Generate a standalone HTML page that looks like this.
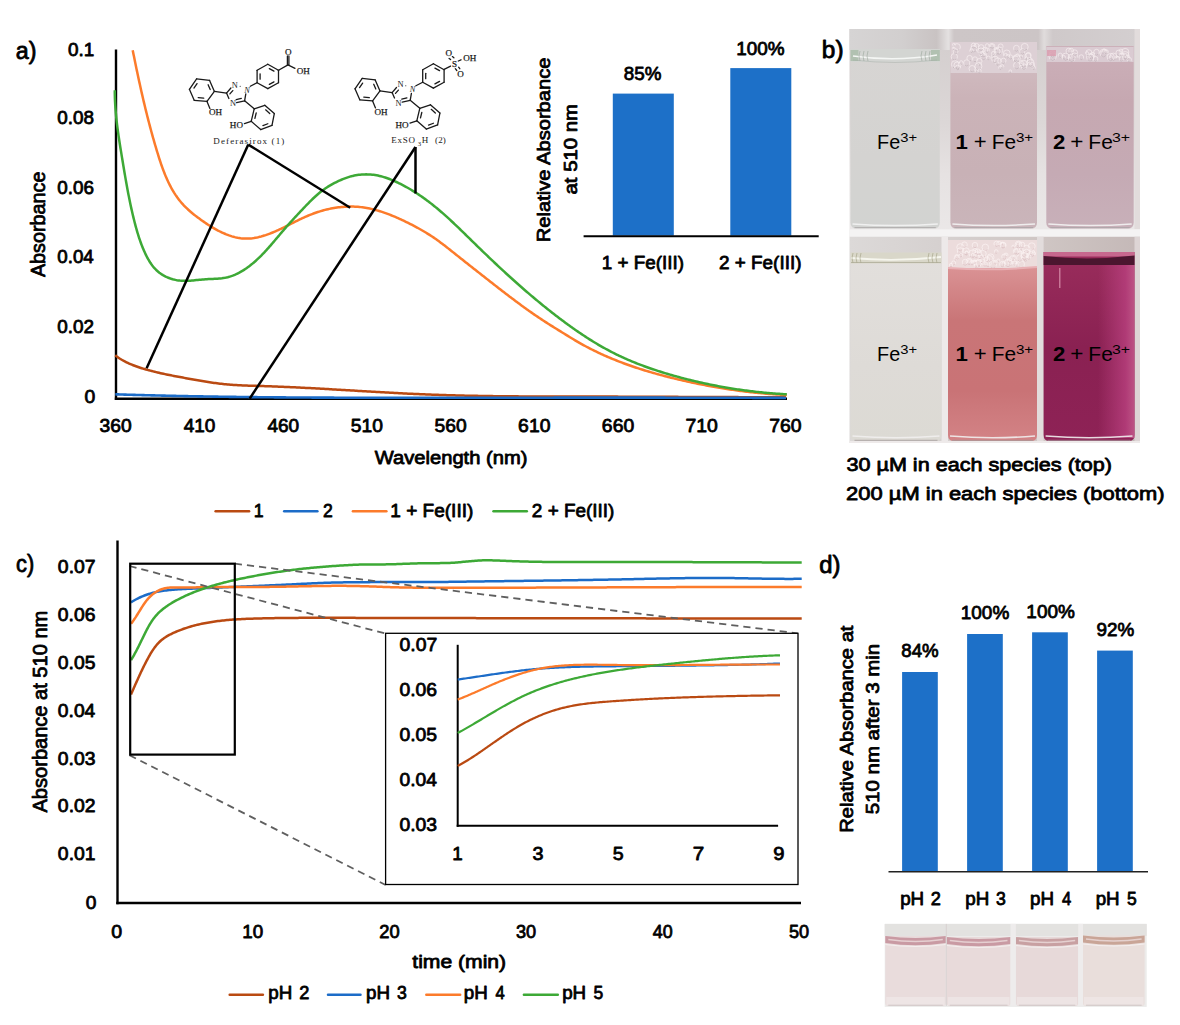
<!DOCTYPE html>
<html><head><meta charset="utf-8"><title>figure</title>
<style>html,body{margin:0;padding:0;background:#fff;}svg{display:block;}</style>
</head><body>
<svg width="1180" height="1025" viewBox="0 0 1180 1025">
<defs>
<linearGradient id="v1t" x1="0" y1="0" x2="0" y2="1"><stop offset="0" stop-color="#d7d5d3"/><stop offset="0.6" stop-color="#d4d3d1"/><stop offset="1" stop-color="#d2d3d1"/></linearGradient>
<linearGradient id="gapt" x1="0" y1="0" x2="0" y2="1"><stop offset="0" stop-color="#d3cdcd"/><stop offset="0.45" stop-color="#dcd7d7"/><stop offset="0.7" stop-color="#e6e2e2"/><stop offset="1" stop-color="#ebe8e8"/></linearGradient>
<linearGradient id="topband" x1="0" y1="0" x2="1" y2="0"><stop offset="0" stop-color="#d6d4d4"/><stop offset="0.18" stop-color="#d2cfcf"/><stop offset="0.3" stop-color="#c9c3c3"/><stop offset="0.34" stop-color="#e4e1e1"/><stop offset="0.36" stop-color="#cdc6c7"/><stop offset="0.65" stop-color="#ccc5c6"/><stop offset="0.67" stop-color="#e0dcdc"/><stop offset="0.7" stop-color="#cfc9ca"/><stop offset="1" stop-color="#d4cfd0"/></linearGradient>
<linearGradient id="botband" x1="0" y1="0" x2="1" y2="0"><stop offset="0" stop-color="#dcd9d8"/><stop offset="0.3" stop-color="#d6d1d0"/><stop offset="0.66" stop-color="#cfc6c4"/><stop offset="1" stop-color="#c4b8b7"/></linearGradient>
<linearGradient id="v2t" x1="0" y1="0" x2="0" y2="1"><stop offset="0" stop-color="#d4c0c5"/><stop offset="0.3" stop-color="#cbb3b8"/><stop offset="0.7" stop-color="#c8b1b6"/><stop offset="1" stop-color="#cab5ba"/></linearGradient>
<linearGradient id="v3t" x1="0" y1="0" x2="0" y2="1"><stop offset="0" stop-color="#ccb0b9"/><stop offset="0.3" stop-color="#c6a8b1"/><stop offset="0.7" stop-color="#c5aab4"/><stop offset="1" stop-color="#c8b0b9"/></linearGradient>
<linearGradient id="v1b" x1="0" y1="0" x2="0" y2="1"><stop offset="0" stop-color="#e2dfdc"/><stop offset="0.6" stop-color="#dedbd7"/><stop offset="1" stop-color="#dcdad4"/></linearGradient>
<linearGradient id="v2b" x1="0" y1="0" x2="0" y2="1"><stop offset="0" stop-color="#e6cfd0"/><stop offset="0.14" stop-color="#da9294"/><stop offset="0.4" stop-color="#c97577"/><stop offset="0.75" stop-color="#c97376"/><stop offset="1" stop-color="#d38386"/></linearGradient>
<linearGradient id="v3b" x1="0" y1="0" x2="0" y2="1"><stop offset="0" stop-color="#9a2d5c"/><stop offset="0.5" stop-color="#8a2152"/><stop offset="1" stop-color="#8e2256"/></linearGradient>
<linearGradient id="v3bh" x1="0" y1="0" x2="1" y2="0"><stop offset="0" stop-color="#b8407e" stop-opacity="0"/><stop offset="0.6" stop-color="#b8407e" stop-opacity="0"/><stop offset="0.9" stop-color="#b8407e" stop-opacity="0.8"/><stop offset="1" stop-color="#c25a8a" stop-opacity="0.9"/></linearGradient>
<linearGradient id="dph" x1="0" y1="0" x2="0" y2="1"><stop offset="0" stop-color="#ecdcdc"/><stop offset="1" stop-color="#e9dcdb"/></linearGradient>
</defs>
<rect width="1180" height="1025" fill="#fff"/>
<text x="15.89" y="59.00" font-family='"Liberation Sans", sans-serif' font-size="23" font-weight="normal" stroke="#000" stroke-width="0.8" stroke-linejoin="round" font-style="normal" fill="#000" textLength="20.67" lengthAdjust="spacingAndGlyphs" >a)</text>
<text x="821.83" y="57.60" font-family='"Liberation Sans", sans-serif' font-size="23" font-weight="normal" stroke="#000" stroke-width="0.8" stroke-linejoin="round" font-style="normal" fill="#000" textLength="21.68" lengthAdjust="spacingAndGlyphs" >b)</text>
<text x="16.03" y="572.30" font-family='"Liberation Sans", sans-serif' font-size="23" font-weight="normal" stroke="#000" stroke-width="0.8" stroke-linejoin="round" font-style="normal" fill="#000" textLength="18.17" lengthAdjust="spacingAndGlyphs" >c)</text>
<text x="819.18" y="573.00" font-family='"Liberation Sans", sans-serif' font-size="23" font-weight="normal" stroke="#000" stroke-width="0.8" stroke-linejoin="round" font-style="normal" fill="#000" textLength="21.21" lengthAdjust="spacingAndGlyphs" >d)</text>
<line x1="116" y1="49.5" x2="116" y2="400" stroke="#000" stroke-width="2.4" />
<line x1="114.8" y1="398.8" x2="787" y2="398.8" stroke="#000" stroke-width="2.4" />
<text x="67.90" y="55.50" font-family='"Liberation Sans", sans-serif' font-size="18.6" font-weight="normal" stroke="#000" stroke-width="0.8" stroke-linejoin="round" font-style="normal" fill="#000" textLength="26.27" lengthAdjust="spacingAndGlyphs" >0.1</text>
<text x="57.30" y="123.80" font-family='"Liberation Sans", sans-serif' font-size="18.6" font-weight="normal" stroke="#000" stroke-width="0.8" stroke-linejoin="round" font-style="normal" fill="#000" textLength="36.71" lengthAdjust="spacingAndGlyphs" >0.08</text>
<text x="57.30" y="193.50" font-family='"Liberation Sans", sans-serif' font-size="18.6" font-weight="normal" stroke="#000" stroke-width="0.8" stroke-linejoin="round" font-style="normal" fill="#000" textLength="36.71" lengthAdjust="spacingAndGlyphs" >0.06</text>
<text x="57.30" y="263.20" font-family='"Liberation Sans", sans-serif' font-size="18.6" font-weight="normal" stroke="#000" stroke-width="0.8" stroke-linejoin="round" font-style="normal" fill="#000" textLength="36.51" lengthAdjust="spacingAndGlyphs" >0.04</text>
<text x="57.29" y="332.90" font-family='"Liberation Sans", sans-serif' font-size="18.6" font-weight="normal" stroke="#000" stroke-width="0.8" stroke-linejoin="round" font-style="normal" fill="#000" textLength="36.82" lengthAdjust="spacingAndGlyphs" >0.02</text>
<text x="84.59" y="402.60" font-family='"Liberation Sans", sans-serif' font-size="18.6" font-weight="normal" stroke="#000" stroke-width="0.8" stroke-linejoin="round" font-style="normal" fill="#000" textLength="10.77" lengthAdjust="spacingAndGlyphs" >0</text>
<text x="99.59" y="431.50" font-family='"Liberation Sans", sans-serif' font-size="18.6" font-weight="normal" stroke="#000" stroke-width="0.8" stroke-linejoin="round" font-style="normal" fill="#000" textLength="32.06" lengthAdjust="spacingAndGlyphs" >360</text>
<text x="183.65" y="431.50" font-family='"Liberation Sans", sans-serif' font-size="18.6" font-weight="normal" stroke="#000" stroke-width="0.8" stroke-linejoin="round" font-style="normal" fill="#000" textLength="31.74" lengthAdjust="spacingAndGlyphs" >410</text>
<text x="267.40" y="431.50" font-family='"Liberation Sans", sans-serif' font-size="18.6" font-weight="normal" stroke="#000" stroke-width="0.8" stroke-linejoin="round" font-style="normal" fill="#000" textLength="31.74" lengthAdjust="spacingAndGlyphs" >460</text>
<text x="350.84" y="431.50" font-family='"Liberation Sans", sans-serif' font-size="18.6" font-weight="normal" stroke="#000" stroke-width="0.8" stroke-linejoin="round" font-style="normal" fill="#000" textLength="32.06" lengthAdjust="spacingAndGlyphs" >510</text>
<text x="434.59" y="431.50" font-family='"Liberation Sans", sans-serif' font-size="18.6" font-weight="normal" stroke="#000" stroke-width="0.8" stroke-linejoin="round" font-style="normal" fill="#000" textLength="32.06" lengthAdjust="spacingAndGlyphs" >560</text>
<text x="518.13" y="431.50" font-family='"Liberation Sans", sans-serif' font-size="18.6" font-weight="normal" stroke="#000" stroke-width="0.8" stroke-linejoin="round" font-style="normal" fill="#000" textLength="32.27" lengthAdjust="spacingAndGlyphs" >610</text>
<text x="601.88" y="431.50" font-family='"Liberation Sans", sans-serif' font-size="18.6" font-weight="normal" stroke="#000" stroke-width="0.8" stroke-linejoin="round" font-style="normal" fill="#000" textLength="32.27" lengthAdjust="spacingAndGlyphs" >660</text>
<text x="685.52" y="431.50" font-family='"Liberation Sans", sans-serif' font-size="18.6" font-weight="normal" stroke="#000" stroke-width="0.8" stroke-linejoin="round" font-style="normal" fill="#000" textLength="32.37" lengthAdjust="spacingAndGlyphs" >710</text>
<text x="769.27" y="431.50" font-family='"Liberation Sans", sans-serif' font-size="18.6" font-weight="normal" stroke="#000" stroke-width="0.8" stroke-linejoin="round" font-style="normal" fill="#000" textLength="32.37" lengthAdjust="spacingAndGlyphs" >760</text>
<text x="374.82" y="463.70" font-family='"Liberation Sans", sans-serif' font-size="18.6" font-weight="normal" stroke="#000" stroke-width="0.8" stroke-linejoin="round" font-style="normal" fill="#000" textLength="152.56" lengthAdjust="spacingAndGlyphs" >Wavelength (nm)</text>
<text transform="translate(45.40,277.11) rotate(-90)" x="0" y="0" font-family='"Liberation Sans", sans-serif' font-size="20.5" font-weight="normal" stroke="#000" stroke-width="0.8" stroke-linejoin="round" font-style="normal" fill="#000" textLength="105.50" lengthAdjust="spacingAndGlyphs">Absorbance</text>
<path d="M115.26,355.34 L116.44,356.24 L117.63,357.10 L118.85,357.92 L120.08,358.72 L121.33,359.49 L122.60,360.23 L123.88,360.94 L125.18,361.62 L126.49,362.28 L127.82,362.92 L129.15,363.53 L130.50,364.12 L131.86,364.69 L133.23,365.24 L134.61,365.77 L136.00,366.29 L137.40,366.78 L138.81,367.27 L140.22,367.73 L141.65,368.19 L143.07,368.63 L144.51,369.05 L145.95,369.47 L147.39,369.88 L148.84,370.27 L150.29,370.66 L151.74,371.04 L153.20,371.41 L154.67,371.78 L156.13,372.13 L157.60,372.48 L159.07,372.82 L160.55,373.16 L162.02,373.48 L163.50,373.81 L164.98,374.12 L166.47,374.43 L167.95,374.74 L169.44,375.04 L170.93,375.34 L172.42,375.63 L173.90,375.92 L175.40,376.21 L176.89,376.49 L178.38,376.77 L179.87,377.05 L181.36,377.33 L182.85,377.60 L184.34,377.88 L185.83,378.15 L187.32,378.43 L188.81,378.70 L190.30,378.97 L191.78,379.24 L193.27,379.51 L194.76,379.77 L196.24,380.04 L197.73,380.30 L199.21,380.56 L200.70,380.81 L202.18,381.07 L203.67,381.31 L205.15,381.56 L206.63,381.79 L208.12,382.03 L209.60,382.25 L211.09,382.48 L212.58,382.69 L214.06,382.90 L215.55,383.10 L217.04,383.30 L218.53,383.48 L220.01,383.66 L221.50,383.83 L223.00,384.00 L224.49,384.15 L225.98,384.29 L227.48,384.43 L228.97,384.56 L230.47,384.68 L231.96,384.79 L233.46,384.89 L234.96,384.99 L236.46,385.08 L237.96,385.16 L239.46,385.24 L240.97,385.32 L242.47,385.39 L243.97,385.45 L245.48,385.51 L246.98,385.57 L248.49,385.63 L249.99,385.68 L251.50,385.73 L253.00,385.78 L254.51,385.82 L256.01,385.87 L257.52,385.91 L259.03,385.96 L260.53,386.00 L262.04,386.05 L263.55,386.09 L265.05,386.14 L266.56,386.19 L268.07,386.24 L269.57,386.29 L271.08,386.34 L272.58,386.40 L274.09,386.45 L275.60,386.51 L277.10,386.57 L278.61,386.63 L280.11,386.69 L281.62,386.75 L283.12,386.81 L284.63,386.88 L286.14,386.94 L287.64,387.01 L289.15,387.08 L290.65,387.14 L292.16,387.21 L293.66,387.28 L295.17,387.36 L296.67,387.43 L298.18,387.50 L299.68,387.58 L301.19,387.65 L302.69,387.73 L304.20,387.80 L305.70,387.88 L307.21,387.96 L308.71,388.04 L310.21,388.12 L311.72,388.20 L313.22,388.28 L314.73,388.36 L316.23,388.44 L317.74,388.52 L319.24,388.61 L320.75,388.69 L322.25,388.77 L323.75,388.86 L325.26,388.94 L326.76,389.03 L328.27,389.12 L329.77,389.20 L331.27,389.29 L332.78,389.38 L334.28,389.46 L335.79,389.55 L337.29,389.64 L338.79,389.73 L340.30,389.82 L341.80,389.90 L343.31,389.99 L344.81,390.08 L346.31,390.17 L347.82,390.26 L349.32,390.35 L350.82,390.44 L352.33,390.53 L353.83,390.62 L355.34,390.71 L356.84,390.80 L358.34,390.89 L359.85,390.98 L361.35,391.06 L362.85,391.15 L364.36,391.24 L365.86,391.33 L367.37,391.42 L368.87,391.51 L370.37,391.59 L371.88,391.68 L373.38,391.77 L374.88,391.86 L376.39,391.94 L377.89,392.03 L379.39,392.11 L380.90,392.20 L382.40,392.28 L383.91,392.37 L385.41,392.45 L386.91,392.53 L388.42,392.62 L389.92,392.70 L391.42,392.78 L392.93,392.86 L394.43,392.94 L395.94,393.02 L397.44,393.10 L398.94,393.18 L400.45,393.25 L401.95,393.33 L403.46,393.41 L404.96,393.48 L406.46,393.56 L407.97,393.63 L409.47,393.70 L410.98,393.77 L412.48,393.84 L413.99,393.91 L415.49,393.98 L416.99,394.05 L418.50,394.11 L420.00,394.18 L421.51,394.24 L423.01,394.30 L424.52,394.37 L426.02,394.43 L427.53,394.49 L429.03,394.54 L430.54,394.60 L432.04,394.66 L433.55,394.71 L435.05,394.77 L436.55,394.82 L438.06,394.87 L439.56,394.92 L441.07,394.97 L442.58,395.02 L444.08,395.07 L445.59,395.11 L447.09,395.16 L448.60,395.20 L450.10,395.25 L451.61,395.29 L453.11,395.33 L454.62,395.37 L456.12,395.41 L457.63,395.45 L459.13,395.49 L460.64,395.52 L462.14,395.56 L463.65,395.59 L465.16,395.63 L466.66,395.66 L468.17,395.69 L469.67,395.73 L471.18,395.76 L472.68,395.79 L474.19,395.82 L475.70,395.84 L477.20,395.87 L478.71,395.90 L480.21,395.92 L481.72,395.95 L483.23,395.97 L484.73,396.00 L486.24,396.02 L487.74,396.04 L489.25,396.07 L490.76,396.09 L492.26,396.11 L493.77,396.13 L495.27,396.15 L496.78,396.17 L498.29,396.18 L499.79,396.20 L501.30,396.22 L502.81,396.23 L504.31,396.25 L505.82,396.26 L507.33,396.28 L508.83,396.29 L510.34,396.31 L511.84,396.32 L513.35,396.33 L514.86,396.34 L516.36,396.35 L517.87,396.37 L519.38,396.38 L520.88,396.39 L522.39,396.40 L523.90,396.41 L525.40,396.41 L526.91,396.42 L528.42,396.43 L529.92,396.44 L531.43,396.45 L532.94,396.45 L534.44,396.46 L535.95,396.46 L537.45,396.47 L538.96,396.48 L540.47,396.48 L541.97,396.49 L543.48,396.49 L544.99,396.50 L546.49,396.50 L548.00,396.50 L549.51,396.51 L551.01,396.51 L552.52,396.51 L554.03,396.52 L555.53,396.52 L557.04,396.52 L558.55,396.53 L560.05,396.53 L561.56,396.53 L563.07,396.53 L564.57,396.54 L566.08,396.54 L567.59,396.54 L569.09,396.54 L570.60,396.54 L572.11,396.54 L573.61,396.55 L575.12,396.55 L576.63,396.55 L578.13,396.55 L579.64,396.55 L581.15,396.55 L582.65,396.56 L584.16,396.56 L585.67,396.56 L587.17,396.56 L588.68,396.56 L590.19,396.56 L591.69,396.57 L593.20,396.57 L594.71,396.57 L596.21,396.57 L597.72,396.58 L599.23,396.58 L600.73,396.58 L602.24,396.58 L603.74,396.59 L605.25,396.59 L606.76,396.59 L608.26,396.60 L609.77,396.60 L611.28,396.61 L612.78,396.61 L614.29,396.61 L615.80,396.62 L617.30,396.62 L618.81,396.63 L620.31,396.63 L621.82,396.64 L623.33,396.64 L624.83,396.65 L626.34,396.65 L627.85,396.66 L629.35,396.66 L630.86,396.67 L632.36,396.67 L633.87,396.68 L635.38,396.68 L636.88,396.69 L638.39,396.70 L639.90,396.70 L641.40,396.71 L642.91,396.71 L644.41,396.72 L645.92,396.73 L647.43,396.73 L648.93,396.74 L650.44,396.75 L651.94,396.75 L653.45,396.76 L654.96,396.76 L656.46,396.77 L657.97,396.78 L659.47,396.79 L660.98,396.79 L662.49,396.80 L663.99,396.81 L665.50,396.81 L667.00,396.82 L668.51,396.83 L670.02,396.83 L671.52,396.84 L673.03,396.85 L674.54,396.85 L676.04,396.86 L677.55,396.87 L679.05,396.88 L680.56,396.88 L682.07,396.89 L683.57,396.90 L685.08,396.90 L686.58,396.91 L688.09,396.92 L689.60,396.92 L691.10,396.93 L692.61,396.94 L694.11,396.95 L695.62,396.95 L697.13,396.96 L698.63,396.97 L700.14,396.97 L701.64,396.98 L703.15,396.99 L704.66,396.99 L706.16,397.00 L707.67,397.01 L709.18,397.01 L710.68,397.02 L712.19,397.03 L713.69,397.03 L715.20,397.04 L716.71,397.04 L718.21,397.05 L719.72,397.06 L721.22,397.06 L722.73,397.07 L724.24,397.07 L725.74,397.08 L727.25,397.08 L728.76,397.09 L730.26,397.10 L731.77,397.10 L733.27,397.11 L734.78,397.11 L736.29,397.12 L737.79,397.12 L739.30,397.13 L740.81,397.13 L742.31,397.13 L743.82,397.14 L745.32,397.14 L746.83,397.15 L748.34,397.15 L749.84,397.15 L751.35,397.16 L752.86,397.16 L754.36,397.16 L755.87,397.17 L757.38,397.17 L758.88,397.17 L760.39,397.18 L761.89,397.18 L763.40,397.18 L764.91,397.18 L766.41,397.19 L767.92,397.19 L769.43,397.19 L770.93,397.19 L772.44,397.19 L773.95,397.19 L775.45,397.19 L776.96,397.19 L778.47,397.19 L779.97,397.19 L781.48,397.19 L782.99,397.19 L784.49,397.19 L786.00,397.19" fill="none" stroke="#BA4A12" stroke-width="2.5" stroke-linejoin="round" stroke-linecap="butt" />
<path d="M115.30,394.32 L116.80,394.37 L118.30,394.42 L119.80,394.46 L121.31,394.51 L122.81,394.55 L124.31,394.60 L125.82,394.64 L127.32,394.69 L128.82,394.73 L130.33,394.78 L131.83,394.82 L133.33,394.86 L134.84,394.91 L136.34,394.95 L137.84,394.99 L139.34,395.03 L140.85,395.07 L142.35,395.11 L143.85,395.15 L145.36,395.19 L146.86,395.23 L148.36,395.27 L149.87,395.31 L151.37,395.35 L152.87,395.38 L154.38,395.42 L155.88,395.46 L157.38,395.49 L158.89,395.53 L160.39,395.57 L161.89,395.60 L163.40,395.64 L164.90,395.67 L166.40,395.71 L167.91,395.74 L169.41,395.77 L170.91,395.81 L172.42,395.84 L173.92,395.87 L175.42,395.90 L176.93,395.94 L178.43,395.97 L179.93,396.00 L181.44,396.03 L182.94,396.06 L184.44,396.09 L185.95,396.12 L187.45,396.15 L188.95,396.18 L190.46,396.21 L191.96,396.24 L193.46,396.26 L194.97,396.29 L196.47,396.32 L197.97,396.35 L199.48,396.37 L200.98,396.40 L202.48,396.42 L203.99,396.45 L205.49,396.48 L207.00,396.50 L208.50,396.53 L210.00,396.55 L211.51,396.57 L213.01,396.60 L214.51,396.62 L216.02,396.64 L217.52,396.67 L219.02,396.69 L220.53,396.71 L222.03,396.73 L223.53,396.76 L225.04,396.78 L226.54,396.80 L228.04,396.82 L229.55,396.84 L231.05,396.86 L232.56,396.88 L234.06,396.90 L235.56,396.92 L237.07,396.94 L238.57,396.96 L240.07,396.98 L241.58,396.99 L243.08,397.01 L244.58,397.03 L246.09,397.05 L247.59,397.07 L249.10,397.08 L250.60,397.10 L252.10,397.12 L253.61,397.13 L255.11,397.15 L256.61,397.16 L258.12,397.18 L259.62,397.19 L261.13,397.21 L262.63,397.22 L264.13,397.24 L265.64,397.25 L267.14,397.27 L268.64,397.28 L270.15,397.29 L271.65,397.31 L273.16,397.32 L274.66,397.33 L276.16,397.34 L277.67,397.36 L279.17,397.37 L280.67,397.38 L282.18,397.39 L283.68,397.40 L285.19,397.42 L286.69,397.43 L288.19,397.44 L289.70,397.45 L291.20,397.46 L292.70,397.47 L294.21,397.48 L295.71,397.49 L297.22,397.50 L298.72,397.51 L300.22,397.52 L301.73,397.53 L303.23,397.53 L304.74,397.54 L306.24,397.55 L307.74,397.56 L309.25,397.57 L310.75,397.57 L312.25,397.58 L313.76,397.59 L315.26,397.60 L316.77,397.60 L318.27,397.61 L319.77,397.62 L321.28,397.62 L322.78,397.63 L324.29,397.64 L325.79,397.64 L327.29,397.65 L328.80,397.65 L330.30,397.66 L331.81,397.67 L333.31,397.67 L334.81,397.68 L336.32,397.68 L337.82,397.69 L339.32,397.69 L340.83,397.69 L342.33,397.70 L343.84,397.70 L345.34,397.71 L346.84,397.71 L348.35,397.71 L349.85,397.72 L351.36,397.72 L352.86,397.73 L354.36,397.73 L355.87,397.73 L357.37,397.73 L358.88,397.74 L360.38,397.74 L361.88,397.74 L363.39,397.75 L364.89,397.75 L366.40,397.75 L367.90,397.75 L369.40,397.75 L370.91,397.76 L372.41,397.76 L373.92,397.76 L375.42,397.76 L376.92,397.76 L378.43,397.76 L379.93,397.77 L381.44,397.77 L382.94,397.77 L384.44,397.77 L385.95,397.77 L387.45,397.77 L388.96,397.77 L390.46,397.77 L391.96,397.77 L393.47,397.77 L394.97,397.77 L396.48,397.77 L397.98,397.77 L399.48,397.77 L400.99,397.77 L402.49,397.77 L404.00,397.77 L405.50,397.77 L407.00,397.77 L408.51,397.77 L410.01,397.77 L411.52,397.77 L413.02,397.77 L414.52,397.77 L416.03,397.77 L417.53,397.77 L419.04,397.77 L420.54,397.77 L422.04,397.77 L423.55,397.77 L425.05,397.77 L426.56,397.77 L428.06,397.77 L429.56,397.77 L431.07,397.77 L432.57,397.76 L434.08,397.76 L435.58,397.76 L437.08,397.76 L438.59,397.76 L440.09,397.76 L441.60,397.76 L443.10,397.76 L444.60,397.76 L446.11,397.76 L447.61,397.75 L449.12,397.75 L450.62,397.75 L452.12,397.75 L453.63,397.75 L455.13,397.75 L456.64,397.75 L458.14,397.75 L459.64,397.75 L461.15,397.74 L462.65,397.74 L464.16,397.74 L465.66,397.74 L467.16,397.74 L468.67,397.74 L470.17,397.74 L471.68,397.74 L473.18,397.73 L474.68,397.73 L476.19,397.73 L477.69,397.73 L479.20,397.73 L480.70,397.73 L482.20,397.73 L483.71,397.73 L485.21,397.73 L486.72,397.72 L488.22,397.72 L489.72,397.72 L491.23,397.72 L492.73,397.72 L494.24,397.72 L495.74,397.72 L497.24,397.72 L498.75,397.71 L500.25,397.71 L501.76,397.71 L503.26,397.71 L504.76,397.71 L506.27,397.71 L507.77,397.71 L509.28,397.71 L510.78,397.70 L512.28,397.70 L513.79,397.70 L515.29,397.70 L516.80,397.70 L518.30,397.70 L519.80,397.70 L521.31,397.70 L522.81,397.70 L524.32,397.69 L525.82,397.69 L527.32,397.69 L528.83,397.69 L530.33,397.69 L531.84,397.69 L533.34,397.69 L534.84,397.69 L536.35,397.69 L537.85,397.68 L539.36,397.68 L540.86,397.68 L542.36,397.68 L543.87,397.68 L545.37,397.68 L546.88,397.68 L548.38,397.68 L549.88,397.68 L551.39,397.68 L552.89,397.68 L554.40,397.67 L555.90,397.67 L557.40,397.67 L558.91,397.67 L560.41,397.67 L561.92,397.67 L563.42,397.67 L564.92,397.67 L566.43,397.67 L567.93,397.67 L569.44,397.67 L570.94,397.67 L572.44,397.67 L573.95,397.66 L575.45,397.66 L576.95,397.66 L578.46,397.66 L579.96,397.66 L581.47,397.66 L582.97,397.66 L584.47,397.66 L585.98,397.66 L587.48,397.66 L588.99,397.66 L590.49,397.66 L591.99,397.66 L593.50,397.66 L595.00,397.66 L596.51,397.66 L598.01,397.66 L599.51,397.66 L601.02,397.66 L602.52,397.66 L604.03,397.66 L605.53,397.66 L607.03,397.66 L608.54,397.66 L610.04,397.66 L611.55,397.66 L613.05,397.66 L614.55,397.66 L616.06,397.66 L617.56,397.66 L619.07,397.66 L620.57,397.66 L622.07,397.66 L623.58,397.66 L625.08,397.66 L626.59,397.66 L628.09,397.66 L629.59,397.66 L631.10,397.66 L632.60,397.66 L634.11,397.66 L635.61,397.66 L637.11,397.66 L638.62,397.66 L640.12,397.66 L641.62,397.66 L643.13,397.66 L644.63,397.66 L646.14,397.66 L647.64,397.66 L649.14,397.67 L650.65,397.67 L652.15,397.67 L653.66,397.67 L655.16,397.67 L656.66,397.67 L658.17,397.67 L659.67,397.67 L661.18,397.67 L662.68,397.67 L664.18,397.67 L665.69,397.68 L667.19,397.68 L668.70,397.68 L670.20,397.68 L671.70,397.68 L673.21,397.68 L674.71,397.68 L676.22,397.69 L677.72,397.69 L679.22,397.69 L680.73,397.69 L682.23,397.69 L683.73,397.69 L685.24,397.70 L686.74,397.70 L688.25,397.70 L689.75,397.70 L691.25,397.70 L692.76,397.71 L694.26,397.71 L695.77,397.71 L697.27,397.71 L698.77,397.71 L700.28,397.72 L701.78,397.72 L703.29,397.72 L704.79,397.72 L706.29,397.73 L707.80,397.73 L709.30,397.73 L710.81,397.73 L712.31,397.74 L713.81,397.74 L715.32,397.74 L716.82,397.74 L718.32,397.75 L719.83,397.75 L721.33,397.75 L722.84,397.76 L724.34,397.76 L725.84,397.76 L727.35,397.77 L728.85,397.77 L730.36,397.77 L731.86,397.78 L733.36,397.78 L734.87,397.78 L736.37,397.79 L737.88,397.79 L739.38,397.79 L740.88,397.80 L742.39,397.80 L743.89,397.80 L745.39,397.81 L746.90,397.81 L748.40,397.82 L749.91,397.82 L751.41,397.82 L752.91,397.83 L754.42,397.83 L755.92,397.84 L757.43,397.84 L758.93,397.85 L760.43,397.85 L761.94,397.85 L763.44,397.86 L764.95,397.86 L766.45,397.87 L767.95,397.87 L769.46,397.88 L770.96,397.88 L772.46,397.89 L773.97,397.89 L775.47,397.90 L776.98,397.90 L778.48,397.91 L779.98,397.91 L781.49,397.92 L782.99,397.92 L784.50,397.93 L786.00,397.94" fill="none" stroke="#1C6CC8" stroke-width="2.6" stroke-linejoin="round" stroke-linecap="butt" />
<path d="M132.69,50.20 L132.99,51.68 L133.29,53.16 L133.59,54.64 L133.89,56.12 L134.19,57.60 L134.49,59.08 L134.79,60.56 L135.09,62.04 L135.40,63.51 L135.70,64.99 L136.01,66.46 L136.31,67.94 L136.62,69.41 L136.93,70.88 L137.24,72.35 L137.55,73.82 L137.86,75.29 L138.18,76.76 L138.49,78.23 L138.81,79.70 L139.13,81.17 L139.45,82.63 L139.77,84.10 L140.09,85.57 L140.42,87.03 L140.74,88.50 L141.07,89.96 L141.40,91.42 L141.73,92.88 L142.07,94.35 L142.40,95.81 L142.74,97.27 L143.08,98.73 L143.42,100.19 L143.76,101.65 L144.11,103.11 L144.46,104.56 L144.81,106.02 L145.16,107.48 L145.51,108.94 L145.87,110.39 L146.23,111.85 L146.59,113.31 L146.95,114.76 L147.32,116.22 L147.69,117.67 L148.06,119.12 L148.43,120.58 L148.81,122.03 L149.19,123.49 L149.57,124.94 L149.95,126.39 L150.34,127.84 L150.73,129.30 L151.13,130.75 L151.52,132.20 L151.92,133.65 L152.32,135.10 L152.73,136.55 L153.13,138.00 L153.55,139.45 L153.96,140.90 L154.38,142.35 L154.80,143.81 L155.22,145.26 L155.65,146.70 L156.08,148.15 L156.51,149.60 L156.95,151.05 L157.39,152.50 L157.84,153.95 L158.29,155.40 L158.74,156.85 L159.20,158.29 L159.67,159.74 L160.14,161.18 L160.62,162.62 L161.10,164.05 L161.60,165.48 L162.10,166.91 L162.62,168.33 L163.14,169.75 L163.67,171.16 L164.22,172.56 L164.77,173.96 L165.34,175.35 L165.92,176.74 L166.51,178.11 L167.12,179.48 L167.74,180.84 L168.38,182.19 L169.03,183.53 L169.70,184.86 L170.38,186.18 L171.08,187.49 L171.80,188.79 L172.54,190.08 L173.29,191.35 L174.06,192.62 L174.86,193.86 L175.67,195.10 L176.51,196.32 L177.36,197.53 L178.24,198.72 L179.14,199.90 L180.06,201.06 L181.01,202.20 L181.98,203.33 L182.97,204.44 L183.99,205.54 L185.04,206.61 L186.10,207.67 L187.19,208.72 L188.30,209.75 L189.43,210.76 L190.57,211.76 L191.73,212.74 L192.91,213.71 L194.10,214.67 L195.30,215.61 L196.51,216.54 L197.73,217.46 L198.96,218.37 L200.19,219.27 L201.43,220.16 L202.68,221.03 L203.93,221.90 L205.18,222.76 L206.43,223.60 L207.69,224.44 L208.96,225.25 L210.23,226.06 L211.51,226.85 L212.80,227.63 L214.10,228.39 L215.40,229.13 L216.72,229.85 L218.04,230.56 L219.38,231.24 L220.73,231.91 L222.09,232.55 L223.46,233.17 L224.85,233.77 L226.24,234.34 L227.65,234.88 L229.06,235.40 L230.49,235.88 L231.92,236.33 L233.36,236.74 L234.81,237.12 L236.26,237.46 L237.72,237.76 L239.19,238.01 L240.66,238.23 L242.14,238.40 L243.61,238.52 L245.09,238.59 L246.58,238.62 L248.06,238.59 L249.54,238.51 L251.03,238.39 L252.51,238.22 L253.99,238.01 L255.47,237.76 L256.94,237.48 L258.41,237.16 L259.88,236.80 L261.34,236.42 L262.79,236.00 L264.23,235.56 L265.67,235.10 L267.09,234.61 L268.51,234.10 L269.92,233.58 L271.32,233.03 L272.71,232.47 L274.09,231.89 L275.47,231.30 L276.84,230.70 L278.20,230.08 L279.56,229.45 L280.92,228.82 L282.27,228.17 L283.61,227.51 L284.96,226.85 L286.30,226.19 L287.64,225.52 L288.98,224.84 L290.32,224.17 L291.66,223.49 L292.99,222.82 L294.33,222.14 L295.68,221.47 L297.02,220.80 L298.37,220.14 L299.71,219.48 L301.07,218.84 L302.43,218.19 L303.79,217.56 L305.16,216.94 L306.53,216.34 L307.91,215.74 L309.30,215.16 L310.70,214.59 L312.10,214.05 L313.51,213.51 L314.93,213.00 L316.36,212.50 L317.80,212.03 L319.24,211.57 L320.69,211.12 L322.14,210.70 L323.60,210.30 L325.07,209.91 L326.54,209.55 L328.02,209.20 L329.50,208.88 L330.98,208.57 L332.47,208.29 L333.96,208.02 L335.45,207.78 L336.95,207.56 L338.45,207.36 L339.95,207.18 L341.45,207.03 L342.95,206.89 L344.45,206.78 L345.95,206.69 L347.46,206.63 L348.96,206.59 L350.46,206.57 L351.96,206.58 L353.45,206.61 L354.95,206.66 L356.44,206.74 L357.93,206.84 L359.41,206.97 L360.90,207.12 L362.37,207.30 L363.85,207.51 L365.32,207.73 L366.79,207.98 L368.25,208.26 L369.71,208.55 L371.16,208.87 L372.62,209.21 L374.06,209.56 L375.51,209.94 L376.95,210.34 L378.39,210.75 L379.82,211.19 L381.25,211.64 L382.67,212.10 L384.09,212.59 L385.51,213.08 L386.93,213.60 L388.34,214.12 L389.74,214.67 L391.14,215.22 L392.54,215.79 L393.94,216.37 L395.33,216.96 L396.72,217.56 L398.10,218.17 L399.48,218.79 L400.85,219.42 L402.23,220.06 L403.60,220.71 L404.96,221.36 L406.32,222.02 L407.68,222.69 L409.03,223.36 L410.38,224.04 L411.72,224.72 L413.06,225.42 L414.40,226.11 L415.73,226.82 L417.05,227.54 L418.37,228.26 L419.69,228.99 L421.00,229.73 L422.30,230.48 L423.60,231.23 L424.89,232.00 L426.17,232.78 L427.45,233.56 L428.72,234.36 L429.99,235.16 L431.25,235.98 L432.50,236.80 L433.74,237.64 L434.98,238.49 L436.20,239.35 L437.43,240.22 L438.64,241.10 L439.85,241.98 L441.05,242.88 L442.25,243.78 L443.45,244.69 L444.64,245.60 L445.83,246.52 L447.01,247.45 L448.19,248.37 L449.37,249.30 L450.55,250.24 L451.72,251.17 L452.90,252.11 L454.07,253.05 L455.25,253.98 L456.43,254.92 L457.60,255.86 L458.78,256.79 L459.95,257.73 L461.13,258.66 L462.31,259.60 L463.49,260.53 L464.66,261.46 L465.84,262.40 L467.02,263.33 L468.20,264.26 L469.38,265.19 L470.56,266.13 L471.74,267.06 L472.92,267.99 L474.10,268.92 L475.28,269.85 L476.46,270.78 L477.64,271.71 L478.83,272.64 L480.01,273.57 L481.19,274.50 L482.37,275.43 L483.56,276.35 L484.74,277.28 L485.92,278.21 L487.11,279.14 L488.29,280.06 L489.48,280.99 L490.66,281.92 L491.85,282.84 L493.04,283.77 L494.22,284.70 L495.41,285.62 L496.60,286.55 L497.79,287.47 L498.97,288.39 L500.16,289.32 L501.36,290.24 L502.55,291.16 L503.74,292.08 L504.93,292.99 L506.13,293.91 L507.32,294.83 L508.52,295.74 L509.72,296.65 L510.91,297.56 L512.11,298.47 L513.32,299.37 L514.52,300.28 L515.72,301.18 L516.93,302.08 L518.14,302.97 L519.35,303.87 L520.56,304.76 L521.77,305.65 L522.99,306.53 L524.21,307.42 L525.43,308.30 L526.65,309.17 L527.87,310.04 L529.10,310.91 L530.32,311.78 L531.55,312.64 L532.79,313.50 L534.02,314.36 L535.26,315.21 L536.50,316.05 L537.74,316.89 L538.99,317.73 L540.24,318.57 L541.49,319.40 L542.75,320.22 L544.00,321.04 L545.26,321.85 L546.53,322.67 L547.79,323.47 L549.06,324.28 L550.33,325.08 L551.60,325.88 L552.87,326.68 L554.15,327.47 L555.43,328.26 L556.70,329.06 L557.98,329.85 L559.26,330.64 L560.54,331.43 L561.82,332.22 L563.11,333.01 L564.39,333.81 L565.67,334.60 L566.96,335.39 L568.24,336.18 L569.53,336.96 L570.82,337.75 L572.11,338.53 L573.40,339.30 L574.70,340.07 L576.00,340.84 L577.30,341.60 L578.60,342.36 L579.91,343.10 L581.22,343.84 L582.54,344.58 L583.86,345.30 L585.18,346.02 L586.51,346.73 L587.84,347.43 L589.17,348.12 L590.51,348.81 L591.85,349.49 L593.19,350.16 L594.54,350.82 L595.89,351.48 L597.24,352.13 L598.60,352.77 L599.96,353.41 L601.32,354.04 L602.68,354.66 L604.05,355.28 L605.42,355.88 L606.80,356.49 L608.18,357.08 L609.56,357.67 L610.94,358.25 L612.33,358.83 L613.72,359.40 L615.11,359.96 L616.50,360.52 L617.90,361.07 L619.30,361.61 L620.70,362.15 L622.10,362.68 L623.51,363.21 L624.92,363.73 L626.33,364.24 L627.74,364.75 L629.16,365.26 L630.58,365.75 L632.00,366.25 L633.42,366.73 L634.84,367.21 L636.27,367.69 L637.70,368.16 L639.13,368.63 L640.56,369.09 L641.99,369.54 L643.43,369.99 L644.86,370.44 L646.30,370.88 L647.74,371.31 L649.18,371.74 L650.63,372.17 L652.07,372.59 L653.52,373.01 L654.97,373.42 L656.42,373.83 L657.87,374.23 L659.32,374.63 L660.77,375.02 L662.23,375.41 L663.68,375.80 L665.14,376.18 L666.60,376.56 L668.06,376.93 L669.52,377.30 L670.98,377.67 L672.44,378.03 L673.90,378.39 L675.37,378.75 L676.83,379.10 L678.30,379.45 L679.76,379.79 L681.23,380.14 L682.70,380.47 L684.16,380.81 L685.63,381.14 L687.10,381.47 L688.57,381.79 L690.04,382.11 L691.51,382.43 L692.98,382.74 L694.45,383.06 L695.93,383.36 L697.40,383.67 L698.87,383.97 L700.35,384.26 L701.82,384.56 L703.30,384.85 L704.77,385.13 L706.25,385.41 L707.73,385.69 L709.21,385.97 L710.68,386.24 L712.16,386.51 L713.64,386.77 L715.12,387.03 L716.60,387.29 L718.08,387.54 L719.57,387.79 L721.05,388.04 L722.53,388.28 L724.02,388.52 L725.50,388.75 L726.98,388.99 L728.47,389.21 L729.95,389.44 L731.44,389.66 L732.93,389.87 L734.42,390.08 L735.90,390.29 L737.39,390.50 L738.88,390.70 L740.37,390.89 L741.86,391.09 L743.35,391.27 L744.84,391.46 L746.33,391.64 L747.83,391.82 L749.32,391.99 L750.81,392.16 L752.31,392.32 L753.80,392.49 L755.30,392.64 L756.79,392.80 L758.29,392.95 L759.78,393.09 L761.28,393.23 L762.78,393.37 L764.27,393.50 L765.77,393.63 L767.27,393.75 L768.77,393.88 L770.27,393.99 L771.77,394.10 L773.27,394.21 L774.77,394.32 L776.28,394.42 L777.78,394.51 L779.28,394.60 L780.78,394.69 L782.29,394.77 L783.79,394.85 L785.30,394.93 L786.80,395.00" fill="none" stroke="#FC7B2B" stroke-width="2.5" stroke-linejoin="round" stroke-linecap="butt" />
<path d="M114.81,90.20 L114.80,91.71 L114.81,93.22 L114.83,94.73 L114.86,96.24 L114.90,97.74 L114.95,99.25 L115.01,100.75 L115.08,102.25 L115.16,103.75 L115.24,105.25 L115.34,106.75 L115.44,108.25 L115.55,109.75 L115.67,111.24 L115.80,112.74 L115.93,114.23 L116.08,115.72 L116.22,117.22 L116.38,118.71 L116.54,120.20 L116.71,121.69 L116.88,123.18 L117.06,124.67 L117.25,126.16 L117.44,127.64 L117.64,129.13 L117.84,130.62 L118.04,132.10 L118.25,133.59 L118.46,135.08 L118.68,136.56 L118.90,138.05 L119.12,139.53 L119.35,141.01 L119.58,142.50 L119.81,143.98 L120.05,145.47 L120.28,146.95 L120.52,148.43 L120.76,149.92 L121.00,151.40 L121.25,152.89 L121.49,154.37 L121.73,155.85 L121.98,157.34 L122.22,158.82 L122.47,160.31 L122.71,161.79 L122.96,163.28 L123.20,164.76 L123.45,166.25 L123.70,167.73 L123.95,169.22 L124.20,170.70 L124.45,172.19 L124.70,173.67 L124.95,175.16 L125.21,176.64 L125.46,178.12 L125.72,179.61 L125.98,181.09 L126.24,182.57 L126.51,184.05 L126.78,185.53 L127.05,187.01 L127.32,188.49 L127.59,189.97 L127.87,191.45 L128.15,192.93 L128.44,194.40 L128.73,195.88 L129.02,197.35 L129.31,198.83 L129.61,200.30 L129.91,201.77 L130.22,203.24 L130.53,204.71 L130.84,206.17 L131.16,207.64 L131.48,209.11 L131.81,210.57 L132.15,212.03 L132.48,213.49 L132.82,214.95 L133.17,216.41 L133.52,217.86 L133.88,219.32 L134.25,220.77 L134.62,222.22 L134.99,223.67 L135.37,225.12 L135.76,226.56 L136.15,228.01 L136.56,229.45 L136.97,230.89 L137.39,232.32 L137.82,233.75 L138.26,235.19 L138.71,236.61 L139.18,238.04 L139.66,239.46 L140.15,240.88 L140.65,242.29 L141.17,243.71 L141.70,245.11 L142.25,246.52 L142.82,247.92 L143.40,249.32 L144.00,250.71 L144.62,252.10 L145.25,253.48 L145.91,254.86 L146.59,256.23 L147.29,257.58 L148.02,258.92 L148.78,260.24 L149.56,261.53 L150.38,262.81 L151.23,264.05 L152.11,265.26 L153.02,266.44 L153.98,267.58 L154.97,268.69 L156.00,269.75 L157.08,270.76 L158.19,271.73 L159.35,272.65 L160.54,273.52 L161.77,274.34 L163.03,275.12 L164.32,275.84 L165.64,276.52 L166.98,277.15 L168.35,277.73 L169.74,278.26 L171.15,278.75 L172.58,279.18 L174.02,279.56 L175.48,279.89 L176.94,280.18 L178.42,280.41 L179.90,280.59 L181.38,280.73 L182.87,280.81 L184.36,280.85 L185.85,280.84 L187.35,280.81 L188.84,280.74 L190.34,280.65 L191.84,280.53 L193.34,280.40 L194.85,280.25 L196.35,280.10 L197.86,279.95 L199.37,279.79 L200.88,279.65 L202.39,279.51 L203.90,279.39 L205.42,279.29 L206.93,279.20 L208.45,279.12 L209.96,279.05 L211.47,278.99 L212.98,278.92 L214.48,278.84 L215.98,278.76 L217.48,278.66 L218.97,278.54 L220.45,278.40 L221.93,278.23 L223.40,278.02 L224.86,277.79 L226.31,277.51 L227.75,277.19 L229.18,276.82 L230.60,276.40 L232.00,275.92 L233.40,275.40 L234.78,274.84 L236.15,274.23 L237.50,273.58 L238.84,272.90 L240.16,272.18 L241.47,271.43 L242.76,270.66 L244.03,269.85 L245.28,269.03 L246.52,268.18 L247.74,267.31 L248.95,266.42 L250.14,265.51 L251.31,264.59 L252.47,263.64 L253.61,262.68 L254.75,261.70 L255.86,260.71 L256.97,259.70 L258.06,258.68 L259.15,257.64 L260.22,256.59 L261.28,255.53 L262.33,254.46 L263.37,253.38 L264.41,252.28 L265.43,251.18 L266.45,250.07 L267.47,248.95 L268.47,247.83 L269.47,246.70 L270.47,245.56 L271.46,244.42 L272.44,243.27 L273.42,242.12 L274.40,240.97 L275.38,239.81 L276.36,238.66 L277.33,237.50 L278.30,236.34 L279.28,235.19 L280.25,234.03 L281.23,232.88 L282.20,231.73 L283.18,230.59 L284.16,229.44 L285.15,228.31 L286.14,227.18 L287.13,226.05 L288.12,224.93 L289.12,223.81 L290.12,222.69 L291.12,221.58 L292.12,220.47 L293.13,219.37 L294.14,218.27 L295.16,217.17 L296.17,216.07 L297.19,214.98 L298.21,213.88 L299.24,212.79 L300.26,211.70 L301.29,210.61 L302.32,209.52 L303.35,208.43 L304.39,207.34 L305.42,206.25 L306.46,205.17 L307.51,204.08 L308.56,203.01 L309.62,201.94 L310.68,200.87 L311.75,199.82 L312.83,198.77 L313.92,197.74 L315.02,196.72 L316.13,195.71 L317.26,194.72 L318.39,193.74 L319.55,192.78 L320.71,191.85 L321.89,190.93 L323.09,190.03 L324.31,189.16 L325.54,188.30 L326.79,187.47 L328.05,186.67 L329.33,185.88 L330.63,185.12 L331.94,184.37 L333.26,183.65 L334.59,182.95 L335.93,182.27 L337.29,181.60 L338.65,180.96 L340.03,180.33 L341.41,179.73 L342.81,179.15 L344.21,178.60 L345.62,178.07 L347.04,177.57 L348.47,177.11 L349.91,176.67 L351.36,176.27 L352.82,175.91 L354.28,175.59 L355.75,175.30 L357.23,175.05 L358.71,174.84 L360.20,174.67 L361.69,174.54 L363.18,174.44 L364.68,174.38 L366.17,174.36 L367.67,174.38 L369.16,174.44 L370.65,174.54 L372.13,174.67 L373.61,174.85 L375.09,175.06 L376.56,175.31 L378.02,175.60 L379.48,175.92 L380.93,176.28 L382.37,176.66 L383.81,177.08 L385.24,177.53 L386.66,178.01 L388.08,178.51 L389.49,179.04 L390.89,179.59 L392.29,180.16 L393.68,180.75 L395.06,181.37 L396.43,181.99 L397.80,182.64 L399.16,183.30 L400.52,183.97 L401.86,184.66 L403.20,185.36 L404.53,186.07 L405.86,186.79 L407.17,187.52 L408.48,188.27 L409.79,189.02 L411.08,189.79 L412.37,190.56 L413.65,191.35 L414.93,192.15 L416.19,192.96 L417.46,193.77 L418.71,194.60 L419.96,195.44 L421.20,196.29 L422.43,197.14 L423.65,198.01 L424.87,198.88 L426.09,199.76 L427.29,200.65 L428.49,201.55 L429.68,202.46 L430.87,203.38 L432.05,204.30 L433.22,205.23 L434.39,206.17 L435.55,207.11 L436.71,208.07 L437.86,209.02 L439.01,209.99 L440.15,210.96 L441.28,211.94 L442.41,212.92 L443.54,213.91 L444.66,214.90 L445.78,215.90 L446.90,216.90 L448.01,217.91 L449.12,218.92 L450.22,219.94 L451.32,220.96 L452.42,221.98 L453.51,223.01 L454.60,224.04 L455.69,225.08 L456.78,226.11 L457.87,227.15 L458.95,228.19 L460.03,229.24 L461.11,230.28 L462.19,231.33 L463.27,232.38 L464.34,233.43 L465.42,234.48 L466.49,235.54 L467.57,236.59 L468.64,237.64 L469.72,238.70 L470.79,239.75 L471.86,240.81 L472.94,241.86 L474.01,242.91 L475.09,243.96 L476.17,245.01 L477.24,246.06 L478.32,247.11 L479.40,248.16 L480.48,249.21 L481.56,250.26 L482.64,251.30 L483.73,252.34 L484.81,253.39 L485.89,254.43 L486.98,255.47 L488.07,256.51 L489.15,257.55 L490.24,258.59 L491.33,259.62 L492.42,260.66 L493.52,261.69 L494.61,262.72 L495.70,263.75 L496.80,264.78 L497.89,265.81 L498.99,266.84 L500.09,267.86 L501.19,268.88 L502.29,269.91 L503.40,270.93 L504.50,271.95 L505.61,272.96 L506.72,273.98 L507.82,274.99 L508.93,276.00 L510.05,277.01 L511.16,278.02 L512.27,279.03 L513.39,280.03 L514.51,281.04 L515.63,282.04 L516.75,283.04 L517.87,284.04 L519.00,285.03 L520.12,286.02 L521.25,287.02 L522.38,288.00 L523.51,288.99 L524.64,289.98 L525.78,290.96 L526.92,291.94 L528.05,292.92 L529.20,293.90 L530.34,294.87 L531.48,295.84 L532.63,296.81 L533.78,297.78 L534.93,298.74 L536.08,299.70 L537.23,300.66 L538.39,301.62 L539.55,302.58 L540.71,303.53 L541.87,304.48 L543.04,305.43 L544.20,306.37 L545.37,307.31 L546.55,308.25 L547.72,309.19 L548.90,310.12 L550.07,311.06 L551.26,311.98 L552.44,312.91 L553.62,313.83 L554.81,314.75 L556.00,315.67 L557.20,316.58 L558.39,317.50 L559.59,318.40 L560.79,319.31 L561.99,320.21 L563.20,321.11 L564.41,322.01 L565.62,322.90 L566.83,323.79 L568.05,324.68 L569.26,325.56 L570.49,326.44 L571.71,327.31 L572.94,328.18 L574.17,329.05 L575.40,329.91 L576.64,330.77 L577.88,331.62 L579.12,332.47 L580.36,333.31 L581.61,334.15 L582.86,334.98 L584.12,335.81 L585.38,336.64 L586.64,337.45 L587.90,338.27 L589.17,339.07 L590.44,339.88 L591.71,340.67 L592.99,341.46 L594.27,342.24 L595.56,343.02 L596.85,343.79 L598.14,344.56 L599.43,345.31 L600.73,346.07 L602.04,346.81 L603.34,347.55 L604.65,348.28 L605.97,349.00 L607.29,349.72 L608.61,350.43 L609.93,351.13 L611.26,351.82 L612.60,352.51 L613.93,353.18 L615.28,353.85 L616.62,354.52 L617.97,355.17 L619.32,355.82 L620.68,356.45 L622.04,357.09 L623.41,357.71 L624.78,358.32 L626.15,358.93 L627.52,359.53 L628.90,360.13 L630.28,360.71 L631.67,361.29 L633.06,361.87 L634.45,362.43 L635.84,362.99 L637.24,363.54 L638.64,364.09 L640.04,364.63 L641.45,365.16 L642.86,365.69 L644.27,366.21 L645.68,366.72 L647.10,367.23 L648.51,367.73 L649.93,368.23 L651.36,368.72 L652.78,369.21 L654.21,369.68 L655.64,370.16 L657.07,370.63 L658.50,371.09 L659.93,371.55 L661.37,372.00 L662.81,372.45 L664.24,372.89 L665.68,373.33 L667.13,373.76 L668.57,374.19 L670.01,374.61 L671.46,375.03 L672.90,375.45 L674.35,375.86 L675.80,376.26 L677.25,376.66 L678.70,377.06 L680.15,377.45 L681.60,377.84 L683.06,378.23 L684.51,378.61 L685.97,378.98 L687.43,379.35 L688.88,379.72 L690.34,380.08 L691.80,380.44 L693.26,380.79 L694.72,381.14 L696.18,381.48 L697.65,381.82 L699.11,382.16 L700.58,382.49 L702.04,382.82 L703.51,383.14 L704.98,383.46 L706.44,383.77 L707.91,384.08 L709.38,384.39 L710.85,384.69 L712.33,384.99 L713.80,385.28 L715.27,385.57 L716.75,385.85 L718.22,386.13 L719.70,386.41 L721.17,386.68 L722.65,386.94 L724.13,387.20 L725.61,387.46 L727.09,387.71 L728.57,387.96 L730.05,388.21 L731.53,388.45 L733.01,388.68 L734.50,388.92 L735.98,389.14 L737.46,389.37 L738.95,389.58 L740.44,389.80 L741.92,390.01 L743.41,390.21 L744.90,390.41 L746.39,390.61 L747.88,390.80 L749.37,390.99 L750.86,391.18 L752.35,391.36 L753.84,391.53 L755.33,391.70 L756.83,391.87 L758.32,392.03 L759.81,392.19 L761.31,392.34 L762.80,392.49 L764.30,392.64 L765.80,392.78 L767.29,392.91 L768.79,393.04 L770.29,393.17 L771.79,393.30 L773.29,393.41 L774.79,393.53 L776.29,393.64 L777.79,393.75 L779.29,393.85 L780.79,393.94 L782.29,394.04 L783.80,394.13 L785.30,394.21 L786.80,394.29" fill="none" stroke="#3DA936" stroke-width="2.5" stroke-linejoin="round" stroke-linecap="butt" />
<line x1="248.3" y1="144.6" x2="146.6" y2="368.2" stroke="#000" stroke-width="2.5" />
<line x1="248.3" y1="144.6" x2="350.2" y2="207.8" stroke="#000" stroke-width="2.5" />
<line x1="415.5" y1="147" x2="249.6" y2="398.7" stroke="#000" stroke-width="2.5" />
<line x1="415.5" y1="147" x2="415.5" y2="193.5" stroke="#000" stroke-width="2.5" />
<line x1="215.6" y1="511.2" x2="249.10000000000002" y2="511.2" stroke="#BA4A12" stroke-width="2.5" stroke-linecap="round"/>
<text x="253.65" y="516.60" font-family='"Liberation Sans", sans-serif' font-size="18.6" font-weight="normal" stroke="#000" stroke-width="0.8" stroke-linejoin="round" font-style="normal" fill="#000" textLength="9.88" lengthAdjust="spacingAndGlyphs" >1</text>
<line x1="284.2" y1="511.2" x2="317.40000000000003" y2="511.2" stroke="#1C6CC8" stroke-width="2.5" stroke-linecap="round"/>
<text x="322.93" y="516.60" font-family='"Liberation Sans", sans-serif' font-size="18.6" font-weight="normal" stroke="#000" stroke-width="0.8" stroke-linejoin="round" font-style="normal" fill="#000" textLength="9.79" lengthAdjust="spacingAndGlyphs" >2</text>
<line x1="352.9" y1="511.2" x2="386.40000000000003" y2="511.2" stroke="#FC7B2B" stroke-width="2.5" stroke-linecap="round"/>
<text x="390.28" y="516.60" font-family='"Liberation Sans", sans-serif' font-size="18.6" font-weight="normal" stroke="#000" stroke-width="0.8" stroke-linejoin="round" font-style="normal" fill="#000" textLength="83.08" lengthAdjust="spacingAndGlyphs" >1 + Fe(III)</text>
<line x1="493.5" y1="511.2" x2="526.8" y2="511.2" stroke="#3DA936" stroke-width="2.5" stroke-linecap="round"/>
<text x="531.89" y="516.60" font-family='"Liberation Sans", sans-serif' font-size="18.6" font-weight="normal" stroke="#000" stroke-width="0.8" stroke-linejoin="round" font-style="normal" fill="#000" textLength="82.46" lengthAdjust="spacingAndGlyphs" >2 + Fe(III)</text>
<rect x="612.8" y="93.6" width="61" height="142" fill="#1D70C8"/>
<rect x="730.3" y="68.1" width="61" height="167.5" fill="#1D70C8"/>
<line x1="583.6" y1="236.2" x2="818.7" y2="236.2" stroke="#000" stroke-width="2" />
<text x="623.80" y="79.60" font-family='"Liberation Sans", sans-serif' font-size="18.6" font-weight="normal" stroke="#000" stroke-width="0.8" stroke-linejoin="round" font-style="normal" fill="#000" textLength="37.53" lengthAdjust="spacingAndGlyphs" >85%</text>
<text x="736.38" y="54.70" font-family='"Liberation Sans", sans-serif' font-size="18.6" font-weight="normal" stroke="#000" stroke-width="0.8" stroke-linejoin="round" font-style="normal" fill="#000" textLength="48.29" lengthAdjust="spacingAndGlyphs" >100%</text>
<text x="601.69" y="268.90" font-family='"Liberation Sans", sans-serif' font-size="18.6" font-weight="normal" stroke="#000" stroke-width="0.8" stroke-linejoin="round" font-style="normal" fill="#000" textLength="82.26" lengthAdjust="spacingAndGlyphs" >1 + Fe(III)</text>
<text x="719.09" y="268.90" font-family='"Liberation Sans", sans-serif' font-size="18.6" font-weight="normal" stroke="#000" stroke-width="0.8" stroke-linejoin="round" font-style="normal" fill="#000" textLength="82.36" lengthAdjust="spacingAndGlyphs" >2 + Fe(III)</text>
<text transform="translate(550.00,242.19) rotate(-90)" x="0" y="0" font-family='"Liberation Sans", sans-serif' font-size="18.6" font-weight="normal" stroke="#000" stroke-width="0.8" stroke-linejoin="round" font-style="normal" fill="#000" textLength="184.63" lengthAdjust="spacingAndGlyphs">Relative Absorbance</text>
<text transform="translate(577.20,194.44) rotate(-90)" x="0" y="0" font-family='"Liberation Sans", sans-serif' font-size="18.6" font-weight="normal" stroke="#000" stroke-width="0.8" stroke-linejoin="round" font-style="normal" fill="#000" textLength="90.33" lengthAdjust="spacingAndGlyphs">at 510 nm</text>
<line x1="196.60" y1="78.90" x2="209.60" y2="80.40" stroke="#1a1a1a" stroke-width="1.3" stroke-linecap="round"/><line x1="209.60" y1="80.40" x2="214.40" y2="91.40" stroke="#1a1a1a" stroke-width="1.3" stroke-linecap="round"/><line x1="214.40" y1="91.40" x2="207.00" y2="101.40" stroke="#1a1a1a" stroke-width="1.3" stroke-linecap="round"/><line x1="207.00" y1="101.40" x2="194.20" y2="100.30" stroke="#1a1a1a" stroke-width="1.3" stroke-linecap="round"/><line x1="194.20" y1="100.30" x2="189.40" y2="89.30" stroke="#1a1a1a" stroke-width="1.3" stroke-linecap="round"/><line x1="189.40" y1="89.30" x2="196.60" y2="78.90" stroke="#1a1a1a" stroke-width="1.3" stroke-linecap="round"/><line x1="208.13" y1="84.75" x2="210.20" y2="89.50" stroke="#1a1a1a" stroke-width="1.3" stroke-linecap="round"/><line x1="203.72" y1="98.13" x2="198.19" y2="97.65" stroke="#1a1a1a" stroke-width="1.3" stroke-linecap="round"/><line x1="193.93" y1="88.08" x2="197.04" y2="83.58" stroke="#1a1a1a" stroke-width="1.3" stroke-linecap="round"/><line x1="214.40" y1="91.40" x2="226.50" y2="93.10" stroke="#1a1a1a" stroke-width="1.3" stroke-linecap="round"/><line x1="207.00" y1="101.40" x2="209.90" y2="108.40" stroke="#1a1a1a" stroke-width="1.3" stroke-linecap="round"/><text x="215.50" y="115.20" font-family='"Liberation Serif", serif' font-size="9.07" text-anchor="middle" fill="#1a1a1a" stroke="#1a1a1a" stroke-width="0.25" >OH</text><line x1="226.50" y1="93.10" x2="230.90" y2="88.00" stroke="#1a1a1a" stroke-width="1.3" stroke-linecap="round"/><line x1="229.90" y1="93.90" x2="232.80" y2="90.60" stroke="#1a1a1a" stroke-width="1.3" stroke-linecap="round"/><text x="234.90" y="87.60" font-family='"Liberation Serif", serif' font-size="8.40" text-anchor="middle" fill="#1a1a1a"  >N</text><circle cx="240.20" cy="86.20" r="0.55" fill="#1a1a1a"/><text x="247.00" y="92.60" font-family='"Liberation Serif", serif' font-size="8.40" text-anchor="middle" fill="#1a1a1a"  font-style="italic">N</text><line x1="245.80" y1="93.90" x2="244.60" y2="100.80" stroke="#1a1a1a" stroke-width="1.3" stroke-linecap="round"/><line x1="244.60" y1="100.80" x2="236.60" y2="102.60" stroke="#1a1a1a" stroke-width="1.3" stroke-linecap="round"/><line x1="241.30" y1="98.40" x2="236.20" y2="99.70" stroke="#1a1a1a" stroke-width="1.3" stroke-linecap="round"/><text x="233.00" y="106.40" font-family='"Liberation Serif", serif' font-size="8.40" text-anchor="middle" fill="#1a1a1a"  >N</text><line x1="228.90" y1="98.50" x2="226.50" y2="93.10" stroke="#1a1a1a" stroke-width="1.3" stroke-linecap="round"/><line x1="244.60" y1="100.80" x2="254.20" y2="108.80" stroke="#1a1a1a" stroke-width="1.3" stroke-linecap="round"/><line x1="250.30" y1="86.30" x2="257.10" y2="82.70" stroke="#1a1a1a" stroke-width="1.3" stroke-linecap="round"/><line x1="257.10" y1="82.70" x2="257.10" y2="70.30" stroke="#1a1a1a" stroke-width="1.3" stroke-linecap="round"/><line x1="257.10" y1="70.30" x2="267.80" y2="64.30" stroke="#1a1a1a" stroke-width="1.3" stroke-linecap="round"/><line x1="267.80" y1="64.30" x2="278.50" y2="70.30" stroke="#1a1a1a" stroke-width="1.3" stroke-linecap="round"/><line x1="278.50" y1="70.30" x2="278.50" y2="82.70" stroke="#1a1a1a" stroke-width="1.3" stroke-linecap="round"/><line x1="278.50" y1="82.70" x2="267.80" y2="88.60" stroke="#1a1a1a" stroke-width="1.3" stroke-linecap="round"/><line x1="267.80" y1="88.60" x2="257.10" y2="82.70" stroke="#1a1a1a" stroke-width="1.3" stroke-linecap="round"/><line x1="260.10" y1="79.17" x2="260.10" y2="73.82" stroke="#1a1a1a" stroke-width="1.3" stroke-linecap="round"/><line x1="269.34" y1="68.58" x2="273.96" y2="71.17" stroke="#1a1a1a" stroke-width="1.3" stroke-linecap="round"/><line x1="273.96" y1="81.81" x2="269.34" y2="84.36" stroke="#1a1a1a" stroke-width="1.3" stroke-linecap="round"/><line x1="254.20" y1="108.80" x2="264.80" y2="105.30" stroke="#1a1a1a" stroke-width="1.3" stroke-linecap="round"/><line x1="264.80" y1="105.30" x2="274.30" y2="113.60" stroke="#1a1a1a" stroke-width="1.3" stroke-linecap="round"/><line x1="274.30" y1="113.60" x2="272.00" y2="125.40" stroke="#1a1a1a" stroke-width="1.3" stroke-linecap="round"/><line x1="272.00" y1="125.40" x2="260.70" y2="129.60" stroke="#1a1a1a" stroke-width="1.3" stroke-linecap="round"/><line x1="260.70" y1="129.60" x2="251.20" y2="121.30" stroke="#1a1a1a" stroke-width="1.3" stroke-linecap="round"/><line x1="251.20" y1="121.30" x2="254.20" y2="108.80" stroke="#1a1a1a" stroke-width="1.3" stroke-linecap="round"/><line x1="265.63" y1="109.86" x2="269.73" y2="113.45" stroke="#1a1a1a" stroke-width="1.3" stroke-linecap="round"/><line x1="267.82" y1="123.75" x2="262.93" y2="125.56" stroke="#1a1a1a" stroke-width="1.3" stroke-linecap="round"/><line x1="254.90" y1="118.39" x2="256.19" y2="112.99" stroke="#1a1a1a" stroke-width="1.3" stroke-linecap="round"/><line x1="251.20" y1="121.30" x2="244.40" y2="123.60" stroke="#1a1a1a" stroke-width="1.3" stroke-linecap="round"/><text x="236.40" y="128.40" font-family='"Liberation Serif", serif' font-size="9.07" text-anchor="middle" fill="#1a1a1a" stroke="#1a1a1a" stroke-width="0.25" >HO</text><line x1="278.50" y1="70.30" x2="288.00" y2="64.90" stroke="#1a1a1a" stroke-width="1.3" stroke-linecap="round"/><line x1="287.40" y1="64.90" x2="287.40" y2="56.00" stroke="#1a1a1a" stroke-width="1.3" stroke-linecap="round"/><line x1="288.90" y1="64.90" x2="288.90" y2="56.00" stroke="#1a1a1a" stroke-width="1.3" stroke-linecap="round"/><text x="288.30" y="55.40" font-family='"Liberation Serif", serif' font-size="9.07" text-anchor="middle" fill="#1a1a1a" stroke="#1a1a1a" stroke-width="0.25" >O</text><line x1="288.00" y1="64.90" x2="295.00" y2="68.30" stroke="#1a1a1a" stroke-width="1.3" stroke-linecap="round"/><text x="303.30" y="73.90" font-family='"Liberation Serif", serif' font-size="9.07" text-anchor="middle" fill="#1a1a1a" stroke="#1a1a1a" stroke-width="0.25" >OH</text><text x="248.80" y="143.60" font-family='"Liberation Serif", serif' font-size="9.00" text-anchor="middle" fill="#1a1a1a"  textLength="71" lengthAdjust="spacing" fill-opacity="1">Deferasirox (1)</text>
<line x1="362.20" y1="78.40" x2="375.20" y2="79.90" stroke="#1a1a1a" stroke-width="1.3" stroke-linecap="round"/><line x1="375.20" y1="79.90" x2="380.00" y2="90.90" stroke="#1a1a1a" stroke-width="1.3" stroke-linecap="round"/><line x1="380.00" y1="90.90" x2="372.60" y2="100.90" stroke="#1a1a1a" stroke-width="1.3" stroke-linecap="round"/><line x1="372.60" y1="100.90" x2="359.80" y2="99.80" stroke="#1a1a1a" stroke-width="1.3" stroke-linecap="round"/><line x1="359.80" y1="99.80" x2="355.00" y2="88.80" stroke="#1a1a1a" stroke-width="1.3" stroke-linecap="round"/><line x1="355.00" y1="88.80" x2="362.20" y2="78.40" stroke="#1a1a1a" stroke-width="1.3" stroke-linecap="round"/><line x1="373.73" y1="84.25" x2="375.80" y2="89.00" stroke="#1a1a1a" stroke-width="1.3" stroke-linecap="round"/><line x1="369.32" y1="97.63" x2="363.79" y2="97.15" stroke="#1a1a1a" stroke-width="1.3" stroke-linecap="round"/><line x1="359.53" y1="87.58" x2="362.64" y2="83.08" stroke="#1a1a1a" stroke-width="1.3" stroke-linecap="round"/><line x1="380.00" y1="90.90" x2="392.10" y2="92.60" stroke="#1a1a1a" stroke-width="1.3" stroke-linecap="round"/><line x1="372.60" y1="100.90" x2="375.50" y2="107.90" stroke="#1a1a1a" stroke-width="1.3" stroke-linecap="round"/><text x="381.10" y="114.70" font-family='"Liberation Serif", serif' font-size="9.07" text-anchor="middle" fill="#1a1a1a" stroke="#1a1a1a" stroke-width="0.25" >OH</text><line x1="392.10" y1="92.60" x2="396.50" y2="87.50" stroke="#1a1a1a" stroke-width="1.3" stroke-linecap="round"/><line x1="395.50" y1="93.40" x2="398.40" y2="90.10" stroke="#1a1a1a" stroke-width="1.3" stroke-linecap="round"/><text x="400.50" y="87.10" font-family='"Liberation Serif", serif' font-size="8.40" text-anchor="middle" fill="#1a1a1a"  >N</text><circle cx="405.80" cy="85.70" r="0.55" fill="#1a1a1a"/><text x="412.60" y="92.10" font-family='"Liberation Serif", serif' font-size="8.40" text-anchor="middle" fill="#1a1a1a"  font-style="italic">N</text><line x1="411.40" y1="93.40" x2="410.20" y2="100.30" stroke="#1a1a1a" stroke-width="1.3" stroke-linecap="round"/><line x1="410.20" y1="100.30" x2="402.20" y2="102.10" stroke="#1a1a1a" stroke-width="1.3" stroke-linecap="round"/><line x1="406.90" y1="97.90" x2="401.80" y2="99.20" stroke="#1a1a1a" stroke-width="1.3" stroke-linecap="round"/><text x="398.60" y="105.90" font-family='"Liberation Serif", serif' font-size="8.40" text-anchor="middle" fill="#1a1a1a"  >N</text><line x1="394.50" y1="98.00" x2="392.10" y2="92.60" stroke="#1a1a1a" stroke-width="1.3" stroke-linecap="round"/><line x1="410.20" y1="100.30" x2="419.80" y2="108.30" stroke="#1a1a1a" stroke-width="1.3" stroke-linecap="round"/><line x1="415.90" y1="85.80" x2="422.70" y2="82.20" stroke="#1a1a1a" stroke-width="1.3" stroke-linecap="round"/><line x1="422.70" y1="82.20" x2="422.70" y2="69.80" stroke="#1a1a1a" stroke-width="1.3" stroke-linecap="round"/><line x1="422.70" y1="69.80" x2="433.40" y2="63.80" stroke="#1a1a1a" stroke-width="1.3" stroke-linecap="round"/><line x1="433.40" y1="63.80" x2="444.10" y2="69.80" stroke="#1a1a1a" stroke-width="1.3" stroke-linecap="round"/><line x1="444.10" y1="69.80" x2="444.10" y2="82.20" stroke="#1a1a1a" stroke-width="1.3" stroke-linecap="round"/><line x1="444.10" y1="82.20" x2="433.40" y2="88.10" stroke="#1a1a1a" stroke-width="1.3" stroke-linecap="round"/><line x1="433.40" y1="88.10" x2="422.70" y2="82.20" stroke="#1a1a1a" stroke-width="1.3" stroke-linecap="round"/><line x1="425.70" y1="78.67" x2="425.70" y2="73.32" stroke="#1a1a1a" stroke-width="1.3" stroke-linecap="round"/><line x1="434.94" y1="68.08" x2="439.56" y2="70.67" stroke="#1a1a1a" stroke-width="1.3" stroke-linecap="round"/><line x1="439.56" y1="81.31" x2="434.94" y2="83.86" stroke="#1a1a1a" stroke-width="1.3" stroke-linecap="round"/><line x1="419.80" y1="108.30" x2="430.40" y2="104.80" stroke="#1a1a1a" stroke-width="1.3" stroke-linecap="round"/><line x1="430.40" y1="104.80" x2="439.90" y2="113.10" stroke="#1a1a1a" stroke-width="1.3" stroke-linecap="round"/><line x1="439.90" y1="113.10" x2="437.60" y2="124.90" stroke="#1a1a1a" stroke-width="1.3" stroke-linecap="round"/><line x1="437.60" y1="124.90" x2="426.30" y2="129.10" stroke="#1a1a1a" stroke-width="1.3" stroke-linecap="round"/><line x1="426.30" y1="129.10" x2="416.80" y2="120.80" stroke="#1a1a1a" stroke-width="1.3" stroke-linecap="round"/><line x1="416.80" y1="120.80" x2="419.80" y2="108.30" stroke="#1a1a1a" stroke-width="1.3" stroke-linecap="round"/><line x1="431.23" y1="109.36" x2="435.33" y2="112.95" stroke="#1a1a1a" stroke-width="1.3" stroke-linecap="round"/><line x1="433.42" y1="123.25" x2="428.53" y2="125.06" stroke="#1a1a1a" stroke-width="1.3" stroke-linecap="round"/><line x1="420.50" y1="117.89" x2="421.79" y2="112.49" stroke="#1a1a1a" stroke-width="1.3" stroke-linecap="round"/><line x1="416.80" y1="120.80" x2="410.00" y2="123.10" stroke="#1a1a1a" stroke-width="1.3" stroke-linecap="round"/><text x="402.00" y="127.90" font-family='"Liberation Serif", serif' font-size="9.07" text-anchor="middle" fill="#1a1a1a" stroke="#1a1a1a" stroke-width="0.25" >HO</text>
<line x1="444.10" y1="69.30" x2="450.60" y2="66.10" stroke="#1a1a1a" stroke-width="1.3" stroke-linecap="round"/><text x="454.40" y="67.00" font-family='"Liberation Serif", serif' font-size="9.07" text-anchor="middle" fill="#1a1a1a" stroke="#1a1a1a" stroke-width="0.25" >S</text><line x1="449.10" y1="58.40" x2="450.60" y2="59.60" stroke="#1a1a1a" stroke-width="1.3" stroke-linecap="round"/><line x1="452.40" y1="56.60" x2="453.90" y2="57.80" stroke="#1a1a1a" stroke-width="1.3" stroke-linecap="round"/><text x="448.80" y="56.40" font-family='"Liberation Serif", serif' font-size="9.07" text-anchor="middle" fill="#1a1a1a" stroke="#1a1a1a" stroke-width="0.25" >O</text><line x1="458.30" y1="61.00" x2="461.00" y2="59.80" stroke="#1a1a1a" stroke-width="1.3" stroke-linecap="round"/><text x="469.80" y="60.70" font-family='"Liberation Serif", serif' font-size="9.07" text-anchor="middle" fill="#1a1a1a" stroke="#1a1a1a" stroke-width="0.25" >OH</text><line x1="455.30" y1="68.70" x2="456.80" y2="70.50" stroke="#1a1a1a" stroke-width="1.3" stroke-linecap="round"/><line x1="458.60" y1="67.20" x2="459.80" y2="68.70" stroke="#1a1a1a" stroke-width="1.3" stroke-linecap="round"/><text x="460.40" y="77.40" font-family='"Liberation Serif", serif' font-size="9.07" text-anchor="middle" fill="#1a1a1a" stroke="#1a1a1a" stroke-width="0.25" >O</text><text x="391.30" y="143.30" font-family='"Liberation Serif", serif' font-size="9.00" text-anchor="start" fill="#1a1a1a"  textLength="23.7" lengthAdjust="spacing" fill-opacity="1">ExSO</text><text x="417.80" y="145.60" font-family='"Liberation Serif", serif' font-size="6.80" text-anchor="start" fill="#1a1a1a"  fill-opacity="1">3</text><text x="421.80" y="143.30" font-family='"Liberation Serif", serif' font-size="9.00" text-anchor="start" fill="#1a1a1a"  fill-opacity="1">H</text><text x="435.00" y="143.30" font-family='"Liberation Serif", serif' font-size="9.00" text-anchor="start" fill="#1a1a1a"  textLength="10.8" lengthAdjust="spacing" fill-opacity="1">(2)</text>
<rect x="849.5" y="29" width="290.5" height="208" fill="url(#gapt)"/><rect x="849.5" y="29" width="290.5" height="21" fill="url(#topband)"/><path d="M850.5,49 L939.8,49 L939.8,222.5 Q939.8,228.5 933.8,228.5 L856.5,228.5 Q850.5,228.5 850.5,222.5 Z" fill="url(#v1t)"/><rect x="850.5" y="49" width="89.3" height="13" fill="#d3d5d2"/><rect x="850.5" y="50" width="8" height="11" fill="#a9bca9" opacity="0.8"/><rect x="931" y="50" width="8.8" height="11" fill="#a9bca9" opacity="0.8"/><path d="M853,56 Q895,62 937,55" fill="none" stroke="#f4f6f4" stroke-width="1.6"/><path d="M853,60 Q895,65 937,60" fill="none" stroke="#9fa8a0" stroke-width="0.6" opacity="0.7"/><path d="M860,51 q-2,5 0,10" fill="none" stroke="#8e9c90" stroke-width="0.6" opacity="0.8"/><path d="M864,51 q-2,5 0,10" fill="none" stroke="#8e9c90" stroke-width="0.6" opacity="0.8"/><path d="M868,51 q-2,5 0,10" fill="none" stroke="#8e9c90" stroke-width="0.6" opacity="0.8"/><path d="M922,51 q-2,5 0,10" fill="none" stroke="#8e9c90" stroke-width="0.6" opacity="0.8"/><path d="M926,51 q-2,5 0,10" fill="none" stroke="#8e9c90" stroke-width="0.6" opacity="0.8"/><path d="M930,51 q-2,5 0,10" fill="none" stroke="#8e9c90" stroke-width="0.6" opacity="0.8"/><path d="M950.4,42 L1037,42 L1037,222.5 Q1037,228.5 1031,228.5 L956.4,228.5 Q950.4,228.5 950.4,222.5 Z" fill="url(#v2t)"/><rect x="950.4" y="42" width="86.6" height="31" fill="#ddd0d5"/><circle cx="1022.0" cy="65.1" r="1.5" fill="none" stroke="#f6eef0" stroke-width="0.9" opacity="0.8"/><path d="M1020.9,66.2 A1.5,1.5 0 0 0 1023.0,66.2" fill="none" stroke="#9c8a92" stroke-width="0.7" opacity="0.64"/><circle cx="993.1" cy="56.7" r="1.9" fill="none" stroke="#f6eef0" stroke-width="0.9" opacity="0.8"/><path d="M991.8,58.0 A1.9,1.9 0 0 0 994.4,58.0" fill="none" stroke="#9c8a92" stroke-width="0.7" opacity="0.64"/><circle cx="1016.4" cy="48.2" r="2.9" fill="none" stroke="#f6eef0" stroke-width="0.9" opacity="0.8"/><path d="M1014.3,50.2 A2.9,2.9 0 0 0 1018.4,50.2" fill="none" stroke="#9c8a92" stroke-width="0.7" opacity="0.64"/><circle cx="1021.2" cy="56.2" r="1.3" fill="none" stroke="#f6eef0" stroke-width="0.9" opacity="0.8"/><path d="M1020.3,57.0 A1.3,1.3 0 0 0 1022.1,57.0" fill="none" stroke="#9c8a92" stroke-width="0.7" opacity="0.64"/><circle cx="954.3" cy="56.7" r="3.2" fill="none" stroke="#f6eef0" stroke-width="0.9" opacity="0.8"/><path d="M952.1,58.9 A3.2,3.2 0 0 0 956.6,58.9" fill="none" stroke="#9c8a92" stroke-width="0.7" opacity="0.64"/><circle cx="972.1" cy="68.6" r="3.1" fill="none" stroke="#f6eef0" stroke-width="0.9" opacity="0.8"/><path d="M970.0,70.8 A3.1,3.1 0 0 0 974.3,70.8" fill="none" stroke="#9c8a92" stroke-width="0.7" opacity="0.64"/><circle cx="956.9" cy="47.1" r="3.5" fill="none" stroke="#f6eef0" stroke-width="0.9" opacity="0.8"/><path d="M954.4,49.6 A3.5,3.5 0 0 0 959.4,49.6" fill="none" stroke="#9c8a92" stroke-width="0.7" opacity="0.64"/><circle cx="1028.5" cy="55.1" r="2.6" fill="none" stroke="#f6eef0" stroke-width="0.9" opacity="0.8"/><path d="M1026.7,56.9 A2.6,2.6 0 0 0 1030.4,56.9" fill="none" stroke="#9c8a92" stroke-width="0.7" opacity="0.64"/><circle cx="987.2" cy="45.5" r="1.8" fill="none" stroke="#f6eef0" stroke-width="0.9" opacity="0.8"/><path d="M985.9,46.8 A1.8,1.8 0 0 0 988.4,46.8" fill="none" stroke="#9c8a92" stroke-width="0.7" opacity="0.64"/><circle cx="988.4" cy="57.9" r="1.8" fill="none" stroke="#f6eef0" stroke-width="0.9" opacity="0.8"/><path d="M987.2,59.1 A1.8,1.8 0 0 0 989.7,59.1" fill="none" stroke="#9c8a92" stroke-width="0.7" opacity="0.64"/><circle cx="971.6" cy="50.6" r="1.8" fill="none" stroke="#f6eef0" stroke-width="0.9" opacity="0.8"/><path d="M970.3,51.8 A1.8,1.8 0 0 0 972.9,51.8" fill="none" stroke="#9c8a92" stroke-width="0.7" opacity="0.64"/><circle cx="976.6" cy="45.9" r="2.4" fill="none" stroke="#f6eef0" stroke-width="0.9" opacity="0.8"/><path d="M975.0,47.6 A2.4,2.4 0 0 0 978.3,47.6" fill="none" stroke="#9c8a92" stroke-width="0.7" opacity="0.64"/><circle cx="997.9" cy="61.3" r="3.4" fill="none" stroke="#f6eef0" stroke-width="0.9" opacity="0.8"/><path d="M995.6,63.7 A3.4,3.4 0 0 0 1000.3,63.7" fill="none" stroke="#9c8a92" stroke-width="0.7" opacity="0.64"/><circle cx="1033.7" cy="67.6" r="1.7" fill="none" stroke="#f6eef0" stroke-width="0.9" opacity="0.8"/><path d="M1032.5,68.8 A1.7,1.7 0 0 0 1034.9,68.8" fill="none" stroke="#9c8a92" stroke-width="0.7" opacity="0.64"/><circle cx="979.8" cy="64.0" r="1.5" fill="none" stroke="#f6eef0" stroke-width="0.9" opacity="0.8"/><path d="M978.7,65.0 A1.5,1.5 0 0 0 980.8,65.0" fill="none" stroke="#9c8a92" stroke-width="0.7" opacity="0.64"/><circle cx="1027.9" cy="56.1" r="3.0" fill="none" stroke="#f6eef0" stroke-width="0.9" opacity="0.8"/><path d="M1025.8,58.3 A3.0,3.0 0 0 0 1030.1,58.3" fill="none" stroke="#9c8a92" stroke-width="0.7" opacity="0.64"/><circle cx="1006.8" cy="53.4" r="3.4" fill="none" stroke="#f6eef0" stroke-width="0.9" opacity="0.8"/><path d="M1004.5,55.8 A3.4,3.4 0 0 0 1009.2,55.8" fill="none" stroke="#9c8a92" stroke-width="0.7" opacity="0.64"/><circle cx="1023.9" cy="66.5" r="2.7" fill="none" stroke="#f6eef0" stroke-width="0.9" opacity="0.8"/><path d="M1022.0,68.4 A2.7,2.7 0 0 0 1025.8,68.4" fill="none" stroke="#9c8a92" stroke-width="0.7" opacity="0.64"/><circle cx="1000.6" cy="46.4" r="2.5" fill="none" stroke="#f6eef0" stroke-width="0.9" opacity="0.8"/><path d="M998.9,48.1 A2.5,2.5 0 0 0 1002.4,48.1" fill="none" stroke="#9c8a92" stroke-width="0.7" opacity="0.64"/><circle cx="1017.7" cy="55.7" r="1.8" fill="none" stroke="#f6eef0" stroke-width="0.9" opacity="0.8"/><path d="M1016.4,57.0 A1.8,1.8 0 0 0 1019.0,57.0" fill="none" stroke="#9c8a92" stroke-width="0.7" opacity="0.64"/><circle cx="997.5" cy="63.4" r="1.6" fill="none" stroke="#f6eef0" stroke-width="0.9" opacity="0.8"/><path d="M996.3,64.6 A1.6,1.6 0 0 0 998.6,64.6" fill="none" stroke="#9c8a92" stroke-width="0.7" opacity="0.64"/><circle cx="983.6" cy="56.5" r="3.0" fill="none" stroke="#f6eef0" stroke-width="0.9" opacity="0.8"/><path d="M981.5,58.6 A3.0,3.0 0 0 0 985.7,58.6" fill="none" stroke="#9c8a92" stroke-width="0.7" opacity="0.64"/><circle cx="1015.8" cy="58.5" r="2.5" fill="none" stroke="#f6eef0" stroke-width="0.9" opacity="0.8"/><path d="M1014.0,60.3 A2.5,2.5 0 0 0 1017.5,60.3" fill="none" stroke="#9c8a92" stroke-width="0.7" opacity="0.64"/><circle cx="992.7" cy="46.0" r="2.2" fill="none" stroke="#f6eef0" stroke-width="0.9" opacity="0.8"/><path d="M991.1,47.5 A2.2,2.2 0 0 0 994.2,47.5" fill="none" stroke="#9c8a92" stroke-width="0.7" opacity="0.64"/><circle cx="1010.3" cy="71.2" r="1.3" fill="none" stroke="#f6eef0" stroke-width="0.9" opacity="0.8"/><path d="M1009.3,72.1 A1.3,1.3 0 0 0 1011.2,72.1" fill="none" stroke="#9c8a92" stroke-width="0.7" opacity="0.64"/><circle cx="985.0" cy="49.9" r="2.7" fill="none" stroke="#f6eef0" stroke-width="0.9" opacity="0.8"/><path d="M983.1,51.8 A2.7,2.7 0 0 0 987.0,51.8" fill="none" stroke="#9c8a92" stroke-width="0.7" opacity="0.64"/><circle cx="1032.1" cy="64.8" r="2.5" fill="none" stroke="#f6eef0" stroke-width="0.9" opacity="0.8"/><path d="M1030.3,66.5 A2.5,2.5 0 0 0 1033.8,66.5" fill="none" stroke="#9c8a92" stroke-width="0.7" opacity="0.64"/><circle cx="1022.2" cy="51.4" r="2.6" fill="none" stroke="#f6eef0" stroke-width="0.9" opacity="0.8"/><path d="M1020.4,53.2 A2.6,2.6 0 0 0 1024.1,53.2" fill="none" stroke="#9c8a92" stroke-width="0.7" opacity="0.64"/><circle cx="1029.7" cy="59.9" r="2.5" fill="none" stroke="#f6eef0" stroke-width="0.9" opacity="0.8"/><path d="M1027.9,61.7 A2.5,2.5 0 0 0 1031.4,61.7" fill="none" stroke="#9c8a92" stroke-width="0.7" opacity="0.64"/><circle cx="975.0" cy="59.2" r="2.4" fill="none" stroke="#f6eef0" stroke-width="0.9" opacity="0.8"/><path d="M973.3,60.9 A2.4,2.4 0 0 0 976.7,60.9" fill="none" stroke="#9c8a92" stroke-width="0.7" opacity="0.64"/><circle cx="955.1" cy="64.4" r="3.7" fill="none" stroke="#f6eef0" stroke-width="0.9" opacity="0.8"/><path d="M952.5,67.0 A3.7,3.7 0 0 0 957.7,67.0" fill="none" stroke="#9c8a92" stroke-width="0.7" opacity="0.64"/><circle cx="1023.8" cy="63.6" r="3.3" fill="none" stroke="#f6eef0" stroke-width="0.9" opacity="0.8"/><path d="M1021.4,65.9 A3.3,3.3 0 0 0 1026.1,65.9" fill="none" stroke="#9c8a92" stroke-width="0.7" opacity="0.64"/><circle cx="995.0" cy="59.4" r="3.3" fill="none" stroke="#f6eef0" stroke-width="0.9" opacity="0.8"/><path d="M992.7,61.7 A3.3,3.3 0 0 0 997.3,61.7" fill="none" stroke="#9c8a92" stroke-width="0.7" opacity="0.64"/><circle cx="957.8" cy="67.4" r="2.3" fill="none" stroke="#f6eef0" stroke-width="0.9" opacity="0.8"/><path d="M956.2,69.0 A2.3,2.3 0 0 0 959.4,69.0" fill="none" stroke="#9c8a92" stroke-width="0.7" opacity="0.64"/><circle cx="969.6" cy="58.1" r="2.7" fill="none" stroke="#f6eef0" stroke-width="0.9" opacity="0.8"/><path d="M967.7,60.0 A2.7,2.7 0 0 0 971.5,60.0" fill="none" stroke="#9c8a92" stroke-width="0.7" opacity="0.64"/><circle cx="982.0" cy="54.1" r="2.5" fill="none" stroke="#f6eef0" stroke-width="0.9" opacity="0.8"/><path d="M980.3,55.9 A2.5,2.5 0 0 0 983.8,55.9" fill="none" stroke="#9c8a92" stroke-width="0.7" opacity="0.64"/><circle cx="1003.4" cy="60.8" r="2.6" fill="none" stroke="#f6eef0" stroke-width="0.9" opacity="0.8"/><path d="M1001.5,62.6 A2.6,2.6 0 0 0 1005.2,62.6" fill="none" stroke="#9c8a92" stroke-width="0.7" opacity="0.64"/><circle cx="955.6" cy="51.2" r="2.4" fill="none" stroke="#f6eef0" stroke-width="0.9" opacity="0.8"/><path d="M954.0,52.9 A2.4,2.4 0 0 0 957.3,52.9" fill="none" stroke="#9c8a92" stroke-width="0.7" opacity="0.64"/><circle cx="1000.4" cy="67.6" r="1.7" fill="none" stroke="#f6eef0" stroke-width="0.9" opacity="0.8"/><path d="M999.2,68.8 A1.7,1.7 0 0 0 1001.6,68.8" fill="none" stroke="#9c8a92" stroke-width="0.7" opacity="0.64"/><circle cx="1016.8" cy="65.4" r="3.3" fill="none" stroke="#f6eef0" stroke-width="0.9" opacity="0.8"/><path d="M1014.5,67.7 A3.3,3.3 0 0 0 1019.1,67.7" fill="none" stroke="#9c8a92" stroke-width="0.7" opacity="0.64"/><circle cx="1021.3" cy="62.5" r="1.9" fill="none" stroke="#f6eef0" stroke-width="0.9" opacity="0.8"/><path d="M1020.0,63.9 A1.9,1.9 0 0 0 1022.6,63.9" fill="none" stroke="#9c8a92" stroke-width="0.7" opacity="0.64"/><circle cx="953.8" cy="44.8" r="1.4" fill="none" stroke="#f6eef0" stroke-width="0.9" opacity="0.8"/><path d="M952.8,45.8 A1.4,1.4 0 0 0 954.8,45.8" fill="none" stroke="#9c8a92" stroke-width="0.7" opacity="0.64"/><circle cx="973.8" cy="48.8" r="3.2" fill="none" stroke="#f6eef0" stroke-width="0.9" opacity="0.8"/><path d="M971.6,51.0 A3.2,3.2 0 0 0 976.0,51.0" fill="none" stroke="#9c8a92" stroke-width="0.7" opacity="0.64"/><circle cx="981.2" cy="47.5" r="2.8" fill="none" stroke="#f6eef0" stroke-width="0.9" opacity="0.8"/><path d="M979.2,49.5 A2.8,2.8 0 0 0 983.1,49.5" fill="none" stroke="#9c8a92" stroke-width="0.7" opacity="0.64"/><circle cx="995.7" cy="49.1" r="1.6" fill="none" stroke="#f6eef0" stroke-width="0.9" opacity="0.8"/><path d="M994.6,50.2 A1.6,1.6 0 0 0 996.9,50.2" fill="none" stroke="#9c8a92" stroke-width="0.7" opacity="0.64"/><circle cx="1010.7" cy="56.8" r="1.9" fill="none" stroke="#f6eef0" stroke-width="0.9" opacity="0.8"/><path d="M1009.3,58.2 A1.9,1.9 0 0 0 1012.0,58.2" fill="none" stroke="#9c8a92" stroke-width="0.7" opacity="0.64"/><circle cx="991.4" cy="45.6" r="2.0" fill="none" stroke="#f6eef0" stroke-width="0.9" opacity="0.8"/><path d="M990.0,47.1 A2.0,2.0 0 0 0 992.8,47.1" fill="none" stroke="#9c8a92" stroke-width="0.7" opacity="0.64"/><circle cx="987.1" cy="50.0" r="2.2" fill="none" stroke="#f6eef0" stroke-width="0.9" opacity="0.8"/><path d="M985.6,51.6 A2.2,2.2 0 0 0 988.7,51.6" fill="none" stroke="#9c8a92" stroke-width="0.7" opacity="0.64"/><circle cx="1026.3" cy="58.3" r="1.5" fill="none" stroke="#f6eef0" stroke-width="0.9" opacity="0.8"/><path d="M1025.3,59.3 A1.5,1.5 0 0 0 1027.3,59.3" fill="none" stroke="#9c8a92" stroke-width="0.7" opacity="0.64"/><circle cx="1002.1" cy="66.4" r="1.7" fill="none" stroke="#f6eef0" stroke-width="0.9" opacity="0.8"/><path d="M1000.9,67.6 A1.7,1.7 0 0 0 1003.3,67.6" fill="none" stroke="#9c8a92" stroke-width="0.7" opacity="0.64"/><circle cx="953.7" cy="48.3" r="1.3" fill="none" stroke="#f6eef0" stroke-width="0.9" opacity="0.8"/><path d="M952.8,49.2 A1.3,1.3 0 0 0 954.6,49.2" fill="none" stroke="#9c8a92" stroke-width="0.7" opacity="0.64"/><circle cx="966.7" cy="62.9" r="3.1" fill="none" stroke="#f6eef0" stroke-width="0.9" opacity="0.8"/><path d="M964.6,65.0 A3.1,3.1 0 0 0 968.9,65.0" fill="none" stroke="#9c8a92" stroke-width="0.7" opacity="0.64"/><circle cx="997.0" cy="51.3" r="3.0" fill="none" stroke="#f6eef0" stroke-width="0.9" opacity="0.8"/><path d="M995.0,53.3 A3.0,3.0 0 0 0 999.1,53.3" fill="none" stroke="#9c8a92" stroke-width="0.7" opacity="0.64"/><circle cx="1016.6" cy="58.4" r="3.7" fill="none" stroke="#f6eef0" stroke-width="0.9" opacity="0.8"/><path d="M1014.0,61.0 A3.7,3.7 0 0 0 1019.2,61.0" fill="none" stroke="#9c8a92" stroke-width="0.7" opacity="0.64"/><circle cx="1005.6" cy="55.2" r="1.8" fill="none" stroke="#f6eef0" stroke-width="0.9" opacity="0.8"/><path d="M1004.3,56.5 A1.8,1.8 0 0 0 1006.8,56.5" fill="none" stroke="#9c8a92" stroke-width="0.7" opacity="0.64"/><circle cx="979.3" cy="61.2" r="2.7" fill="none" stroke="#f6eef0" stroke-width="0.9" opacity="0.8"/><path d="M977.4,63.1 A2.7,2.7 0 0 0 981.2,63.1" fill="none" stroke="#9c8a92" stroke-width="0.7" opacity="0.64"/><circle cx="976.9" cy="70.8" r="1.4" fill="none" stroke="#f6eef0" stroke-width="0.9" opacity="0.8"/><path d="M976.0,71.7 A1.4,1.4 0 0 0 977.9,71.7" fill="none" stroke="#9c8a92" stroke-width="0.7" opacity="0.64"/><circle cx="978.4" cy="66.3" r="3.5" fill="none" stroke="#f6eef0" stroke-width="0.9" opacity="0.8"/><path d="M976.0,68.7 A3.5,3.5 0 0 0 980.8,68.7" fill="none" stroke="#9c8a92" stroke-width="0.7" opacity="0.64"/><circle cx="1029.1" cy="64.3" r="2.0" fill="none" stroke="#f6eef0" stroke-width="0.9" opacity="0.8"/><path d="M1027.7,65.7 A2.0,2.0 0 0 0 1030.5,65.7" fill="none" stroke="#9c8a92" stroke-width="0.7" opacity="0.64"/><circle cx="973.6" cy="45.5" r="2.3" fill="none" stroke="#f6eef0" stroke-width="0.9" opacity="0.8"/><path d="M972.0,47.1 A2.3,2.3 0 0 0 975.2,47.1" fill="none" stroke="#9c8a92" stroke-width="0.7" opacity="0.64"/><circle cx="957.4" cy="65.4" r="3.5" fill="none" stroke="#f6eef0" stroke-width="0.9" opacity="0.8"/><path d="M955.0,67.8 A3.5,3.5 0 0 0 959.9,67.8" fill="none" stroke="#9c8a92" stroke-width="0.7" opacity="0.64"/><circle cx="999.0" cy="50.6" r="3.7" fill="none" stroke="#f6eef0" stroke-width="0.9" opacity="0.8"/><path d="M996.4,53.2 A3.7,3.7 0 0 0 1001.5,53.2" fill="none" stroke="#9c8a92" stroke-width="0.7" opacity="0.64"/><circle cx="1030.5" cy="62.7" r="3.5" fill="none" stroke="#f6eef0" stroke-width="0.9" opacity="0.8"/><path d="M1028.1,65.1 A3.5,3.5 0 0 0 1032.9,65.1" fill="none" stroke="#9c8a92" stroke-width="0.7" opacity="0.64"/><circle cx="983.7" cy="54.2" r="2.5" fill="none" stroke="#f6eef0" stroke-width="0.9" opacity="0.8"/><path d="M982.0,55.9 A2.5,2.5 0 0 0 985.5,55.9" fill="none" stroke="#9c8a92" stroke-width="0.7" opacity="0.64"/><circle cx="1007.7" cy="56.2" r="1.7" fill="none" stroke="#f6eef0" stroke-width="0.9" opacity="0.8"/><path d="M1006.5,57.4 A1.7,1.7 0 0 0 1008.9,57.4" fill="none" stroke="#9c8a92" stroke-width="0.7" opacity="0.64"/><circle cx="961.2" cy="62.4" r="1.7" fill="none" stroke="#f6eef0" stroke-width="0.9" opacity="0.8"/><path d="M960.0,63.6 A1.7,1.7 0 0 0 962.4,63.6" fill="none" stroke="#9c8a92" stroke-width="0.7" opacity="0.64"/><circle cx="993.5" cy="53.4" r="2.0" fill="none" stroke="#f6eef0" stroke-width="0.9" opacity="0.8"/><path d="M992.1,54.8 A2.0,2.0 0 0 0 994.9,54.8" fill="none" stroke="#9c8a92" stroke-width="0.7" opacity="0.64"/><circle cx="1024.7" cy="46.9" r="3.5" fill="none" stroke="#f6eef0" stroke-width="0.9" opacity="0.8"/><path d="M1022.3,49.3 A3.5,3.5 0 0 0 1027.1,49.3" fill="none" stroke="#9c8a92" stroke-width="0.7" opacity="0.64"/><circle cx="979.5" cy="70.9" r="1.7" fill="none" stroke="#f6eef0" stroke-width="0.9" opacity="0.8"/><path d="M978.2,72.1 A1.7,1.7 0 0 0 980.7,72.1" fill="none" stroke="#9c8a92" stroke-width="0.7" opacity="0.64"/><circle cx="980.9" cy="51.2" r="3.2" fill="none" stroke="#f6eef0" stroke-width="0.9" opacity="0.8"/><path d="M978.6,53.5 A3.2,3.2 0 0 0 983.1,53.5" fill="none" stroke="#9c8a92" stroke-width="0.7" opacity="0.64"/><path d="M1046.3,46 L1133.7,46 L1133.7,222.5 Q1133.7,228.5 1127.7,228.5 L1052.3,228.5 Q1046.3,228.5 1046.3,222.5 Z" fill="url(#v3t)"/><rect x="1046.3" y="47" width="87.4" height="15" fill="#dacbd2"/><circle cx="1125.2" cy="52.1" r="3.7" fill="none" stroke="#f6eef0" stroke-width="0.9" opacity="0.8"/><path d="M1122.6,54.6 A3.7,3.7 0 0 0 1127.8,54.6" fill="none" stroke="#9a8590" stroke-width="0.7" opacity="0.64"/><circle cx="1117.9" cy="57.6" r="1.4" fill="none" stroke="#f6eef0" stroke-width="0.9" opacity="0.8"/><path d="M1116.9,58.6 A1.4,1.4 0 0 0 1118.9,58.6" fill="none" stroke="#9a8590" stroke-width="0.7" opacity="0.64"/><circle cx="1074.6" cy="55.9" r="2.9" fill="none" stroke="#f6eef0" stroke-width="0.9" opacity="0.8"/><path d="M1072.6,57.9 A2.9,2.9 0 0 0 1076.7,57.9" fill="none" stroke="#9a8590" stroke-width="0.7" opacity="0.64"/><circle cx="1096.5" cy="52.1" r="2.8" fill="none" stroke="#f6eef0" stroke-width="0.9" opacity="0.8"/><path d="M1094.6,54.1 A2.8,2.8 0 0 0 1098.5,54.1" fill="none" stroke="#9a8590" stroke-width="0.7" opacity="0.64"/><circle cx="1081.3" cy="57.1" r="2.3" fill="none" stroke="#f6eef0" stroke-width="0.9" opacity="0.8"/><path d="M1079.7,58.7 A2.3,2.3 0 0 0 1083.0,58.7" fill="none" stroke="#9a8590" stroke-width="0.7" opacity="0.64"/><circle cx="1125.2" cy="55.3" r="3.8" fill="none" stroke="#f6eef0" stroke-width="0.9" opacity="0.8"/><path d="M1122.6,57.9 A3.8,3.8 0 0 0 1127.9,57.9" fill="none" stroke="#9a8590" stroke-width="0.7" opacity="0.64"/><circle cx="1071.2" cy="50.7" r="2.4" fill="none" stroke="#f6eef0" stroke-width="0.9" opacity="0.8"/><path d="M1069.5,52.3 A2.4,2.4 0 0 0 1072.8,52.3" fill="none" stroke="#9a8590" stroke-width="0.7" opacity="0.64"/><circle cx="1087.1" cy="52.9" r="1.3" fill="none" stroke="#f6eef0" stroke-width="0.9" opacity="0.8"/><path d="M1086.2,53.8 A1.3,1.3 0 0 0 1088.0,53.8" fill="none" stroke="#9a8590" stroke-width="0.7" opacity="0.64"/><circle cx="1122.0" cy="55.2" r="2.2" fill="none" stroke="#f6eef0" stroke-width="0.9" opacity="0.8"/><path d="M1120.4,56.8 A2.2,2.2 0 0 0 1123.5,56.8" fill="none" stroke="#9a8590" stroke-width="0.7" opacity="0.64"/><circle cx="1068.7" cy="50.9" r="2.7" fill="none" stroke="#f6eef0" stroke-width="0.9" opacity="0.8"/><path d="M1066.8,52.7 A2.7,2.7 0 0 0 1070.6,52.7" fill="none" stroke="#9a8590" stroke-width="0.7" opacity="0.64"/><circle cx="1060.2" cy="55.1" r="2.0" fill="none" stroke="#f6eef0" stroke-width="0.9" opacity="0.8"/><path d="M1058.8,56.5 A2.0,2.0 0 0 0 1061.7,56.5" fill="none" stroke="#9a8590" stroke-width="0.7" opacity="0.64"/><circle cx="1103.7" cy="53.0" r="3.8" fill="none" stroke="#f6eef0" stroke-width="0.9" opacity="0.8"/><path d="M1101.0,55.6 A3.8,3.8 0 0 0 1106.3,55.6" fill="none" stroke="#9a8590" stroke-width="0.7" opacity="0.64"/><circle cx="1113.4" cy="56.6" r="3.5" fill="none" stroke="#f6eef0" stroke-width="0.9" opacity="0.8"/><path d="M1111.0,59.1 A3.5,3.5 0 0 0 1115.9,59.1" fill="none" stroke="#9a8590" stroke-width="0.7" opacity="0.64"/><circle cx="1110.7" cy="57.0" r="3.6" fill="none" stroke="#f6eef0" stroke-width="0.9" opacity="0.8"/><path d="M1108.2,59.5 A3.6,3.6 0 0 0 1113.2,59.5" fill="none" stroke="#9a8590" stroke-width="0.7" opacity="0.64"/><circle cx="1129.3" cy="59.5" r="2.1" fill="none" stroke="#f6eef0" stroke-width="0.9" opacity="0.8"/><path d="M1127.8,61.0 A2.1,2.1 0 0 0 1130.8,61.0" fill="none" stroke="#9a8590" stroke-width="0.7" opacity="0.64"/><circle cx="1111.0" cy="57.3" r="1.6" fill="none" stroke="#f6eef0" stroke-width="0.9" opacity="0.8"/><path d="M1109.9,58.4 A1.6,1.6 0 0 0 1112.2,58.4" fill="none" stroke="#9a8590" stroke-width="0.7" opacity="0.64"/><circle cx="1092.5" cy="54.9" r="2.4" fill="none" stroke="#f6eef0" stroke-width="0.9" opacity="0.8"/><path d="M1090.8,56.6 A2.4,2.4 0 0 0 1094.1,56.6" fill="none" stroke="#9a8590" stroke-width="0.7" opacity="0.64"/><circle cx="1090.1" cy="57.3" r="3.6" fill="none" stroke="#f6eef0" stroke-width="0.9" opacity="0.8"/><path d="M1087.5,59.8 A3.6,3.6 0 0 0 1092.6,59.8" fill="none" stroke="#9a8590" stroke-width="0.7" opacity="0.64"/><circle cx="1121.3" cy="58.9" r="2.1" fill="none" stroke="#f6eef0" stroke-width="0.9" opacity="0.8"/><path d="M1119.8,60.4 A2.1,2.1 0 0 0 1122.8,60.4" fill="none" stroke="#9a8590" stroke-width="0.7" opacity="0.64"/><circle cx="1095.5" cy="58.9" r="2.4" fill="none" stroke="#f6eef0" stroke-width="0.9" opacity="0.8"/><path d="M1093.8,60.5 A2.4,2.4 0 0 0 1097.2,60.5" fill="none" stroke="#9a8590" stroke-width="0.7" opacity="0.64"/><circle cx="1088.9" cy="52.8" r="3.1" fill="none" stroke="#f6eef0" stroke-width="0.9" opacity="0.8"/><path d="M1086.8,55.0 A3.1,3.1 0 0 0 1091.1,55.0" fill="none" stroke="#9a8590" stroke-width="0.7" opacity="0.64"/><circle cx="1106.3" cy="51.7" r="2.0" fill="none" stroke="#f6eef0" stroke-width="0.9" opacity="0.8"/><path d="M1104.9,53.1 A2.0,2.0 0 0 0 1107.8,53.1" fill="none" stroke="#9a8590" stroke-width="0.7" opacity="0.64"/><circle cx="1071.7" cy="57.8" r="3.6" fill="none" stroke="#f6eef0" stroke-width="0.9" opacity="0.8"/><path d="M1069.2,60.3 A3.6,3.6 0 0 0 1074.2,60.3" fill="none" stroke="#9a8590" stroke-width="0.7" opacity="0.64"/><circle cx="1127.5" cy="57.1" r="2.0" fill="none" stroke="#f6eef0" stroke-width="0.9" opacity="0.8"/><path d="M1126.1,58.5 A2.0,2.0 0 0 0 1128.9,58.5" fill="none" stroke="#9a8590" stroke-width="0.7" opacity="0.64"/><circle cx="1091.4" cy="56.4" r="2.5" fill="none" stroke="#f6eef0" stroke-width="0.9" opacity="0.8"/><path d="M1089.7,58.1 A2.5,2.5 0 0 0 1093.2,58.1" fill="none" stroke="#9a8590" stroke-width="0.7" opacity="0.64"/><circle cx="1074.8" cy="52.5" r="2.7" fill="none" stroke="#f6eef0" stroke-width="0.9" opacity="0.8"/><path d="M1072.9,54.4 A2.7,2.7 0 0 0 1076.8,54.4" fill="none" stroke="#9a8590" stroke-width="0.7" opacity="0.64"/><circle cx="1125.1" cy="56.1" r="2.5" fill="none" stroke="#f6eef0" stroke-width="0.9" opacity="0.8"/><path d="M1123.4,57.9 A2.5,2.5 0 0 0 1126.9,57.9" fill="none" stroke="#9a8590" stroke-width="0.7" opacity="0.64"/><circle cx="1116.7" cy="57.5" r="1.4" fill="none" stroke="#f6eef0" stroke-width="0.9" opacity="0.8"/><path d="M1115.7,58.5 A1.4,1.4 0 0 0 1117.6,58.5" fill="none" stroke="#9a8590" stroke-width="0.7" opacity="0.64"/><circle cx="1065.7" cy="56.7" r="3.6" fill="none" stroke="#f6eef0" stroke-width="0.9" opacity="0.8"/><path d="M1063.2,59.2 A3.6,3.6 0 0 0 1068.1,59.2" fill="none" stroke="#9a8590" stroke-width="0.7" opacity="0.64"/><circle cx="1102.7" cy="52.4" r="1.4" fill="none" stroke="#f6eef0" stroke-width="0.9" opacity="0.8"/><path d="M1101.8,53.4 A1.4,1.4 0 0 0 1103.7,53.4" fill="none" stroke="#9a8590" stroke-width="0.7" opacity="0.64"/><circle cx="1120.9" cy="50.9" r="1.8" fill="none" stroke="#f6eef0" stroke-width="0.9" opacity="0.8"/><path d="M1119.7,52.1 A1.8,1.8 0 0 0 1122.2,52.1" fill="none" stroke="#9a8590" stroke-width="0.7" opacity="0.64"/><circle cx="1118.6" cy="52.7" r="2.6" fill="none" stroke="#f6eef0" stroke-width="0.9" opacity="0.8"/><path d="M1116.8,54.5 A2.6,2.6 0 0 0 1120.4,54.5" fill="none" stroke="#9a8590" stroke-width="0.7" opacity="0.64"/><circle cx="1121.4" cy="54.2" r="1.7" fill="none" stroke="#f6eef0" stroke-width="0.9" opacity="0.8"/><path d="M1120.2,55.4 A1.7,1.7 0 0 0 1122.6,55.4" fill="none" stroke="#9a8590" stroke-width="0.7" opacity="0.64"/><circle cx="1052.6" cy="53.9" r="3.1" fill="none" stroke="#f6eef0" stroke-width="0.9" opacity="0.8"/><path d="M1050.5,56.1 A3.1,3.1 0 0 0 1054.8,56.1" fill="none" stroke="#9a8590" stroke-width="0.7" opacity="0.64"/><circle cx="1104.3" cy="50.5" r="1.6" fill="none" stroke="#f6eef0" stroke-width="0.9" opacity="0.8"/><path d="M1103.1,51.7 A1.6,1.6 0 0 0 1105.4,51.7" fill="none" stroke="#9a8590" stroke-width="0.7" opacity="0.64"/><circle cx="1052.7" cy="56.5" r="3.7" fill="none" stroke="#f6eef0" stroke-width="0.9" opacity="0.8"/><path d="M1050.1,59.1 A3.7,3.7 0 0 0 1055.3,59.1" fill="none" stroke="#9a8590" stroke-width="0.7" opacity="0.64"/><circle cx="1069.6" cy="58.6" r="1.3" fill="none" stroke="#f6eef0" stroke-width="0.9" opacity="0.8"/><path d="M1068.7,59.5 A1.3,1.3 0 0 0 1070.5,59.5" fill="none" stroke="#9a8590" stroke-width="0.7" opacity="0.64"/><circle cx="1063.8" cy="57.1" r="1.6" fill="none" stroke="#f6eef0" stroke-width="0.9" opacity="0.8"/><path d="M1062.7,58.2 A1.6,1.6 0 0 0 1064.9,58.2" fill="none" stroke="#9a8590" stroke-width="0.7" opacity="0.64"/><rect x="1047" y="50" width="9" height="6" fill="#d99aac" opacity="0.8"/><path d="M852.5,224 Q895.15,227 937.8,224" fill="none" stroke="#f3f3f3" stroke-width="1.6" opacity="0.9"/><path d="M854.5,227.6 L935.8,227.6" stroke="#a9a5a6" stroke-width="1" opacity="0.8"/><path d="M952.4,224 Q993.7,227 1035,224" fill="none" stroke="#f3f3f3" stroke-width="1.6" opacity="0.9"/><path d="M954.4,227.6 L1033,227.6" stroke="#a9a5a6" stroke-width="1" opacity="0.8"/><path d="M1048.3,224 Q1090.0,227 1131.7,224" fill="none" stroke="#f3f3f3" stroke-width="1.6" opacity="0.9"/><path d="M1050.3,227.6 L1129.7,227.6" stroke="#a9a5a6" stroke-width="1" opacity="0.8"/><rect x="1134.5" y="29" width="5.5" height="200" fill="#e2dcdc"/><rect x="849.5" y="229.3" width="290.5" height="7.5" fill="#f4f3f3"/><rect x="849.5" y="236.8" width="290.5" height="206.2" fill="url(#botband)"/><rect x="941.5" y="236.8" width="6.5" height="206" fill="#ede9e9"/><rect x="1037" y="236.8" width="6.6" height="206" fill="#e2dcdc"/><rect x="1134.5" y="236.8" width="5.5" height="206" fill="#ddd5d5"/><path d="M850.5,253 L941.5,253 L941.5,435 Q941.5,441 935.5,441 L856.5,441 Q850.5,441 850.5,435 Z" fill="url(#v1b)"/><rect x="850.5" y="252.5" width="91" height="11" fill="#d9d7c9"/><path d="M851,258 Q896,262 941,257" fill="none" stroke="#f6f6ee" stroke-width="1.8"/><path d="M853,253 q-2,5 0,10" fill="none" stroke="#9c9a7c" stroke-width="0.6" opacity="0.9"/><path d="M857,253 q-2,5 0,10" fill="none" stroke="#9c9a7c" stroke-width="0.6" opacity="0.9"/><path d="M861,253 q-2,5 0,10" fill="none" stroke="#9c9a7c" stroke-width="0.6" opacity="0.9"/><path d="M929,253 q-2,5 0,10" fill="none" stroke="#9c9a7c" stroke-width="0.6" opacity="0.9"/><path d="M933,253 q-2,5 0,10" fill="none" stroke="#9c9a7c" stroke-width="0.6" opacity="0.9"/><path d="M937,253 q-2,5 0,10" fill="none" stroke="#9c9a7c" stroke-width="0.6" opacity="0.9"/><path d="M851,262.5 L941,262.5" stroke="#a8a690" stroke-width="0.7"/><path d="M948,240 L1037,240 L1037,435 Q1037,441 1031,441 L954,441 Q948,441 948,435 Z" fill="url(#v2b)"/><rect x="948" y="240" width="89" height="28" fill="#ecdcdc"/><circle cx="996.2" cy="251.5" r="1.8" fill="none" stroke="#fbf3f3" stroke-width="0.9" opacity="0.8"/><path d="M994.9,252.7 A1.8,1.8 0 0 0 997.5,252.7" fill="none" stroke="#c39a9f" stroke-width="0.7" opacity="0.64"/><circle cx="1002.7" cy="245.2" r="2.8" fill="none" stroke="#fbf3f3" stroke-width="0.9" opacity="0.8"/><path d="M1000.8,247.1 A2.8,2.8 0 0 0 1004.7,247.1" fill="none" stroke="#c39a9f" stroke-width="0.7" opacity="0.64"/><circle cx="1021.0" cy="248.6" r="1.2" fill="none" stroke="#fbf3f3" stroke-width="0.9" opacity="0.8"/><path d="M1020.2,249.5 A1.2,1.2 0 0 0 1021.9,249.5" fill="none" stroke="#c39a9f" stroke-width="0.7" opacity="0.64"/><circle cx="1033.8" cy="253.8" r="1.8" fill="none" stroke="#fbf3f3" stroke-width="0.9" opacity="0.8"/><path d="M1032.6,255.1 A1.8,1.8 0 0 0 1035.1,255.1" fill="none" stroke="#c39a9f" stroke-width="0.7" opacity="0.64"/><circle cx="990.6" cy="257.3" r="3.4" fill="none" stroke="#fbf3f3" stroke-width="0.9" opacity="0.8"/><path d="M988.2,259.7 A3.4,3.4 0 0 0 993.0,259.7" fill="none" stroke="#c39a9f" stroke-width="0.7" opacity="0.64"/><circle cx="1003.8" cy="263.3" r="1.6" fill="none" stroke="#fbf3f3" stroke-width="0.9" opacity="0.8"/><path d="M1002.7,264.4 A1.6,1.6 0 0 0 1004.9,264.4" fill="none" stroke="#c39a9f" stroke-width="0.7" opacity="0.64"/><circle cx="1012.3" cy="258.3" r="2.6" fill="none" stroke="#fbf3f3" stroke-width="0.9" opacity="0.8"/><path d="M1010.5,260.0 A2.6,2.6 0 0 0 1014.0,260.0" fill="none" stroke="#c39a9f" stroke-width="0.7" opacity="0.64"/><circle cx="1014.3" cy="256.7" r="1.4" fill="none" stroke="#fbf3f3" stroke-width="0.9" opacity="0.8"/><path d="M1013.3,257.7 A1.4,1.4 0 0 0 1015.2,257.7" fill="none" stroke="#c39a9f" stroke-width="0.7" opacity="0.64"/><circle cx="953.6" cy="262.9" r="2.0" fill="none" stroke="#fbf3f3" stroke-width="0.9" opacity="0.8"/><path d="M952.2,264.3 A2.0,2.0 0 0 0 954.9,264.3" fill="none" stroke="#c39a9f" stroke-width="0.7" opacity="0.64"/><circle cx="1010.5" cy="262.9" r="2.4" fill="none" stroke="#fbf3f3" stroke-width="0.9" opacity="0.8"/><path d="M1008.8,264.6 A2.4,2.4 0 0 0 1012.2,264.6" fill="none" stroke="#c39a9f" stroke-width="0.7" opacity="0.64"/><circle cx="1026.6" cy="252.3" r="3.1" fill="none" stroke="#fbf3f3" stroke-width="0.9" opacity="0.8"/><path d="M1024.4,254.4 A3.1,3.1 0 0 0 1028.7,254.4" fill="none" stroke="#c39a9f" stroke-width="0.7" opacity="0.64"/><circle cx="988.0" cy="263.4" r="3.3" fill="none" stroke="#fbf3f3" stroke-width="0.9" opacity="0.8"/><path d="M985.7,265.7 A3.3,3.3 0 0 0 990.3,265.7" fill="none" stroke="#c39a9f" stroke-width="0.7" opacity="0.64"/><circle cx="960.3" cy="247.2" r="3.5" fill="none" stroke="#fbf3f3" stroke-width="0.9" opacity="0.8"/><path d="M957.8,249.6 A3.5,3.5 0 0 0 962.7,249.6" fill="none" stroke="#c39a9f" stroke-width="0.7" opacity="0.64"/><circle cx="1031.4" cy="253.0" r="1.8" fill="none" stroke="#fbf3f3" stroke-width="0.9" opacity="0.8"/><path d="M1030.1,254.2 A1.8,1.8 0 0 0 1032.6,254.2" fill="none" stroke="#c39a9f" stroke-width="0.7" opacity="0.64"/><circle cx="976.3" cy="254.7" r="2.8" fill="none" stroke="#fbf3f3" stroke-width="0.9" opacity="0.8"/><path d="M974.3,256.6 A2.8,2.8 0 0 0 978.3,256.6" fill="none" stroke="#c39a9f" stroke-width="0.7" opacity="0.64"/><circle cx="980.2" cy="256.4" r="2.2" fill="none" stroke="#fbf3f3" stroke-width="0.9" opacity="0.8"/><path d="M978.6,258.0 A2.2,2.2 0 0 0 981.7,258.0" fill="none" stroke="#c39a9f" stroke-width="0.7" opacity="0.64"/><circle cx="1025.5" cy="258.4" r="2.7" fill="none" stroke="#fbf3f3" stroke-width="0.9" opacity="0.8"/><path d="M1023.6,260.3 A2.7,2.7 0 0 0 1027.4,260.3" fill="none" stroke="#c39a9f" stroke-width="0.7" opacity="0.64"/><circle cx="1020.9" cy="264.2" r="3.6" fill="none" stroke="#fbf3f3" stroke-width="0.9" opacity="0.8"/><path d="M1018.4,266.7 A3.6,3.6 0 0 0 1023.5,266.7" fill="none" stroke="#c39a9f" stroke-width="0.7" opacity="0.64"/><circle cx="965.2" cy="262.1" r="2.9" fill="none" stroke="#fbf3f3" stroke-width="0.9" opacity="0.8"/><path d="M963.1,264.2 A2.9,2.9 0 0 0 967.2,264.2" fill="none" stroke="#c39a9f" stroke-width="0.7" opacity="0.64"/><circle cx="1024.7" cy="255.9" r="3.7" fill="none" stroke="#fbf3f3" stroke-width="0.9" opacity="0.8"/><path d="M1022.1,258.4 A3.7,3.7 0 0 0 1027.3,258.4" fill="none" stroke="#c39a9f" stroke-width="0.7" opacity="0.64"/><circle cx="969.1" cy="261.4" r="3.1" fill="none" stroke="#fbf3f3" stroke-width="0.9" opacity="0.8"/><path d="M967.0,263.6 A3.1,3.1 0 0 0 971.3,263.6" fill="none" stroke="#c39a9f" stroke-width="0.7" opacity="0.64"/><circle cx="974.9" cy="245.1" r="2.7" fill="none" stroke="#fbf3f3" stroke-width="0.9" opacity="0.8"/><path d="M973.1,246.9 A2.7,2.7 0 0 0 976.8,246.9" fill="none" stroke="#c39a9f" stroke-width="0.7" opacity="0.64"/><circle cx="1031.8" cy="246.2" r="3.4" fill="none" stroke="#fbf3f3" stroke-width="0.9" opacity="0.8"/><path d="M1029.4,248.6 A3.4,3.4 0 0 0 1034.2,248.6" fill="none" stroke="#c39a9f" stroke-width="0.7" opacity="0.64"/><circle cx="985.3" cy="247.4" r="3.3" fill="none" stroke="#fbf3f3" stroke-width="0.9" opacity="0.8"/><path d="M983.0,249.7 A3.3,3.3 0 0 0 987.6,249.7" fill="none" stroke="#c39a9f" stroke-width="0.7" opacity="0.64"/><circle cx="1014.8" cy="263.1" r="2.0" fill="none" stroke="#fbf3f3" stroke-width="0.9" opacity="0.8"/><path d="M1013.5,264.5 A2.0,2.0 0 0 0 1016.2,264.5" fill="none" stroke="#c39a9f" stroke-width="0.7" opacity="0.64"/><circle cx="1002.2" cy="243.4" r="1.3" fill="none" stroke="#fbf3f3" stroke-width="0.9" opacity="0.8"/><path d="M1001.2,244.3 A1.3,1.3 0 0 0 1003.1,244.3" fill="none" stroke="#c39a9f" stroke-width="0.7" opacity="0.64"/><circle cx="978.8" cy="262.4" r="3.1" fill="none" stroke="#fbf3f3" stroke-width="0.9" opacity="0.8"/><path d="M976.7,264.6 A3.1,3.1 0 0 0 981.0,264.6" fill="none" stroke="#c39a9f" stroke-width="0.7" opacity="0.64"/><circle cx="992.9" cy="264.2" r="3.7" fill="none" stroke="#fbf3f3" stroke-width="0.9" opacity="0.8"/><path d="M990.3,266.8 A3.7,3.7 0 0 0 995.6,266.8" fill="none" stroke="#c39a9f" stroke-width="0.7" opacity="0.64"/><circle cx="957.4" cy="256.8" r="2.0" fill="none" stroke="#fbf3f3" stroke-width="0.9" opacity="0.8"/><path d="M956.0,258.2 A2.0,2.0 0 0 0 958.8,258.2" fill="none" stroke="#c39a9f" stroke-width="0.7" opacity="0.64"/><circle cx="966.9" cy="252.3" r="1.3" fill="none" stroke="#fbf3f3" stroke-width="0.9" opacity="0.8"/><path d="M966.1,253.1 A1.3,1.3 0 0 0 967.8,253.1" fill="none" stroke="#c39a9f" stroke-width="0.7" opacity="0.64"/><circle cx="964.5" cy="244.7" r="2.8" fill="none" stroke="#fbf3f3" stroke-width="0.9" opacity="0.8"/><path d="M962.6,246.6 A2.8,2.8 0 0 0 966.5,246.6" fill="none" stroke="#c39a9f" stroke-width="0.7" opacity="0.64"/><circle cx="977.6" cy="263.7" r="3.5" fill="none" stroke="#fbf3f3" stroke-width="0.9" opacity="0.8"/><path d="M975.2,266.1 A3.5,3.5 0 0 0 980.0,266.1" fill="none" stroke="#c39a9f" stroke-width="0.7" opacity="0.64"/><circle cx="982.7" cy="253.7" r="3.5" fill="none" stroke="#fbf3f3" stroke-width="0.9" opacity="0.8"/><path d="M980.3,256.2 A3.5,3.5 0 0 0 985.2,256.2" fill="none" stroke="#c39a9f" stroke-width="0.7" opacity="0.64"/><circle cx="1004.3" cy="256.6" r="2.6" fill="none" stroke="#fbf3f3" stroke-width="0.9" opacity="0.8"/><path d="M1002.5,258.4 A2.6,2.6 0 0 0 1006.1,258.4" fill="none" stroke="#c39a9f" stroke-width="0.7" opacity="0.64"/><circle cx="1002.3" cy="264.1" r="2.7" fill="none" stroke="#fbf3f3" stroke-width="0.9" opacity="0.8"/><path d="M1000.5,265.9 A2.7,2.7 0 0 0 1004.2,265.9" fill="none" stroke="#c39a9f" stroke-width="0.7" opacity="0.64"/><circle cx="986.9" cy="259.3" r="2.5" fill="none" stroke="#fbf3f3" stroke-width="0.9" opacity="0.8"/><path d="M985.1,261.1 A2.5,2.5 0 0 0 988.6,261.1" fill="none" stroke="#c39a9f" stroke-width="0.7" opacity="0.64"/><circle cx="975.9" cy="265.7" r="1.8" fill="none" stroke="#fbf3f3" stroke-width="0.9" opacity="0.8"/><path d="M974.6,266.9 A1.8,1.8 0 0 0 977.2,266.9" fill="none" stroke="#c39a9f" stroke-width="0.7" opacity="0.64"/><circle cx="996.5" cy="243.8" r="2.6" fill="none" stroke="#fbf3f3" stroke-width="0.9" opacity="0.8"/><path d="M994.7,245.6 A2.6,2.6 0 0 0 998.3,245.6" fill="none" stroke="#c39a9f" stroke-width="0.7" opacity="0.64"/><circle cx="999.1" cy="243.7" r="2.3" fill="none" stroke="#fbf3f3" stroke-width="0.9" opacity="0.8"/><path d="M997.5,245.3 A2.3,2.3 0 0 0 1000.7,245.3" fill="none" stroke="#c39a9f" stroke-width="0.7" opacity="0.64"/><circle cx="1003.3" cy="245.1" r="2.8" fill="none" stroke="#fbf3f3" stroke-width="0.9" opacity="0.8"/><path d="M1001.3,247.0 A2.8,2.8 0 0 0 1005.2,247.0" fill="none" stroke="#c39a9f" stroke-width="0.7" opacity="0.64"/><circle cx="989.8" cy="258.3" r="2.8" fill="none" stroke="#fbf3f3" stroke-width="0.9" opacity="0.8"/><path d="M987.8,260.3 A2.8,2.8 0 0 0 991.7,260.3" fill="none" stroke="#c39a9f" stroke-width="0.7" opacity="0.64"/><circle cx="1009.6" cy="259.9" r="2.1" fill="none" stroke="#fbf3f3" stroke-width="0.9" opacity="0.8"/><path d="M1008.1,261.4 A2.1,2.1 0 0 0 1011.1,261.4" fill="none" stroke="#c39a9f" stroke-width="0.7" opacity="0.64"/><circle cx="955.4" cy="258.8" r="1.3" fill="none" stroke="#fbf3f3" stroke-width="0.9" opacity="0.8"/><path d="M954.5,259.7 A1.3,1.3 0 0 0 956.3,259.7" fill="none" stroke="#c39a9f" stroke-width="0.7" opacity="0.64"/><circle cx="972.7" cy="253.6" r="3.7" fill="none" stroke="#fbf3f3" stroke-width="0.9" opacity="0.8"/><path d="M970.1,256.2 A3.7,3.7 0 0 0 975.3,256.2" fill="none" stroke="#c39a9f" stroke-width="0.7" opacity="0.64"/><circle cx="977.8" cy="251.6" r="2.7" fill="none" stroke="#fbf3f3" stroke-width="0.9" opacity="0.8"/><path d="M975.9,253.5 A2.7,2.7 0 0 0 979.7,253.5" fill="none" stroke="#c39a9f" stroke-width="0.7" opacity="0.64"/><circle cx="981.6" cy="256.7" r="2.0" fill="none" stroke="#fbf3f3" stroke-width="0.9" opacity="0.8"/><path d="M980.2,258.1 A2.0,2.0 0 0 0 983.1,258.1" fill="none" stroke="#c39a9f" stroke-width="0.7" opacity="0.64"/><circle cx="982.3" cy="260.8" r="2.0" fill="none" stroke="#fbf3f3" stroke-width="0.9" opacity="0.8"/><path d="M980.9,262.2 A2.0,2.0 0 0 0 983.7,262.2" fill="none" stroke="#c39a9f" stroke-width="0.7" opacity="0.64"/><circle cx="998.3" cy="260.3" r="1.3" fill="none" stroke="#fbf3f3" stroke-width="0.9" opacity="0.8"/><path d="M997.5,261.1 A1.3,1.3 0 0 0 999.2,261.1" fill="none" stroke="#c39a9f" stroke-width="0.7" opacity="0.64"/><circle cx="969.5" cy="261.5" r="2.0" fill="none" stroke="#fbf3f3" stroke-width="0.9" opacity="0.8"/><path d="M968.1,262.9 A2.0,2.0 0 0 0 970.9,262.9" fill="none" stroke="#c39a9f" stroke-width="0.7" opacity="0.64"/><circle cx="966.4" cy="253.0" r="1.8" fill="none" stroke="#fbf3f3" stroke-width="0.9" opacity="0.8"/><path d="M965.2,254.3 A1.8,1.8 0 0 0 967.7,254.3" fill="none" stroke="#c39a9f" stroke-width="0.7" opacity="0.64"/><circle cx="960.3" cy="250.8" r="3.0" fill="none" stroke="#fbf3f3" stroke-width="0.9" opacity="0.8"/><path d="M958.2,252.9 A3.0,3.0 0 0 0 962.4,252.9" fill="none" stroke="#c39a9f" stroke-width="0.7" opacity="0.64"/><circle cx="1020.1" cy="253.1" r="2.1" fill="none" stroke="#fbf3f3" stroke-width="0.9" opacity="0.8"/><path d="M1018.7,254.5 A2.1,2.1 0 0 0 1021.6,254.5" fill="none" stroke="#c39a9f" stroke-width="0.7" opacity="0.64"/><circle cx="966.0" cy="251.2" r="3.4" fill="none" stroke="#fbf3f3" stroke-width="0.9" opacity="0.8"/><path d="M963.6,253.6 A3.4,3.4 0 0 0 968.4,253.6" fill="none" stroke="#c39a9f" stroke-width="0.7" opacity="0.64"/><circle cx="1023.8" cy="253.5" r="2.9" fill="none" stroke="#fbf3f3" stroke-width="0.9" opacity="0.8"/><path d="M1021.7,255.5 A2.9,2.9 0 0 0 1025.8,255.5" fill="none" stroke="#c39a9f" stroke-width="0.7" opacity="0.64"/><circle cx="960.9" cy="255.2" r="1.8" fill="none" stroke="#fbf3f3" stroke-width="0.9" opacity="0.8"/><path d="M959.6,256.4 A1.8,1.8 0 0 0 962.1,256.4" fill="none" stroke="#c39a9f" stroke-width="0.7" opacity="0.64"/><circle cx="1018.1" cy="262.5" r="1.7" fill="none" stroke="#fbf3f3" stroke-width="0.9" opacity="0.8"/><path d="M1017.0,263.7 A1.7,1.7 0 0 0 1019.3,263.7" fill="none" stroke="#c39a9f" stroke-width="0.7" opacity="0.64"/><circle cx="974.0" cy="261.8" r="1.7" fill="none" stroke="#fbf3f3" stroke-width="0.9" opacity="0.8"/><path d="M972.8,262.9 A1.7,1.7 0 0 0 975.2,262.9" fill="none" stroke="#c39a9f" stroke-width="0.7" opacity="0.64"/><circle cx="1017.4" cy="251.2" r="2.9" fill="none" stroke="#fbf3f3" stroke-width="0.9" opacity="0.8"/><path d="M1015.4,253.2 A2.9,2.9 0 0 0 1019.4,253.2" fill="none" stroke="#c39a9f" stroke-width="0.7" opacity="0.64"/><circle cx="975.0" cy="261.5" r="1.5" fill="none" stroke="#fbf3f3" stroke-width="0.9" opacity="0.8"/><path d="M974.0,262.6 A1.5,1.5 0 0 0 976.1,262.6" fill="none" stroke="#c39a9f" stroke-width="0.7" opacity="0.64"/><circle cx="979.7" cy="252.6" r="1.9" fill="none" stroke="#fbf3f3" stroke-width="0.9" opacity="0.8"/><path d="M978.4,253.9 A1.9,1.9 0 0 0 981.1,253.9" fill="none" stroke="#c39a9f" stroke-width="0.7" opacity="0.64"/><circle cx="985.0" cy="263.9" r="2.3" fill="none" stroke="#fbf3f3" stroke-width="0.9" opacity="0.8"/><path d="M983.4,265.5 A2.3,2.3 0 0 0 986.6,265.5" fill="none" stroke="#c39a9f" stroke-width="0.7" opacity="0.64"/><circle cx="951.0" cy="265.0" r="1.6" fill="none" stroke="#fbf3f3" stroke-width="0.9" opacity="0.8"/><path d="M949.9,266.2 A1.6,1.6 0 0 0 952.1,266.2" fill="none" stroke="#c39a9f" stroke-width="0.7" opacity="0.64"/><circle cx="1031.5" cy="253.2" r="3.5" fill="none" stroke="#fbf3f3" stroke-width="0.9" opacity="0.8"/><path d="M1029.0,255.6 A3.5,3.5 0 0 0 1033.9,255.6" fill="none" stroke="#c39a9f" stroke-width="0.7" opacity="0.64"/><circle cx="1026.5" cy="249.0" r="3.7" fill="none" stroke="#fbf3f3" stroke-width="0.9" opacity="0.8"/><path d="M1024.0,251.6 A3.7,3.7 0 0 0 1029.1,251.6" fill="none" stroke="#c39a9f" stroke-width="0.7" opacity="0.64"/><circle cx="1019.7" cy="257.9" r="3.1" fill="none" stroke="#fbf3f3" stroke-width="0.9" opacity="0.8"/><path d="M1017.5,260.1 A3.1,3.1 0 0 0 1021.9,260.1" fill="none" stroke="#c39a9f" stroke-width="0.7" opacity="0.64"/><circle cx="975.2" cy="251.0" r="2.5" fill="none" stroke="#fbf3f3" stroke-width="0.9" opacity="0.8"/><path d="M973.4,252.8 A2.5,2.5 0 0 0 977.0,252.8" fill="none" stroke="#c39a9f" stroke-width="0.7" opacity="0.64"/><circle cx="956.5" cy="256.6" r="1.8" fill="none" stroke="#fbf3f3" stroke-width="0.9" opacity="0.8"/><path d="M955.2,257.8 A1.8,1.8 0 0 0 957.7,257.8" fill="none" stroke="#c39a9f" stroke-width="0.7" opacity="0.64"/><circle cx="1018.3" cy="244.0" r="1.9" fill="none" stroke="#fbf3f3" stroke-width="0.9" opacity="0.8"/><path d="M1016.9,245.4 A1.9,1.9 0 0 0 1019.6,245.4" fill="none" stroke="#c39a9f" stroke-width="0.7" opacity="0.64"/><circle cx="1008.0" cy="262.9" r="3.5" fill="none" stroke="#fbf3f3" stroke-width="0.9" opacity="0.8"/><path d="M1005.5,265.4 A3.5,3.5 0 0 0 1010.5,265.4" fill="none" stroke="#c39a9f" stroke-width="0.7" opacity="0.64"/><circle cx="1024.4" cy="256.0" r="3.5" fill="none" stroke="#fbf3f3" stroke-width="0.9" opacity="0.8"/><path d="M1022.0,258.5 A3.5,3.5 0 0 0 1026.9,258.5" fill="none" stroke="#c39a9f" stroke-width="0.7" opacity="0.64"/><circle cx="1013.2" cy="246.4" r="1.2" fill="none" stroke="#fbf3f3" stroke-width="0.9" opacity="0.8"/><path d="M1012.4,247.3 A1.2,1.2 0 0 0 1014.1,247.3" fill="none" stroke="#c39a9f" stroke-width="0.7" opacity="0.64"/><circle cx="1006.0" cy="255.1" r="2.0" fill="none" stroke="#fbf3f3" stroke-width="0.9" opacity="0.8"/><path d="M1004.6,256.5 A2.0,2.0 0 0 0 1007.4,256.5" fill="none" stroke="#c39a9f" stroke-width="0.7" opacity="0.64"/><circle cx="1028.7" cy="257.0" r="2.3" fill="none" stroke="#fbf3f3" stroke-width="0.9" opacity="0.8"/><path d="M1027.1,258.6 A2.3,2.3 0 0 0 1030.3,258.6" fill="none" stroke="#c39a9f" stroke-width="0.7" opacity="0.64"/><circle cx="972.0" cy="262.8" r="2.1" fill="none" stroke="#fbf3f3" stroke-width="0.9" opacity="0.8"/><path d="M970.5,264.2 A2.1,2.1 0 0 0 973.5,264.2" fill="none" stroke="#c39a9f" stroke-width="0.7" opacity="0.64"/><circle cx="1015.7" cy="251.2" r="2.4" fill="none" stroke="#fbf3f3" stroke-width="0.9" opacity="0.8"/><path d="M1014.0,252.9 A2.4,2.4 0 0 0 1017.4,252.9" fill="none" stroke="#c39a9f" stroke-width="0.7" opacity="0.64"/><circle cx="995.4" cy="262.0" r="1.7" fill="none" stroke="#fbf3f3" stroke-width="0.9" opacity="0.8"/><path d="M994.2,263.2 A1.7,1.7 0 0 0 996.6,263.2" fill="none" stroke="#c39a9f" stroke-width="0.7" opacity="0.64"/><circle cx="1016.9" cy="264.5" r="1.6" fill="none" stroke="#fbf3f3" stroke-width="0.9" opacity="0.8"/><path d="M1015.8,265.7 A1.6,1.6 0 0 0 1018.1,265.7" fill="none" stroke="#c39a9f" stroke-width="0.7" opacity="0.64"/><circle cx="1018.5" cy="244.4" r="3.3" fill="none" stroke="#fbf3f3" stroke-width="0.9" opacity="0.8"/><path d="M1016.2,246.8 A3.3,3.3 0 0 0 1020.8,246.8" fill="none" stroke="#c39a9f" stroke-width="0.7" opacity="0.64"/><circle cx="1022.0" cy="244.9" r="2.8" fill="none" stroke="#fbf3f3" stroke-width="0.9" opacity="0.8"/><path d="M1020.0,246.9 A2.8,2.8 0 0 0 1024.0,246.9" fill="none" stroke="#c39a9f" stroke-width="0.7" opacity="0.64"/><circle cx="973.2" cy="255.1" r="1.9" fill="none" stroke="#fbf3f3" stroke-width="0.9" opacity="0.8"/><path d="M971.9,256.5 A1.9,1.9 0 0 0 974.6,256.5" fill="none" stroke="#c39a9f" stroke-width="0.7" opacity="0.64"/><path d="M948,268 Q992,271 1037,267" fill="none" stroke="#e8b0b4" stroke-width="2"/><path d="M1043.6,252 L1134.5,252 L1134.5,435 Q1134.5,441 1128.5,441 L1049.6,441 Q1043.6,441 1043.6,435 Z" fill="url(#v3b)"/><rect x="1043.6" y="252" width="90.9" height="4.5" fill="#c7688e"/><path d="M1043.6,256 Q1089,261 1134.5,255.5 L1134.5,265 L1043.6,265 Z" fill="#4b162f"/><rect x="1043.6" y="265" width="90.9" height="173" fill="url(#v3bh)"/><rect x="1059" y="268" width="1.5" height="20" fill="#d58aa6" opacity="0.8"/><path d="M852.5,436 Q896.0,439.5 939.5,436" fill="none" stroke="#f1eeee" stroke-width="1.6" opacity="0.9"/><path d="M854.5,440.3 L937.5,440.3" stroke="#a49c9c" stroke-width="1" opacity="0.8"/><path d="M950,436 Q992.5,439.5 1035,436" fill="none" stroke="#f1eeee" stroke-width="1.6" opacity="0.9"/><path d="M952,440.3 L1033,440.3" stroke="#a49c9c" stroke-width="1" opacity="0.8"/><path d="M1045.6,436 Q1089.05,439.5 1132.5,436" fill="none" stroke="#f1eeee" stroke-width="1.6" opacity="0.9"/><path d="M1047.6,440.3 L1130.5,440.3" stroke="#a49c9c" stroke-width="1" opacity="0.8"/><rect x="849.5" y="441" width="290.5" height="2" fill="#eeeaea"/>
<text x="877.06" y="149.30" font-family='"Liberation Sans", sans-serif' font-size="20.5" font-weight="normal"  font-style="normal" fill="#000" textLength="23.14" lengthAdjust="spacingAndGlyphs" >Fe</text>
<text x="900.32" y="141.70" font-family='"Liberation Sans", sans-serif' font-size="12.8" font-weight="normal"  font-style="normal" fill="#000" textLength="16.86" lengthAdjust="spacingAndGlyphs" >3+</text>
<text x="955.59" y="149.30" font-family='"Liberation Sans", sans-serif' font-size="20.5" font-weight="bold"  font-style="normal" fill="#000" textLength="12.36" lengthAdjust="spacingAndGlyphs" >1</text>
<text x="973.72" y="149.30" font-family='"Liberation Sans", sans-serif' font-size="20.5" font-weight="normal"  font-style="normal" fill="#000" textLength="12.93" lengthAdjust="spacingAndGlyphs" >+</text>
<text x="991.87" y="149.30" font-family='"Liberation Sans", sans-serif' font-size="20.5" font-weight="normal"  font-style="normal" fill="#000" textLength="24.37" lengthAdjust="spacingAndGlyphs" >Fe</text>
<text x="1015.91" y="141.70" font-family='"Liberation Sans", sans-serif' font-size="12.8" font-weight="normal"  font-style="normal" fill="#000" textLength="17.30" lengthAdjust="spacingAndGlyphs" >3+</text>
<text x="1053.04" y="149.30" font-family='"Liberation Sans", sans-serif' font-size="20.5" font-weight="bold"  font-style="normal" fill="#000" textLength="12.32" lengthAdjust="spacingAndGlyphs" >2</text>
<text x="1070.30" y="149.30" font-family='"Liberation Sans", sans-serif' font-size="20.5" font-weight="normal"  font-style="normal" fill="#000" textLength="13.17" lengthAdjust="spacingAndGlyphs" >+</text>
<text x="1088.36" y="149.30" font-family='"Liberation Sans", sans-serif' font-size="20.5" font-weight="normal"  font-style="normal" fill="#000" textLength="24.49" lengthAdjust="spacingAndGlyphs" >Fe</text>
<text x="1111.98" y="141.70" font-family='"Liberation Sans", sans-serif' font-size="12.8" font-weight="normal"  font-style="normal" fill="#000" textLength="18.05" lengthAdjust="spacingAndGlyphs" >3+</text>
<text x="877.06" y="361.10" font-family='"Liberation Sans", sans-serif' font-size="20.5" font-weight="normal"  font-style="normal" fill="#000" textLength="23.14" lengthAdjust="spacingAndGlyphs" >Fe</text>
<text x="900.32" y="353.50" font-family='"Liberation Sans", sans-serif' font-size="12.8" font-weight="normal"  font-style="normal" fill="#000" textLength="16.86" lengthAdjust="spacingAndGlyphs" >3+</text>
<text x="955.59" y="361.10" font-family='"Liberation Sans", sans-serif' font-size="20.5" font-weight="bold"  font-style="normal" fill="#000" textLength="12.36" lengthAdjust="spacingAndGlyphs" >1</text>
<text x="973.72" y="361.10" font-family='"Liberation Sans", sans-serif' font-size="20.5" font-weight="normal"  font-style="normal" fill="#000" textLength="12.93" lengthAdjust="spacingAndGlyphs" >+</text>
<text x="991.87" y="361.10" font-family='"Liberation Sans", sans-serif' font-size="20.5" font-weight="normal"  font-style="normal" fill="#000" textLength="24.37" lengthAdjust="spacingAndGlyphs" >Fe</text>
<text x="1015.91" y="353.50" font-family='"Liberation Sans", sans-serif' font-size="12.8" font-weight="normal"  font-style="normal" fill="#000" textLength="17.30" lengthAdjust="spacingAndGlyphs" >3+</text>
<text x="1053.04" y="361.10" font-family='"Liberation Sans", sans-serif' font-size="20.5" font-weight="bold"  font-style="normal" fill="#000" textLength="12.32" lengthAdjust="spacingAndGlyphs" >2</text>
<text x="1070.30" y="361.10" font-family='"Liberation Sans", sans-serif' font-size="20.5" font-weight="normal"  font-style="normal" fill="#000" textLength="13.17" lengthAdjust="spacingAndGlyphs" >+</text>
<text x="1088.36" y="361.10" font-family='"Liberation Sans", sans-serif' font-size="20.5" font-weight="normal"  font-style="normal" fill="#000" textLength="24.49" lengthAdjust="spacingAndGlyphs" >Fe</text>
<text x="1111.98" y="353.50" font-family='"Liberation Sans", sans-serif' font-size="12.8" font-weight="normal"  font-style="normal" fill="#000" textLength="18.05" lengthAdjust="spacingAndGlyphs" >3+</text>
<text x="846.46" y="471.00" font-family='"Liberation Sans", sans-serif' font-size="19.2" font-weight="normal" stroke="#000" stroke-width="0.8" stroke-linejoin="round" font-style="normal" fill="#000" textLength="265.57" lengthAdjust="spacingAndGlyphs" >30 µM in each species (top)</text>
<text x="846.11" y="499.50" font-family='"Liberation Sans", sans-serif' font-size="19.2" font-weight="normal" stroke="#000" stroke-width="0.8" stroke-linejoin="round" font-style="normal" fill="#000" textLength="318.53" lengthAdjust="spacingAndGlyphs" >200 µM in each species (bottom)</text>
<line x1="117.5" y1="540.5" x2="117.5" y2="904.2" stroke="#000" stroke-width="2.4" />
<line x1="116.3" y1="903" x2="801" y2="903" stroke="#000" stroke-width="2.4" />
<text x="57.89" y="572.80" font-family='"Liberation Sans", sans-serif' font-size="18.6" font-weight="normal" stroke="#000" stroke-width="0.8" stroke-linejoin="round" font-style="normal" fill="#000" textLength="37.74" lengthAdjust="spacingAndGlyphs" >0.07</text>
<text x="57.89" y="620.73" font-family='"Liberation Sans", sans-serif' font-size="18.6" font-weight="normal" stroke="#000" stroke-width="0.8" stroke-linejoin="round" font-style="normal" fill="#000" textLength="37.63" lengthAdjust="spacingAndGlyphs" >0.06</text>
<text x="57.89" y="668.66" font-family='"Liberation Sans", sans-serif' font-size="18.6" font-weight="normal" stroke="#000" stroke-width="0.8" stroke-linejoin="round" font-style="normal" fill="#000" textLength="37.63" lengthAdjust="spacingAndGlyphs" >0.05</text>
<text x="57.89" y="716.59" font-family='"Liberation Sans", sans-serif' font-size="18.6" font-weight="normal" stroke="#000" stroke-width="0.8" stroke-linejoin="round" font-style="normal" fill="#000" textLength="37.42" lengthAdjust="spacingAndGlyphs" >0.04</text>
<text x="57.89" y="764.52" font-family='"Liberation Sans", sans-serif' font-size="18.6" font-weight="normal" stroke="#000" stroke-width="0.8" stroke-linejoin="round" font-style="normal" fill="#000" textLength="37.63" lengthAdjust="spacingAndGlyphs" >0.03</text>
<text x="57.89" y="812.45" font-family='"Liberation Sans", sans-serif' font-size="18.6" font-weight="normal" stroke="#000" stroke-width="0.8" stroke-linejoin="round" font-style="normal" fill="#000" textLength="37.74" lengthAdjust="spacingAndGlyphs" >0.02</text>
<text x="57.89" y="860.38" font-family='"Liberation Sans", sans-serif' font-size="18.6" font-weight="normal" stroke="#000" stroke-width="0.8" stroke-linejoin="round" font-style="normal" fill="#000" textLength="37.74" lengthAdjust="spacingAndGlyphs" >0.01</text>
<text x="85.79" y="908.80" font-family='"Liberation Sans", sans-serif' font-size="18.6" font-weight="normal" stroke="#000" stroke-width="0.8" stroke-linejoin="round" font-style="normal" fill="#000" textLength="10.67" lengthAdjust="spacingAndGlyphs" >0</text>
<text x="111.18" y="937.90" font-family='"Liberation Sans", sans-serif' font-size="18.6" font-weight="normal" stroke="#000" stroke-width="0.8" stroke-linejoin="round" font-style="normal" fill="#000" textLength="10.88" lengthAdjust="spacingAndGlyphs" >0</text>
<text x="242.29" y="937.90" font-family='"Liberation Sans", sans-serif' font-size="18.6" font-weight="normal" stroke="#000" stroke-width="0.8" stroke-linejoin="round" font-style="normal" fill="#000" textLength="20.90" lengthAdjust="spacingAndGlyphs" >10</text>
<text x="379.31" y="937.90" font-family='"Liberation Sans", sans-serif' font-size="18.6" font-weight="normal" stroke="#000" stroke-width="0.8" stroke-linejoin="round" font-style="normal" fill="#000" textLength="20.38" lengthAdjust="spacingAndGlyphs" >20</text>
<text x="516.01" y="937.90" font-family='"Liberation Sans", sans-serif' font-size="18.6" font-weight="normal" stroke="#000" stroke-width="0.8" stroke-linejoin="round" font-style="normal" fill="#000" textLength="20.17" lengthAdjust="spacingAndGlyphs" >30</text>
<text x="652.80" y="937.90" font-family='"Liberation Sans", sans-serif' font-size="18.6" font-weight="normal" stroke="#000" stroke-width="0.8" stroke-linejoin="round" font-style="normal" fill="#000" textLength="19.88" lengthAdjust="spacingAndGlyphs" >40</text>
<text x="789.01" y="937.90" font-family='"Liberation Sans", sans-serif' font-size="18.6" font-weight="normal" stroke="#000" stroke-width="0.8" stroke-linejoin="round" font-style="normal" fill="#000" textLength="20.17" lengthAdjust="spacingAndGlyphs" >50</text>
<text x="412.31" y="968.20" font-family='"Liberation Sans", sans-serif' font-size="18.6" font-weight="normal" stroke="#000" stroke-width="0.8" stroke-linejoin="round" font-style="normal" fill="#000" textLength="93.86" lengthAdjust="spacingAndGlyphs" >time (min)</text>
<text transform="translate(46.80,812.50) rotate(-90)" x="0" y="0" font-family='"Liberation Sans", sans-serif' font-size="20.3" font-weight="normal" stroke="#000" stroke-width="0.8" stroke-linejoin="round" font-style="normal" fill="#000" textLength="201.75" lengthAdjust="spacingAndGlyphs">Absorbance at 510 nm</text>
<path d="M131.00,694.50 L131.60,693.12 L132.21,691.73 L132.81,690.36 L133.41,688.98 L134.02,687.60 L134.62,686.23 L135.22,684.86 L135.83,683.49 L136.44,682.12 L137.05,680.75 L137.66,679.39 L138.28,678.03 L138.90,676.66 L139.53,675.30 L140.16,673.94 L140.79,672.59 L141.44,671.23 L142.09,669.87 L142.74,668.52 L143.40,667.17 L144.07,665.81 L144.75,664.46 L145.44,663.11 L146.13,661.76 L146.84,660.41 L147.56,659.07 L148.28,657.72 L149.02,656.38 L149.78,655.04 L150.55,653.72 L151.34,652.41 L152.15,651.12 L152.99,649.85 L153.85,648.60 L154.73,647.37 L155.65,646.18 L156.59,645.02 L157.57,643.89 L158.58,642.80 L159.63,641.76 L160.72,640.75 L161.84,639.80 L163.01,638.89 L164.21,638.02 L165.45,637.20 L166.71,636.42 L168.00,635.67 L169.31,634.95 L170.64,634.26 L171.99,633.60 L173.35,632.97 L174.72,632.35 L176.09,631.76 L177.47,631.18 L178.86,630.62 L180.25,630.07 L181.65,629.55 L183.05,629.04 L184.45,628.55 L185.86,628.07 L187.28,627.61 L188.70,627.16 L190.12,626.73 L191.55,626.32 L192.98,625.92 L194.42,625.53 L195.86,625.16 L197.31,624.80 L198.76,624.46 L200.21,624.12 L201.66,623.81 L203.12,623.50 L204.59,623.21 L206.05,622.93 L207.52,622.66 L208.99,622.40 L210.47,622.15 L211.95,621.92 L213.43,621.69 L214.91,621.48 L216.40,621.27 L217.89,621.08 L219.38,620.89 L220.87,620.72 L222.37,620.55 L223.87,620.39 L225.37,620.24 L226.87,620.10 L228.37,619.97 L229.87,619.84 L231.38,619.72 L232.89,619.61 L234.40,619.50 L235.91,619.40 L237.42,619.31 L238.93,619.22 L240.44,619.14 L241.95,619.06 L243.47,618.99 L244.98,618.92 L246.50,618.85 L248.01,618.80 L249.53,618.74 L251.04,618.69 L252.56,618.64 L254.08,618.59 L255.59,618.55 L257.11,618.51 L258.62,618.47 L260.13,618.43 L261.65,618.39 L263.16,618.36 L264.67,618.32 L266.18,618.29 L267.70,618.26 L269.21,618.23 L270.72,618.20 L272.23,618.17 L273.73,618.15 L275.24,618.12 L276.75,618.10 L278.26,618.08 L279.77,618.06 L281.27,618.04 L282.78,618.02 L284.28,618.00 L285.79,617.98 L287.29,617.97 L288.80,617.95 L290.30,617.94 L291.81,617.92 L293.31,617.91 L294.81,617.90 L296.32,617.89 L297.82,617.88 L299.32,617.87 L300.82,617.86 L302.33,617.86 L303.83,617.85 L305.33,617.84 L306.83,617.84 L308.33,617.83 L309.83,617.83 L311.33,617.83 L312.83,617.82 L314.33,617.82 L315.83,617.82 L317.33,617.82 L318.83,617.82 L320.33,617.82 L321.83,617.82 L323.33,617.82 L324.83,617.82 L326.33,617.82 L327.83,617.82 L329.33,617.82 L330.83,617.83 L332.33,617.83 L333.83,617.83 L335.33,617.83 L336.83,617.84 L338.33,617.84 L339.83,617.84 L341.33,617.84 L342.83,617.85 L344.34,617.85 L345.84,617.85 L347.34,617.86 L348.84,617.86 L350.34,617.86 L351.84,617.87 L353.34,617.87 L354.85,617.87 L356.35,617.88 L357.85,617.88 L359.35,617.88 L360.86,617.89 L362.36,617.89 L363.86,617.89 L365.36,617.90 L366.87,617.90 L368.37,617.90 L369.87,617.91 L371.38,617.91 L372.88,617.91 L374.38,617.92 L375.89,617.92 L377.39,617.92 L378.90,617.93 L380.40,617.93 L381.91,617.93 L383.41,617.94 L384.91,617.94 L386.42,617.94 L387.92,617.95 L389.43,617.95 L390.93,617.95 L392.44,617.96 L393.94,617.96 L395.45,617.96 L396.95,617.97 L398.46,617.97 L399.96,617.97 L401.47,617.98 L402.97,617.98 L404.48,617.98 L405.99,617.99 L407.49,617.99 L409.00,617.99 L410.50,618.00 L412.01,618.00 L413.51,618.00 L415.02,618.00 L416.53,618.01 L418.03,618.01 L419.54,618.01 L421.04,618.02 L422.55,618.02 L424.05,618.02 L425.56,618.03 L427.07,618.03 L428.57,618.03 L430.08,618.04 L431.58,618.04 L433.09,618.04 L434.59,618.04 L436.10,618.05 L437.61,618.05 L439.11,618.05 L440.62,618.06 L442.12,618.06 L443.63,618.06 L445.13,618.07 L446.64,618.07 L448.15,618.07 L449.65,618.07 L451.16,618.08 L452.66,618.08 L454.17,618.08 L455.67,618.09 L457.18,618.09 L458.68,618.09 L460.19,618.09 L461.69,618.10 L463.20,618.10 L464.71,618.10 L466.21,618.11 L467.72,618.11 L469.22,618.11 L470.73,618.11 L472.23,618.12 L473.74,618.12 L475.24,618.12 L476.75,618.13 L478.25,618.13 L479.76,618.13 L481.26,618.13 L482.77,618.14 L484.27,618.14 L485.78,618.14 L487.28,618.14 L488.79,618.15 L490.29,618.15 L491.80,618.15 L493.30,618.16 L494.81,618.16 L496.31,618.16 L497.82,618.16 L499.32,618.17 L500.83,618.17 L502.33,618.17 L503.84,618.17 L505.34,618.18 L506.84,618.18 L508.35,618.18 L509.85,618.18 L511.36,618.19 L512.86,618.19 L514.37,618.19 L515.87,618.19 L517.38,618.20 L518.88,618.20 L520.39,618.20 L521.89,618.20 L523.40,618.21 L524.90,618.21 L526.40,618.21 L527.91,618.21 L529.41,618.22 L530.92,618.22 L532.42,618.22 L533.93,618.22 L535.43,618.23 L536.94,618.23 L538.44,618.23 L539.95,618.23 L541.45,618.24 L542.95,618.24 L544.46,618.24 L545.96,618.24 L547.47,618.24 L548.97,618.25 L550.48,618.25 L551.98,618.25 L553.48,618.25 L554.99,618.26 L556.49,618.26 L558.00,618.26 L559.50,618.26 L561.01,618.26 L562.51,618.27 L564.01,618.27 L565.52,618.27 L567.02,618.27 L568.53,618.28 L570.03,618.28 L571.54,618.28 L573.04,618.28 L574.54,618.28 L576.05,618.29 L577.55,618.29 L579.06,618.29 L580.56,618.29 L582.06,618.30 L583.57,618.30 L585.07,618.30 L586.58,618.30 L588.08,618.30 L589.59,618.31 L591.09,618.31 L592.59,618.31 L594.10,618.31 L595.60,618.31 L597.11,618.32 L598.61,618.32 L600.11,618.32 L601.62,618.32 L603.12,618.32 L604.63,618.33 L606.13,618.33 L607.63,618.33 L609.14,618.33 L610.64,618.33 L612.15,618.34 L613.65,618.34 L615.15,618.34 L616.66,618.34 L618.16,618.34 L619.67,618.34 L621.17,618.35 L622.68,618.35 L624.18,618.35 L625.68,618.35 L627.19,618.35 L628.69,618.36 L630.20,618.36 L631.70,618.36 L633.20,618.36 L634.71,618.36 L636.21,618.36 L637.72,618.37 L639.22,618.37 L640.72,618.37 L642.23,618.37 L643.73,618.37 L645.24,618.37 L646.74,618.38 L648.24,618.38 L649.75,618.38 L651.25,618.38 L652.76,618.38 L654.26,618.38 L655.76,618.39 L657.27,618.39 L658.77,618.39 L660.28,618.39 L661.78,618.39 L663.28,618.39 L664.79,618.40 L666.29,618.40 L667.80,618.40 L669.30,618.40 L670.81,618.40 L672.31,618.40 L673.81,618.41 L675.32,618.41 L676.82,618.41 L678.33,618.41 L679.83,618.41 L681.33,618.41 L682.84,618.41 L684.34,618.42 L685.85,618.42 L687.35,618.42 L688.85,618.42 L690.36,618.42 L691.86,618.42 L693.37,618.42 L694.87,618.43 L696.38,618.43 L697.88,618.43 L699.38,618.43 L700.89,618.43 L702.39,618.43 L703.90,618.43 L705.40,618.44 L706.91,618.44 L708.41,618.44 L709.91,618.44 L711.42,618.44 L712.92,618.44 L714.43,618.44 L715.93,618.44 L717.44,618.45 L718.94,618.45 L720.44,618.45 L721.95,618.45 L723.45,618.45 L724.96,618.45 L726.46,618.45 L727.97,618.45 L729.47,618.45 L730.98,618.46 L732.48,618.46 L733.98,618.46 L735.49,618.46 L736.99,618.46 L738.50,618.46 L740.00,618.46 L741.51,618.46 L743.01,618.47 L744.52,618.47 L746.02,618.47 L747.53,618.47 L749.03,618.47 L750.53,618.47 L752.04,618.47 L753.54,618.47 L755.05,618.47 L756.55,618.47 L758.06,618.48 L759.56,618.48 L761.07,618.48 L762.57,618.48 L764.08,618.48 L765.58,618.48 L767.09,618.48 L768.59,618.48 L770.10,618.48 L771.60,618.48 L773.11,618.48 L774.61,618.49 L776.12,618.49 L777.62,618.49 L779.13,618.49 L780.63,618.49 L782.14,618.49 L783.64,618.49 L785.15,618.49 L786.65,618.49 L788.16,618.49 L789.66,618.49 L791.17,618.49 L792.67,618.50 L794.18,618.50 L795.68,618.50 L797.19,618.50 L798.69,618.50 L800.20,618.50 L801.70,618.50" fill="none" stroke="#BA4A12" stroke-width="2.5" stroke-linejoin="round" stroke-linecap="butt" />
<path d="M131.00,602.41 L132.30,601.57 L133.60,600.76 L134.92,599.99 L136.26,599.26 L137.60,598.55 L138.96,597.88 L140.32,597.25 L141.70,596.64 L143.08,596.06 L144.48,595.52 L145.88,595.00 L147.29,594.51 L148.71,594.05 L150.14,593.61 L151.57,593.21 L153.02,592.82 L154.46,592.47 L155.92,592.13 L157.38,591.82 L158.85,591.54 L160.32,591.27 L161.79,591.03 L163.27,590.80 L164.76,590.59 L166.25,590.40 L167.74,590.23 L169.23,590.07 L170.73,589.92 L172.23,589.79 L173.73,589.66 L175.23,589.55 L176.73,589.44 L178.24,589.34 L179.74,589.25 L181.25,589.16 L182.75,589.08 L184.26,589.00 L185.77,588.93 L187.27,588.85 L188.78,588.78 L190.29,588.71 L191.79,588.64 L193.30,588.57 L194.81,588.51 L196.31,588.44 L197.82,588.38 L199.32,588.32 L200.83,588.25 L202.34,588.19 L203.84,588.13 L205.35,588.07 L206.86,588.01 L208.36,587.95 L209.87,587.89 L211.37,587.82 L212.88,587.76 L214.38,587.70 L215.89,587.64 L217.40,587.58 L218.90,587.52 L220.41,587.46 L221.91,587.40 L223.42,587.34 L224.92,587.27 L226.43,587.21 L227.93,587.15 L229.44,587.09 L230.94,587.03 L232.45,586.97 L233.95,586.91 L235.46,586.84 L236.96,586.78 L238.47,586.72 L239.97,586.66 L241.48,586.60 L242.98,586.53 L244.49,586.47 L245.99,586.41 L247.50,586.34 L249.00,586.28 L250.51,586.22 L252.01,586.15 L253.52,586.09 L255.02,586.03 L256.52,585.96 L258.03,585.90 L259.53,585.83 L261.04,585.77 L262.54,585.70 L264.05,585.64 L265.55,585.57 L267.06,585.50 L268.56,585.44 L270.07,585.37 L271.57,585.30 L273.08,585.23 L274.58,585.17 L276.09,585.10 L277.59,585.03 L279.10,584.96 L280.60,584.89 L282.11,584.82 L283.61,584.75 L285.12,584.68 L286.62,584.61 L288.13,584.53 L289.63,584.46 L291.14,584.39 L292.64,584.31 L294.15,584.24 L295.65,584.17 L297.16,584.09 L298.66,584.02 L300.17,583.94 L301.67,583.87 L303.18,583.80 L304.68,583.72 L306.19,583.65 L307.69,583.58 L309.20,583.51 L310.70,583.44 L312.21,583.37 L313.71,583.30 L315.22,583.23 L316.73,583.17 L318.23,583.11 L319.74,583.04 L321.24,582.98 L322.75,582.93 L324.25,582.87 L325.76,582.81 L327.26,582.76 L328.77,582.71 L330.27,582.66 L331.78,582.62 L333.29,582.58 L334.79,582.54 L336.30,582.50 L337.80,582.47 L339.31,582.44 L340.81,582.41 L342.32,582.38 L343.82,582.36 L345.33,582.34 L346.83,582.32 L348.34,582.30 L349.84,582.29 L351.35,582.27 L352.85,582.26 L354.36,582.25 L355.87,582.24 L357.37,582.23 L358.88,582.21 L360.38,582.20 L361.89,582.19 L363.39,582.18 L364.90,582.17 L366.40,582.16 L367.91,582.15 L369.41,582.13 L370.92,582.12 L372.43,582.11 L373.93,582.09 L375.44,582.08 L376.94,582.07 L378.45,582.05 L379.95,582.04 L381.46,582.02 L382.96,582.01 L384.47,582.00 L385.98,581.98 L387.48,581.97 L388.99,581.96 L390.49,581.95 L392.00,581.94 L393.50,581.94 L395.01,581.93 L396.51,581.93 L398.02,581.93 L399.53,581.93 L401.03,581.93 L402.54,581.94 L404.04,581.95 L405.55,581.96 L407.05,581.98 L408.56,581.99 L410.07,582.01 L411.57,582.02 L413.08,582.04 L414.58,582.05 L416.09,582.07 L417.59,582.08 L419.10,582.09 L420.61,582.09 L422.11,582.10 L423.62,582.10 L425.12,582.10 L426.63,582.09 L428.14,582.09 L429.64,582.08 L431.15,582.07 L432.65,582.06 L434.16,582.04 L435.67,582.03 L437.17,582.01 L438.68,582.00 L440.18,581.98 L441.69,581.96 L443.20,581.94 L444.70,581.92 L446.21,581.90 L447.71,581.88 L449.22,581.86 L450.73,581.84 L452.23,581.82 L453.74,581.79 L455.24,581.77 L456.75,581.75 L458.26,581.73 L459.76,581.71 L461.27,581.69 L462.78,581.67 L464.28,581.65 L465.79,581.63 L467.29,581.61 L468.80,581.58 L470.31,581.56 L471.81,581.54 L473.32,581.52 L474.83,581.50 L476.33,581.48 L477.84,581.46 L479.34,581.44 L480.85,581.42 L482.36,581.41 L483.86,581.39 L485.37,581.37 L486.88,581.35 L488.38,581.33 L489.89,581.31 L491.40,581.29 L492.90,581.27 L494.41,581.25 L495.91,581.23 L497.42,581.21 L498.93,581.19 L500.43,581.17 L501.94,581.15 L503.45,581.14 L504.95,581.12 L506.46,581.10 L507.97,581.08 L509.47,581.06 L510.98,581.04 L512.48,581.02 L513.99,581.00 L515.50,580.98 L517.00,580.96 L518.51,580.94 L520.02,580.92 L521.52,580.91 L523.03,580.89 L524.54,580.87 L526.04,580.85 L527.55,580.83 L529.06,580.81 L530.56,580.79 L532.07,580.77 L533.57,580.75 L535.08,580.73 L536.59,580.71 L538.09,580.69 L539.60,580.67 L541.11,580.65 L542.61,580.63 L544.12,580.61 L545.63,580.59 L547.13,580.57 L548.64,580.55 L550.15,580.53 L551.65,580.51 L553.16,580.49 L554.66,580.47 L556.17,580.45 L557.68,580.42 L559.18,580.40 L560.69,580.38 L562.20,580.36 L563.70,580.34 L565.21,580.32 L566.72,580.30 L568.22,580.27 L569.73,580.25 L571.24,580.23 L572.74,580.21 L574.25,580.18 L575.76,580.16 L577.26,580.14 L578.77,580.11 L580.27,580.09 L581.78,580.07 L583.29,580.04 L584.79,580.02 L586.30,580.00 L587.81,579.97 L589.31,579.95 L590.82,579.92 L592.33,579.90 L593.83,579.87 L595.34,579.85 L596.84,579.82 L598.35,579.80 L599.86,579.77 L601.36,579.74 L602.87,579.72 L604.38,579.69 L605.88,579.66 L607.39,579.64 L608.90,579.61 L610.40,579.58 L611.91,579.55 L613.41,579.53 L614.92,579.50 L616.43,579.47 L617.93,579.44 L619.44,579.41 L620.95,579.38 L622.45,579.35 L623.96,579.32 L625.46,579.29 L626.97,579.26 L628.48,579.23 L629.98,579.20 L631.49,579.17 L633.00,579.13 L634.50,579.10 L636.01,579.07 L637.51,579.04 L639.02,579.00 L640.53,578.97 L642.03,578.94 L643.54,578.91 L645.05,578.87 L646.55,578.84 L648.06,578.81 L649.56,578.78 L651.07,578.74 L652.58,578.71 L654.08,578.68 L655.59,578.65 L657.09,578.62 L658.60,578.58 L660.11,578.55 L661.61,578.52 L663.12,578.49 L664.63,578.46 L666.13,578.43 L667.64,578.41 L669.14,578.38 L670.65,578.35 L672.16,578.32 L673.66,578.30 L675.17,578.27 L676.67,578.25 L678.18,578.22 L679.69,578.20 L681.19,578.18 L682.70,578.15 L684.21,578.13 L685.71,578.11 L687.22,578.09 L688.72,578.07 L690.23,578.06 L691.74,578.04 L693.24,578.03 L694.75,578.01 L696.25,578.00 L697.76,577.99 L699.27,577.98 L700.77,577.97 L702.28,577.96 L703.78,577.95 L705.29,577.95 L706.80,577.94 L708.30,577.94 L709.81,577.94 L711.32,577.94 L712.82,577.94 L714.33,577.94 L715.83,577.95 L717.34,577.95 L718.85,577.96 L720.35,577.97 L721.86,577.98 L723.37,577.99 L724.87,578.01 L726.38,578.02 L727.88,578.04 L729.39,578.06 L730.90,578.08 L732.40,578.10 L733.91,578.12 L735.42,578.14 L736.92,578.17 L738.43,578.19 L739.93,578.22 L741.44,578.24 L742.95,578.27 L744.45,578.30 L745.96,578.33 L747.47,578.35 L748.97,578.38 L750.48,578.41 L751.98,578.44 L753.49,578.47 L755.00,578.49 L756.50,578.52 L758.01,578.55 L759.52,578.58 L761.02,578.60 L762.53,578.63 L764.04,578.65 L765.54,578.68 L767.05,578.70 L768.56,578.72 L770.06,578.74 L771.57,578.76 L773.07,578.78 L774.58,578.80 L776.09,578.82 L777.59,578.83 L779.10,578.84 L780.61,578.86 L782.11,578.87 L783.62,578.87 L785.13,578.88 L786.63,578.88 L788.14,578.89 L789.65,578.89 L791.15,578.88 L792.66,578.88 L794.17,578.87 L795.67,578.86 L797.18,578.85 L798.69,578.83 L800.19,578.81 L801.70,578.79" fill="none" stroke="#1C6CC8" stroke-width="2.5" stroke-linejoin="round" stroke-linecap="butt" />
<path d="M131.00,623.79 L131.88,622.66 L132.75,621.49 L133.60,620.30 L134.43,619.07 L135.26,617.83 L136.08,616.56 L136.89,615.27 L137.70,613.98 L138.51,612.67 L139.32,611.35 L140.13,610.03 L140.96,608.71 L141.79,607.39 L142.63,606.08 L143.49,604.79 L144.37,603.51 L145.27,602.25 L146.19,601.02 L147.14,599.83 L148.12,598.67 L149.13,597.56 L150.17,596.50 L151.25,595.49 L152.36,594.54 L153.50,593.64 L154.67,592.79 L155.87,592.00 L157.11,591.28 L158.37,590.61 L159.66,590.00 L160.99,589.46 L162.34,588.99 L163.71,588.58 L165.12,588.24 L166.55,587.97 L168.00,587.76 L169.48,587.62 L170.97,587.52 L172.47,587.46 L173.99,587.43 L175.52,587.43 L177.05,587.44 L178.58,587.45 L180.11,587.47 L181.64,587.48 L183.16,587.48 L184.68,587.48 L186.20,587.48 L187.72,587.47 L189.24,587.46 L190.75,587.45 L192.26,587.43 L193.77,587.42 L195.28,587.40 L196.79,587.37 L198.29,587.35 L199.80,587.32 L201.30,587.30 L202.80,587.27 L204.30,587.24 L205.81,587.21 L207.31,587.18 L208.81,587.16 L210.30,587.13 L211.80,587.10 L213.30,587.07 L214.80,587.05 L216.30,587.03 L217.80,587.01 L219.30,586.99 L220.80,586.97 L222.30,586.96 L223.80,586.95 L225.30,586.94 L226.80,586.93 L228.31,586.93 L229.81,586.92 L231.31,586.92 L232.82,586.92 L234.32,586.92 L235.82,586.92 L237.33,586.92 L238.83,586.93 L240.34,586.93 L241.84,586.93 L243.35,586.94 L244.86,586.94 L246.36,586.94 L247.87,586.95 L249.37,586.95 L250.88,586.95 L252.39,586.96 L253.89,586.96 L255.40,586.96 L256.90,586.95 L258.41,586.95 L259.92,586.95 L261.42,586.94 L262.93,586.93 L264.44,586.92 L265.94,586.91 L267.45,586.90 L268.95,586.88 L270.46,586.86 L271.97,586.85 L273.47,586.83 L274.98,586.81 L276.48,586.78 L277.99,586.76 L279.49,586.74 L281.00,586.71 L282.50,586.69 L284.01,586.66 L285.51,586.63 L287.02,586.60 L288.53,586.57 L290.03,586.55 L291.54,586.52 L293.04,586.49 L294.55,586.46 L296.05,586.43 L297.56,586.40 L299.06,586.36 L300.57,586.33 L302.07,586.30 L303.57,586.27 L305.08,586.25 L306.58,586.22 L308.09,586.19 L309.59,586.16 L311.10,586.13 L312.60,586.11 L314.11,586.08 L315.61,586.06 L317.12,586.03 L318.62,586.01 L320.13,585.99 L321.63,585.97 L323.13,585.95 L324.64,585.93 L326.14,585.91 L327.65,585.90 L329.15,585.89 L330.66,585.88 L332.16,585.87 L333.66,585.86 L335.17,585.85 L336.67,585.85 L338.18,585.85 L339.68,585.85 L341.19,585.85 L342.69,585.86 L344.19,585.86 L345.70,585.87 L347.20,585.89 L348.71,585.90 L350.21,585.92 L351.72,585.94 L353.22,585.97 L354.72,585.99 L356.23,586.02 L357.73,586.06 L359.24,586.09 L360.74,586.13 L362.25,586.17 L363.75,586.22 L365.25,586.26 L366.76,586.31 L368.26,586.36 L369.77,586.41 L371.27,586.46 L372.78,586.51 L374.28,586.57 L375.78,586.62 L377.29,586.68 L378.79,586.73 L380.30,586.78 L381.80,586.84 L383.31,586.89 L384.81,586.95 L386.32,587.00 L387.82,587.05 L389.33,587.10 L390.83,587.15 L392.33,587.20 L393.84,587.25 L395.34,587.29 L396.85,587.33 L398.35,587.37 L399.86,587.41 L401.36,587.44 L402.87,587.48 L404.37,587.51 L405.88,587.53 L407.38,587.56 L408.89,587.58 L410.39,587.60 L411.90,587.62 L413.40,587.64 L414.91,587.65 L416.41,587.66 L417.92,587.68 L419.42,587.69 L420.93,587.70 L422.43,587.70 L423.94,587.71 L425.44,587.72 L426.95,587.72 L428.45,587.73 L429.96,587.73 L431.46,587.73 L432.97,587.73 L434.47,587.74 L435.98,587.74 L437.48,587.74 L438.99,587.74 L440.49,587.74 L442.00,587.75 L443.50,587.75 L445.01,587.75 L446.51,587.75 L448.02,587.75 L449.52,587.75 L451.03,587.75 L452.53,587.75 L454.04,587.75 L455.54,587.75 L457.05,587.75 L458.55,587.75 L460.06,587.75 L461.56,587.75 L463.07,587.75 L464.57,587.75 L466.08,587.75 L467.58,587.75 L469.09,587.75 L470.59,587.75 L472.10,587.75 L473.60,587.75 L475.11,587.75 L476.61,587.74 L478.12,587.74 L479.62,587.74 L481.13,587.74 L482.63,587.74 L484.14,587.74 L485.64,587.73 L487.15,587.73 L488.65,587.73 L490.16,587.73 L491.66,587.73 L493.17,587.72 L494.67,587.72 L496.18,587.72 L497.68,587.72 L499.19,587.71 L500.69,587.71 L502.20,587.71 L503.70,587.71 L505.21,587.70 L506.71,587.70 L508.22,587.70 L509.72,587.69 L511.23,587.69 L512.73,587.69 L514.24,587.68 L515.74,587.68 L517.25,587.68 L518.75,587.67 L520.26,587.67 L521.76,587.67 L523.27,587.66 L524.77,587.66 L526.28,587.65 L527.78,587.65 L529.29,587.65 L530.79,587.64 L532.30,587.64 L533.80,587.63 L535.31,587.63 L536.81,587.62 L538.32,587.62 L539.82,587.61 L541.33,587.61 L542.83,587.61 L544.34,587.60 L545.84,587.60 L547.35,587.59 L548.85,587.59 L550.36,587.58 L551.86,587.58 L553.37,587.57 L554.87,587.57 L556.38,587.56 L557.88,587.56 L559.39,587.55 L560.89,587.55 L562.40,587.54 L563.90,587.54 L565.41,587.53 L566.91,587.53 L568.42,587.52 L569.92,587.52 L571.43,587.51 L572.93,587.50 L574.44,587.50 L575.94,587.49 L577.45,587.49 L578.95,587.48 L580.46,587.48 L581.96,587.47 L583.47,587.47 L584.97,587.46 L586.48,587.45 L587.98,587.45 L589.49,587.44 L590.99,587.44 L592.50,587.43 L594.00,587.43 L595.51,587.42 L597.01,587.41 L598.52,587.41 L600.02,587.40 L601.53,587.40 L603.03,587.39 L604.54,587.39 L606.04,587.38 L607.55,587.37 L609.05,587.37 L610.56,587.36 L612.06,587.36 L613.57,587.35 L615.07,587.34 L616.58,587.34 L618.08,587.33 L619.59,587.33 L621.09,587.32 L622.60,587.32 L624.10,587.31 L625.61,587.30 L627.11,587.30 L628.62,587.29 L630.12,587.29 L631.63,587.28 L633.13,587.28 L634.64,587.27 L636.14,587.26 L637.65,587.26 L639.15,587.25 L640.66,587.25 L642.16,587.24 L643.67,587.24 L645.17,587.23 L646.68,587.23 L648.19,587.22 L649.69,587.21 L651.20,587.21 L652.70,587.20 L654.21,587.20 L655.71,587.19 L657.22,587.19 L658.72,587.18 L660.23,587.18 L661.73,587.17 L663.24,587.17 L664.74,587.16 L666.25,587.16 L667.75,587.15 L669.26,587.15 L670.76,587.14 L672.27,587.14 L673.77,587.13 L675.28,587.13 L676.78,587.12 L678.29,587.12 L679.79,587.11 L681.30,587.11 L682.80,587.10 L684.31,587.10 L685.81,587.09 L687.32,587.09 L688.82,587.09 L690.33,587.08 L691.83,587.08 L693.34,587.07 L694.84,587.07 L696.35,587.06 L697.85,587.06 L699.36,587.06 L700.86,587.05 L702.37,587.05 L703.87,587.05 L705.38,587.04 L706.88,587.04 L708.39,587.03 L709.89,587.03 L711.40,587.03 L712.90,587.02 L714.41,587.02 L715.91,587.02 L717.42,587.02 L718.92,587.01 L720.43,587.01 L721.93,587.01 L723.44,587.00 L724.94,587.00 L726.45,587.00 L727.95,587.00 L729.46,586.99 L730.96,586.99 L732.47,586.99 L733.97,586.99 L735.48,586.98 L736.98,586.98 L738.49,586.98 L739.99,586.98 L741.50,586.98 L743.00,586.98 L744.51,586.97 L746.01,586.97 L747.52,586.97 L749.02,586.97 L750.53,586.97 L752.03,586.97 L753.54,586.97 L755.04,586.97 L756.55,586.97 L758.05,586.97 L759.56,586.97 L761.06,586.97 L762.57,586.97 L764.07,586.97 L765.58,586.97 L767.08,586.97 L768.59,586.97 L770.09,586.97 L771.60,586.97 L773.10,586.97 L774.61,586.97 L776.11,586.97 L777.62,586.97 L779.12,586.97 L780.63,586.97 L782.13,586.97 L783.64,586.97 L785.14,586.98 L786.65,586.98 L788.15,586.98 L789.66,586.98 L791.16,586.98 L792.67,586.99 L794.17,586.99 L795.68,586.99 L797.18,586.99 L798.69,587.00 L800.19,587.00 L801.70,587.00" fill="none" stroke="#FC7B2B" stroke-width="2.5" stroke-linejoin="round" stroke-linecap="butt" />
<path d="M131.00,660.20 L131.78,658.91 L132.54,657.62 L133.30,656.33 L134.04,655.02 L134.76,653.71 L135.48,652.39 L136.18,651.07 L136.88,649.75 L137.57,648.41 L138.25,647.07 L138.92,645.73 L139.59,644.38 L140.26,643.03 L140.92,641.67 L141.58,640.31 L142.24,638.95 L142.91,637.58 L143.57,636.21 L144.23,634.84 L144.91,633.47 L145.59,632.10 L146.28,630.75 L146.98,629.40 L147.69,628.06 L148.42,626.73 L149.17,625.41 L149.93,624.11 L150.72,622.83 L151.53,621.57 L152.37,620.33 L153.23,619.12 L154.12,617.93 L155.05,616.77 L156.00,615.64 L156.99,614.54 L158.02,613.47 L159.07,612.43 L160.15,611.42 L161.26,610.44 L162.40,609.48 L163.56,608.55 L164.75,607.64 L165.96,606.76 L167.19,605.90 L168.44,605.06 L169.70,604.25 L170.98,603.45 L172.28,602.67 L173.58,601.91 L174.90,601.17 L176.23,600.44 L177.57,599.73 L178.91,599.03 L180.26,598.35 L181.62,597.68 L182.98,597.02 L184.34,596.38 L185.71,595.74 L187.08,595.12 L188.46,594.51 L189.84,593.92 L191.23,593.33 L192.62,592.76 L194.01,592.19 L195.41,591.64 L196.81,591.10 L198.22,590.57 L199.63,590.05 L201.04,589.54 L202.45,589.04 L203.87,588.55 L205.30,588.07 L206.72,587.59 L208.15,587.13 L209.59,586.68 L211.02,586.23 L212.46,585.79 L213.90,585.37 L215.34,584.94 L216.79,584.53 L218.24,584.13 L219.69,583.73 L221.14,583.34 L222.59,582.96 L224.05,582.58 L225.51,582.21 L226.97,581.85 L228.43,581.49 L229.90,581.14 L231.36,580.79 L232.83,580.45 L234.30,580.12 L235.77,579.79 L237.24,579.46 L238.71,579.15 L240.18,578.83 L241.66,578.52 L243.13,578.21 L244.61,577.91 L246.08,577.61 L247.56,577.32 L249.04,577.03 L250.51,576.74 L251.99,576.45 L253.47,576.17 L254.94,575.89 L256.42,575.61 L257.90,575.34 L259.38,575.07 L260.86,574.80 L262.34,574.54 L263.82,574.28 L265.30,574.02 L266.78,573.77 L268.26,573.52 L269.74,573.27 L271.23,573.03 L272.71,572.79 L274.19,572.55 L275.68,572.32 L277.16,572.09 L278.65,571.87 L280.13,571.64 L281.62,571.43 L283.11,571.21 L284.60,571.00 L286.08,570.79 L287.57,570.59 L289.06,570.39 L290.56,570.20 L292.05,570.00 L293.54,569.82 L295.04,569.63 L296.53,569.45 L298.03,569.28 L299.52,569.10 L301.02,568.93 L302.52,568.77 L304.01,568.61 L305.51,568.45 L307.01,568.29 L308.51,568.14 L310.01,567.99 L311.51,567.84 L313.01,567.70 L314.51,567.56 L316.01,567.42 L317.51,567.29 L319.01,567.16 L320.51,567.03 L322.02,566.90 L323.52,566.78 L325.02,566.66 L326.52,566.54 L328.02,566.42 L329.52,566.31 L331.02,566.20 L332.52,566.09 L334.03,565.98 L335.53,565.88 L337.03,565.77 L338.52,565.67 L340.02,565.58 L341.52,565.48 L343.02,565.39 L344.52,565.30 L346.02,565.21 L347.52,565.13 L349.02,565.05 L350.52,564.97 L352.01,564.90 L353.51,564.83 L355.01,564.77 L356.51,564.71 L358.01,564.66 L359.51,564.62 L361.02,564.58 L362.52,564.55 L364.02,564.52 L365.53,564.50 L367.03,564.49 L368.53,564.48 L370.04,564.47 L371.55,564.47 L373.05,564.47 L374.56,564.47 L376.07,564.47 L377.57,564.46 L379.08,564.46 L380.59,564.45 L382.09,564.44 L383.60,564.42 L385.10,564.39 L386.61,564.37 L388.11,564.33 L389.62,564.30 L391.12,564.26 L392.63,564.22 L394.13,564.17 L395.64,564.13 L397.14,564.08 L398.64,564.03 L400.15,563.97 L401.65,563.92 L403.16,563.87 L404.66,563.81 L406.16,563.76 L407.67,563.71 L409.17,563.66 L410.67,563.60 L412.18,563.55 L413.68,563.51 L415.19,563.46 L416.69,563.42 L418.19,563.37 L419.70,563.34 L421.20,563.30 L422.71,563.27 L424.21,563.24 L425.72,563.22 L427.22,563.20 L428.73,563.19 L430.23,563.18 L431.74,563.17 L433.24,563.17 L434.75,563.16 L436.25,563.15 L437.76,563.14 L439.27,563.13 L440.77,563.11 L442.28,563.09 L443.78,563.07 L445.29,563.03 L446.79,562.99 L448.29,562.94 L449.80,562.88 L451.30,562.81 L452.80,562.73 L454.31,562.63 L455.81,562.53 L457.31,562.41 L458.81,562.28 L460.31,562.14 L461.81,562.00 L463.31,561.86 L464.81,561.71 L466.31,561.56 L467.80,561.42 L469.30,561.27 L470.80,561.14 L472.29,561.01 L473.79,560.89 L475.28,560.77 L476.78,560.67 L478.27,560.57 L479.77,560.49 L481.26,560.42 L482.76,560.36 L484.25,560.32 L485.75,560.30 L487.24,560.29 L488.74,560.29 L490.24,560.31 L491.73,560.35 L493.23,560.39 L494.73,560.44 L496.23,560.49 L497.73,560.55 L499.23,560.60 L500.73,560.66 L502.23,560.72 L503.73,560.78 L505.24,560.85 L506.74,560.91 L508.24,560.97 L509.75,561.03 L511.25,561.09 L512.75,561.14 L514.26,561.20 L515.76,561.25 L517.27,561.30 L518.77,561.35 L520.27,561.40 L521.78,561.44 L523.28,561.49 L524.79,561.53 L526.29,561.57 L527.80,561.60 L529.30,561.64 L530.80,561.67 L532.31,561.71 L533.81,561.74 L535.32,561.76 L536.82,561.79 L538.33,561.82 L539.83,561.84 L541.34,561.86 L542.84,561.89 L544.35,561.90 L545.85,561.92 L547.35,561.94 L548.86,561.96 L550.36,561.97 L551.87,561.98 L553.37,562.00 L554.88,562.01 L556.38,562.02 L557.89,562.02 L559.39,562.03 L560.90,562.04 L562.40,562.05 L563.91,562.05 L565.41,562.05 L566.92,562.06 L568.42,562.06 L569.93,562.06 L571.43,562.06 L572.94,562.06 L574.44,562.06 L575.95,562.06 L577.45,562.06 L578.96,562.06 L580.46,562.06 L581.97,562.05 L583.47,562.05 L584.98,562.05 L586.48,562.05 L587.99,562.04 L589.49,562.04 L591.00,562.03 L592.51,562.03 L594.01,562.02 L595.52,562.02 L597.02,562.01 L598.53,562.01 L600.03,562.01 L601.54,562.00 L603.04,562.00 L604.55,561.99 L606.05,561.99 L607.56,561.98 L609.06,561.98 L610.57,561.98 L612.07,561.98 L613.58,561.97 L615.08,561.97 L616.59,561.97 L618.09,561.97 L619.60,561.97 L621.10,561.96 L622.61,561.96 L624.11,561.96 L625.62,561.96 L627.12,561.96 L628.63,561.96 L630.13,561.96 L631.64,561.96 L633.14,561.96 L634.65,561.96 L636.15,561.97 L637.66,561.97 L639.16,561.97 L640.67,561.97 L642.17,561.97 L643.68,561.97 L645.18,561.98 L646.69,561.98 L648.19,561.98 L649.70,561.99 L651.20,561.99 L652.71,561.99 L654.21,561.99 L655.72,562.00 L657.22,562.00 L658.73,562.01 L660.23,562.01 L661.74,562.01 L663.24,562.02 L664.75,562.02 L666.25,562.03 L667.76,562.03 L669.26,562.04 L670.77,562.04 L672.27,562.05 L673.78,562.05 L675.28,562.06 L676.79,562.06 L678.29,562.07 L679.80,562.07 L681.30,562.08 L682.81,562.08 L684.31,562.09 L685.82,562.10 L687.32,562.10 L688.83,562.11 L690.33,562.11 L691.84,562.12 L693.34,562.13 L694.85,562.13 L696.35,562.14 L697.86,562.14 L699.36,562.15 L700.87,562.16 L702.37,562.16 L703.88,562.17 L705.38,562.17 L706.89,562.18 L708.39,562.19 L709.90,562.19 L711.40,562.20 L712.91,562.21 L714.41,562.21 L715.92,562.22 L717.42,562.22 L718.93,562.23 L720.43,562.24 L721.94,562.24 L723.44,562.25 L724.95,562.25 L726.45,562.26 L727.96,562.27 L729.46,562.27 L730.96,562.28 L732.47,562.28 L733.97,562.29 L735.48,562.30 L736.98,562.30 L738.49,562.31 L739.99,562.31 L741.50,562.32 L743.00,562.32 L744.51,562.33 L746.01,562.33 L747.52,562.34 L749.02,562.34 L750.53,562.35 L752.03,562.35 L753.54,562.35 L755.04,562.36 L756.55,562.36 L758.05,562.37 L759.56,562.37 L761.06,562.37 L762.57,562.38 L764.07,562.38 L765.58,562.38 L767.08,562.39 L768.59,562.39 L770.09,562.39 L771.60,562.39 L773.10,562.39 L774.61,562.40 L776.11,562.40 L777.62,562.40 L779.12,562.40 L780.63,562.40 L782.13,562.40 L783.64,562.40 L785.14,562.40 L786.65,562.40 L788.15,562.40 L789.66,562.40 L791.16,562.40 L792.67,562.40 L794.17,562.40 L795.68,562.40 L797.18,562.40 L798.69,562.40 L800.20,562.40 L801.70,562.39" fill="none" stroke="#3DA936" stroke-width="2.5" stroke-linejoin="round" stroke-linecap="butt" />
<line x1="129.5" y1="566" x2="385.6" y2="633.6" stroke="#5f5f5f" stroke-width="1.8" stroke-dasharray="7.2,5"/>
<line x1="234.8" y1="563.7" x2="797.8" y2="633.3" stroke="#5f5f5f" stroke-width="1.8" stroke-dasharray="7.2,5"/>
<line x1="129.5" y1="755.2" x2="385.6" y2="885.0" stroke="#5f5f5f" stroke-width="1.8" stroke-dasharray="7.2,5"/>
<rect x="130.2" y="563.7" width="104.6" height="190.9" fill="none" stroke="#000" stroke-width="2.2"/>
<rect x="385.6" y="633.3" width="412.4" height="251.2" fill="#fff" stroke="#000" stroke-width="1.3"/>
<line x1="457.7" y1="644.8" x2="457.7" y2="826.8" stroke="#000" stroke-width="2" />
<line x1="456.7" y1="825.8" x2="778.1" y2="825.8" stroke="#000" stroke-width="2" />
<text x="399.49" y="650.60" font-family='"Liberation Sans", sans-serif' font-size="18.6" font-weight="normal" stroke="#000" stroke-width="0.8" stroke-linejoin="round" font-style="normal" fill="#000" textLength="37.74" lengthAdjust="spacingAndGlyphs" >0.07</text>
<text x="399.49" y="695.70" font-family='"Liberation Sans", sans-serif' font-size="18.6" font-weight="normal" stroke="#000" stroke-width="0.8" stroke-linejoin="round" font-style="normal" fill="#000" textLength="37.63" lengthAdjust="spacingAndGlyphs" >0.06</text>
<text x="399.49" y="740.80" font-family='"Liberation Sans", sans-serif' font-size="18.6" font-weight="normal" stroke="#000" stroke-width="0.8" stroke-linejoin="round" font-style="normal" fill="#000" textLength="37.63" lengthAdjust="spacingAndGlyphs" >0.05</text>
<text x="399.49" y="785.90" font-family='"Liberation Sans", sans-serif' font-size="18.6" font-weight="normal" stroke="#000" stroke-width="0.8" stroke-linejoin="round" font-style="normal" fill="#000" textLength="37.42" lengthAdjust="spacingAndGlyphs" >0.04</text>
<text x="399.49" y="831.00" font-family='"Liberation Sans", sans-serif' font-size="18.6" font-weight="normal" stroke="#000" stroke-width="0.8" stroke-linejoin="round" font-style="normal" fill="#000" textLength="37.63" lengthAdjust="spacingAndGlyphs" >0.03</text>
<text x="452.29" y="860.30" font-family='"Liberation Sans", sans-serif' font-size="18.6" font-weight="normal" stroke="#000" stroke-width="0.8" stroke-linejoin="round" font-style="normal" fill="#000" textLength="10.46" lengthAdjust="spacingAndGlyphs" >1</text>
<text x="532.58" y="860.30" font-family='"Liberation Sans", sans-serif' font-size="18.6" font-weight="normal" stroke="#000" stroke-width="0.8" stroke-linejoin="round" font-style="normal" fill="#000" textLength="10.99" lengthAdjust="spacingAndGlyphs" >3</text>
<text x="612.88" y="860.30" font-family='"Liberation Sans", sans-serif' font-size="18.6" font-weight="normal" stroke="#000" stroke-width="0.8" stroke-linejoin="round" font-style="normal" fill="#000" textLength="10.88" lengthAdjust="spacingAndGlyphs" >5</text>
<text x="692.83" y="860.30" font-family='"Liberation Sans", sans-serif' font-size="18.6" font-weight="normal" stroke="#000" stroke-width="0.8" stroke-linejoin="round" font-style="normal" fill="#000" textLength="11.47" lengthAdjust="spacingAndGlyphs" >7</text>
<text x="773.26" y="860.30" font-family='"Liberation Sans", sans-serif' font-size="18.6" font-weight="normal" stroke="#000" stroke-width="0.8" stroke-linejoin="round" font-style="normal" fill="#000" textLength="11.23" lengthAdjust="spacingAndGlyphs" >9</text>
<path d="M457.70,765.99 L459.02,765.28 L460.33,764.55 L461.64,763.81 L462.94,763.06 L464.24,762.30 L465.53,761.52 L466.82,760.74 L468.10,759.95 L469.38,759.16 L470.65,758.35 L471.92,757.54 L473.19,756.71 L474.45,755.89 L475.71,755.05 L476.97,754.21 L478.23,753.37 L479.48,752.52 L480.73,751.66 L481.98,750.80 L483.23,749.94 L484.47,749.07 L485.72,748.21 L486.97,747.34 L488.21,746.46 L489.46,745.59 L490.70,744.72 L491.95,743.85 L493.19,742.97 L494.44,742.10 L495.69,741.23 L496.94,740.36 L498.19,739.49 L499.44,738.63 L500.69,737.76 L501.95,736.90 L503.21,736.05 L504.47,735.20 L505.73,734.35 L507.00,733.51 L508.27,732.68 L509.54,731.85 L510.82,731.03 L512.10,730.22 L513.38,729.41 L514.67,728.61 L515.96,727.82 L517.25,727.04 L518.56,726.27 L519.86,725.51 L521.17,724.76 L522.49,724.02 L523.81,723.29 L525.14,722.57 L526.47,721.87 L527.81,721.17 L529.15,720.49 L530.50,719.82 L531.85,719.17 L533.21,718.52 L534.58,717.89 L535.95,717.27 L537.32,716.66 L538.70,716.06 L540.09,715.48 L541.48,714.91 L542.87,714.35 L544.27,713.81 L545.68,713.27 L547.08,712.76 L548.50,712.25 L549.91,711.76 L551.34,711.28 L552.76,710.81 L554.19,710.36 L555.63,709.92 L557.07,709.49 L558.51,709.07 L559.95,708.68 L561.40,708.29 L562.86,707.92 L564.32,707.56 L565.78,707.21 L567.24,706.88 L568.71,706.56 L570.18,706.26 L571.66,705.97 L573.14,705.69 L574.62,705.42 L576.10,705.16 L577.59,704.91 L579.08,704.67 L580.57,704.45 L582.07,704.23 L583.56,704.02 L585.06,703.82 L586.56,703.63 L588.06,703.45 L589.57,703.28 L591.07,703.11 L592.58,702.95 L594.09,702.79 L595.60,702.64 L597.11,702.50 L598.62,702.36 L600.13,702.22 L601.65,702.09 L603.16,701.97 L604.67,701.85 L606.19,701.73 L607.70,701.61 L609.22,701.49 L610.73,701.38 L612.25,701.27 L613.76,701.16 L615.27,701.05 L616.79,700.94 L618.30,700.84 L619.81,700.73 L621.33,700.63 L622.84,700.53 L624.35,700.43 L625.87,700.33 L627.38,700.23 L628.89,700.14 L630.40,700.04 L631.92,699.95 L633.43,699.85 L634.94,699.76 L636.45,699.67 L637.96,699.58 L639.48,699.50 L640.99,699.41 L642.50,699.33 L644.01,699.24 L645.52,699.16 L647.03,699.08 L648.54,699.00 L650.05,698.92 L651.56,698.84 L653.08,698.77 L654.59,698.69 L656.10,698.62 L657.61,698.54 L659.12,698.47 L660.63,698.40 L662.14,698.33 L663.65,698.26 L665.16,698.19 L666.67,698.13 L668.18,698.06 L669.69,698.00 L671.20,697.93 L672.71,697.87 L674.22,697.81 L675.73,697.75 L677.24,697.69 L678.75,697.63 L680.26,697.57 L681.77,697.52 L683.28,697.46 L684.79,697.41 L686.30,697.35 L687.81,697.30 L689.31,697.25 L690.82,697.19 L692.33,697.14 L693.84,697.09 L695.35,697.05 L696.86,697.00 L698.37,696.95 L699.88,696.90 L701.39,696.86 L702.90,696.81 L704.41,696.77 L705.92,696.73 L707.43,696.68 L708.94,696.64 L710.45,696.60 L711.96,696.56 L713.47,696.52 L714.98,696.48 L716.49,696.44 L718.00,696.41 L719.51,696.37 L721.02,696.33 L722.53,696.30 L724.04,696.26 L725.55,696.23 L727.06,696.19 L728.57,696.16 L730.08,696.13 L731.59,696.09 L733.10,696.06 L734.62,696.03 L736.13,696.00 L737.64,695.97 L739.15,695.94 L740.66,695.91 L742.17,695.88 L743.68,695.86 L745.19,695.83 L746.71,695.80 L748.22,695.77 L749.73,695.75 L751.24,695.72 L752.75,695.70 L754.27,695.67 L755.78,695.65 L757.29,695.62 L758.81,695.60 L760.32,695.58 L761.83,695.55 L763.34,695.53 L764.86,695.51 L766.37,695.48 L767.89,695.46 L769.40,695.44 L770.91,695.42 L772.43,695.40 L773.94,695.38 L775.46,695.36 L776.97,695.34 L778.49,695.32 L780.00,695.30" fill="none" stroke="#BA4A12" stroke-width="2.2" stroke-linejoin="round" stroke-linecap="butt" />
<path d="M457.70,679.51 L459.20,679.31 L460.69,679.10 L462.18,678.89 L463.68,678.68 L465.17,678.47 L466.67,678.25 L468.16,678.03 L469.66,677.81 L471.15,677.59 L472.64,677.37 L474.14,677.15 L475.63,676.93 L477.13,676.70 L478.62,676.48 L480.11,676.25 L481.61,676.03 L483.10,675.80 L484.60,675.58 L486.09,675.35 L487.59,675.13 L489.08,674.90 L490.58,674.68 L492.07,674.46 L493.57,674.24 L495.06,674.02 L496.56,673.80 L498.06,673.59 L499.55,673.37 L501.05,673.16 L502.54,672.95 L504.04,672.74 L505.54,672.53 L507.03,672.33 L508.53,672.13 L510.03,671.93 L511.53,671.73 L513.02,671.54 L514.52,671.35 L516.02,671.16 L517.52,670.98 L519.02,670.80 L520.52,670.63 L522.02,670.45 L523.52,670.28 L525.02,670.12 L526.52,669.96 L528.02,669.80 L529.52,669.65 L531.02,669.50 L532.52,669.35 L534.02,669.22 L535.53,669.08 L537.03,668.95 L538.53,668.82 L540.03,668.70 L541.54,668.59 L543.04,668.47 L544.55,668.37 L546.05,668.26 L547.55,668.16 L549.06,668.06 L550.56,667.97 L552.07,667.88 L553.58,667.79 L555.08,667.71 L556.59,667.63 L558.09,667.56 L559.60,667.49 L561.11,667.42 L562.61,667.35 L564.12,667.29 L565.63,667.23 L567.14,667.17 L568.64,667.12 L570.15,667.06 L571.66,667.01 L573.17,666.97 L574.68,666.92 L576.18,666.88 L577.69,666.84 L579.20,666.80 L580.71,666.76 L582.22,666.73 L583.73,666.70 L585.24,666.67 L586.75,666.64 L588.26,666.61 L589.77,666.58 L591.28,666.56 L592.79,666.54 L594.30,666.51 L595.81,666.49 L597.32,666.47 L598.83,666.45 L600.34,666.44 L601.85,666.42 L603.36,666.40 L604.87,666.39 L606.38,666.37 L607.89,666.35 L609.40,666.34 L610.91,666.32 L612.42,666.31 L613.93,666.30 L615.44,666.28 L616.95,666.27 L618.46,666.25 L619.97,666.24 L621.48,666.23 L622.99,666.21 L624.50,666.20 L626.01,666.19 L627.52,666.18 L629.03,666.16 L630.54,666.15 L632.05,666.14 L633.56,666.13 L635.07,666.11 L636.58,666.10 L638.09,666.09 L639.60,666.08 L641.11,666.06 L642.62,666.05 L644.13,666.04 L645.64,666.03 L647.15,666.02 L648.66,666.00 L650.17,665.99 L651.68,665.98 L653.19,665.97 L654.70,665.95 L656.21,665.94 L657.72,665.93 L659.23,665.92 L660.74,665.90 L662.25,665.89 L663.76,665.88 L665.27,665.86 L666.78,665.85 L668.29,665.84 L669.80,665.82 L671.31,665.81 L672.82,665.79 L674.33,665.78 L675.84,665.76 L677.35,665.75 L678.86,665.73 L680.37,665.72 L681.88,665.70 L683.39,665.69 L684.90,665.67 L686.41,665.65 L687.92,665.64 L689.43,665.62 L690.94,665.60 L692.45,665.58 L693.96,665.56 L695.47,665.54 L696.98,665.52 L698.49,665.50 L700.00,665.48 L701.51,665.46 L703.02,665.44 L704.53,665.42 L706.04,665.40 L707.55,665.37 L709.06,665.35 L710.57,665.33 L712.08,665.30 L713.59,665.28 L715.10,665.25 L716.61,665.23 L718.11,665.20 L719.62,665.17 L721.13,665.15 L722.64,665.12 L724.15,665.09 L725.66,665.06 L727.17,665.03 L728.68,665.00 L730.19,664.97 L731.70,664.93 L733.21,664.90 L734.72,664.87 L736.23,664.83 L737.74,664.80 L739.25,664.76 L740.76,664.73 L742.27,664.69 L743.78,664.65 L745.29,664.61 L746.80,664.57 L748.31,664.53 L749.82,664.49 L751.32,664.45 L752.83,664.41 L754.34,664.36 L755.85,664.32 L757.36,664.27 L758.87,664.23 L760.38,664.18 L761.89,664.13 L763.40,664.08 L764.91,664.03 L766.42,663.98 L767.93,663.93 L769.44,663.87 L770.94,663.82 L772.45,663.77 L773.96,663.71 L775.47,663.65 L776.98,663.59 L778.49,663.54 L780.00,663.48" fill="none" stroke="#1C6CC8" stroke-width="2.2" stroke-linejoin="round" stroke-linecap="butt" />
<path d="M457.71,699.61 L459.10,699.07 L460.49,698.52 L461.88,697.96 L463.27,697.39 L464.66,696.82 L466.05,696.23 L467.44,695.65 L468.82,695.05 L470.21,694.46 L471.60,693.85 L472.98,693.25 L474.37,692.63 L475.76,692.02 L477.14,691.40 L478.53,690.79 L479.92,690.16 L481.31,689.54 L482.69,688.92 L484.08,688.30 L485.47,687.68 L486.86,687.06 L488.26,686.44 L489.65,685.82 L491.04,685.20 L492.44,684.59 L493.84,683.98 L495.23,683.38 L496.64,682.78 L498.04,682.18 L499.44,681.60 L500.85,681.01 L502.26,680.44 L503.67,679.87 L505.08,679.30 L506.50,678.75 L507.91,678.20 L509.33,677.66 L510.76,677.13 L512.18,676.61 L513.61,676.10 L515.04,675.60 L516.47,675.10 L517.90,674.62 L519.34,674.15 L520.78,673.68 L522.22,673.23 L523.66,672.79 L525.11,672.36 L526.56,671.94 L528.01,671.53 L529.46,671.13 L530.91,670.75 L532.37,670.38 L533.83,670.02 L535.29,669.67 L536.76,669.34 L538.22,669.02 L539.69,668.71 L541.17,668.42 L542.64,668.14 L544.12,667.88 L545.59,667.63 L547.07,667.39 L548.56,667.16 L550.04,666.95 L551.53,666.75 L553.02,666.56 L554.51,666.38 L556.00,666.21 L557.49,666.06 L558.99,665.91 L560.49,665.77 L561.98,665.65 L563.49,665.53 L564.99,665.42 L566.49,665.33 L568.00,665.24 L569.50,665.15 L571.01,665.08 L572.52,665.01 L574.03,664.95 L575.54,664.90 L577.05,664.86 L578.56,664.82 L580.08,664.78 L581.59,664.76 L583.11,664.73 L584.62,664.72 L586.14,664.70 L587.66,664.70 L589.17,664.69 L590.69,664.69 L592.21,664.69 L593.73,664.70 L595.25,664.71 L596.77,664.72 L598.29,664.74 L599.81,664.75 L601.33,664.77 L602.85,664.79 L604.37,664.81 L605.90,664.83 L607.42,664.85 L608.94,664.87 L610.46,664.89 L611.98,664.91 L613.50,664.93 L615.02,664.95 L616.54,664.97 L618.05,664.98 L619.57,665.00 L621.09,665.01 L622.61,665.03 L624.13,665.04 L625.65,665.05 L627.16,665.06 L628.68,665.07 L630.20,665.08 L631.71,665.09 L633.23,665.10 L634.75,665.10 L636.26,665.11 L637.78,665.11 L639.29,665.12 L640.81,665.12 L642.32,665.13 L643.84,665.13 L645.35,665.13 L646.87,665.13 L648.38,665.13 L649.89,665.13 L651.41,665.13 L652.92,665.13 L654.43,665.13 L655.95,665.13 L657.46,665.12 L658.97,665.12 L660.49,665.12 L662.00,665.11 L663.51,665.11 L665.02,665.10 L666.54,665.10 L668.05,665.09 L669.56,665.08 L671.07,665.08 L672.58,665.07 L674.10,665.06 L675.61,665.05 L677.12,665.04 L678.63,665.04 L680.14,665.03 L681.65,665.02 L683.16,665.01 L684.68,665.00 L686.19,664.99 L687.70,664.98 L689.21,664.97 L690.72,664.95 L692.23,664.94 L693.74,664.93 L695.25,664.92 L696.76,664.91 L698.28,664.90 L699.79,664.89 L701.30,664.87 L702.81,664.86 L704.32,664.85 L705.83,664.84 L707.34,664.83 L708.85,664.81 L710.36,664.80 L711.87,664.79 L713.39,664.78 L714.90,664.77 L716.41,664.75 L717.92,664.74 L719.43,664.73 L720.94,664.72 L722.45,664.71 L723.97,664.69 L725.48,664.68 L726.99,664.67 L728.50,664.66 L730.01,664.65 L731.52,664.64 L733.04,664.63 L734.55,664.62 L736.06,664.61 L737.57,664.60 L739.09,664.59 L740.60,664.58 L742.11,664.57 L743.63,664.57 L745.14,664.56 L746.65,664.55 L748.17,664.54 L749.68,664.54 L751.20,664.53 L752.71,664.52 L754.22,664.52 L755.74,664.51 L757.25,664.51 L758.77,664.50 L760.28,664.50 L761.80,664.50 L763.32,664.49 L764.83,664.49 L766.35,664.49 L767.86,664.49 L769.38,664.49 L770.90,664.49 L772.41,664.49 L773.93,664.49 L775.45,664.50 L776.97,664.50 L778.49,664.50 L780.00,664.51" fill="none" stroke="#FC7B2B" stroke-width="2.2" stroke-linejoin="round" stroke-linecap="butt" />
<path d="M457.70,733.00 L459.03,732.29 L460.35,731.57 L461.67,730.84 L462.98,730.11 L464.30,729.37 L465.61,728.63 L466.92,727.88 L468.23,727.13 L469.53,726.37 L470.84,725.61 L472.14,724.85 L473.44,724.08 L474.74,723.31 L476.04,722.54 L477.34,721.77 L478.64,720.99 L479.93,720.22 L481.23,719.44 L482.53,718.66 L483.83,717.89 L485.12,717.11 L486.42,716.33 L487.72,715.55 L489.02,714.78 L490.32,714.00 L491.62,713.23 L492.92,712.46 L494.22,711.69 L495.53,710.93 L496.83,710.17 L498.14,709.41 L499.45,708.65 L500.77,707.90 L502.08,707.15 L503.39,706.41 L504.71,705.67 L506.03,704.94 L507.36,704.21 L508.68,703.49 L510.01,702.77 L511.34,702.06 L512.67,701.35 L514.01,700.65 L515.35,699.96 L516.69,699.28 L518.04,698.60 L519.39,697.93 L520.74,697.27 L522.10,696.61 L523.46,695.96 L524.82,695.33 L526.19,694.70 L527.56,694.08 L528.94,693.47 L530.32,692.87 L531.70,692.28 L533.09,691.69 L534.48,691.12 L535.88,690.56 L537.28,690.01 L538.68,689.46 L540.09,688.92 L541.50,688.40 L542.91,687.88 L544.33,687.37 L545.75,686.86 L547.17,686.37 L548.60,685.89 L550.03,685.41 L551.46,684.94 L552.90,684.48 L554.33,684.02 L555.77,683.58 L557.22,683.14 L558.66,682.71 L560.11,682.28 L561.56,681.86 L563.02,681.45 L564.47,681.05 L565.93,680.65 L567.39,680.26 L568.85,679.88 L570.31,679.50 L571.78,679.13 L573.24,678.77 L574.71,678.41 L576.18,678.06 L577.65,677.71 L579.12,677.37 L580.60,677.03 L582.07,676.70 L583.55,676.38 L585.03,676.06 L586.51,675.75 L587.99,675.44 L589.47,675.13 L590.95,674.83 L592.43,674.54 L593.92,674.25 L595.40,673.97 L596.89,673.69 L598.37,673.41 L599.86,673.14 L601.35,672.88 L602.84,672.61 L604.32,672.36 L605.81,672.10 L607.30,671.85 L608.79,671.60 L610.29,671.36 L611.78,671.12 L613.27,670.88 L614.76,670.65 L616.25,670.42 L617.75,670.20 L619.24,669.97 L620.73,669.75 L622.23,669.54 L623.72,669.32 L625.21,669.11 L626.71,668.91 L628.20,668.70 L629.70,668.50 L631.19,668.30 L632.69,668.10 L634.18,667.91 L635.68,667.71 L637.18,667.53 L638.67,667.34 L640.17,667.15 L641.67,666.97 L643.17,666.79 L644.66,666.61 L646.16,666.43 L647.66,666.25 L649.16,666.08 L650.66,665.91 L652.16,665.74 L653.65,665.57 L655.15,665.40 L656.65,665.24 L658.15,665.07 L659.65,664.91 L661.15,664.74 L662.65,664.58 L664.15,664.42 L665.65,664.26 L667.15,664.11 L668.66,663.95 L670.16,663.79 L671.66,663.63 L673.16,663.48 L674.66,663.32 L676.16,663.17 L677.66,663.02 L679.16,662.86 L680.66,662.71 L682.17,662.56 L683.67,662.40 L685.17,662.25 L686.67,662.10 L688.17,661.95 L689.67,661.79 L691.18,661.64 L692.68,661.49 L694.18,661.35 L695.68,661.20 L697.18,661.05 L698.69,660.90 L700.19,660.76 L701.69,660.61 L703.19,660.47 L704.70,660.33 L706.20,660.19 L707.70,660.05 L709.21,659.91 L710.71,659.77 L712.21,659.63 L713.72,659.50 L715.22,659.36 L716.72,659.23 L718.23,659.10 L719.73,658.97 L721.23,658.84 L722.74,658.72 L724.24,658.59 L725.75,658.47 L727.25,658.34 L728.75,658.22 L730.26,658.10 L731.76,657.99 L733.27,657.87 L734.77,657.76 L736.28,657.65 L737.78,657.54 L739.29,657.43 L740.80,657.32 L742.30,657.22 L743.81,657.11 L745.31,657.01 L746.82,656.91 L748.33,656.82 L749.83,656.72 L751.34,656.63 L752.85,656.54 L754.35,656.45 L755.86,656.36 L757.37,656.28 L758.88,656.20 L760.38,656.12 L761.89,656.04 L763.40,655.97 L764.91,655.89 L766.42,655.82 L767.92,655.76 L769.43,655.69 L770.94,655.63 L772.45,655.57 L773.96,655.51 L775.47,655.46 L776.98,655.40 L778.49,655.35 L780.00,655.31" fill="none" stroke="#3DA936" stroke-width="2.2" stroke-linejoin="round" stroke-linecap="butt" />
<line x1="229.7" y1="994.7" x2="262.90000000000003" y2="994.7" stroke="#BA4A12" stroke-width="2.5" stroke-linecap="round"/>
<text x="268.39" y="998.60" font-family='"Liberation Sans", sans-serif' font-size="18.6" font-weight="normal" stroke="#000" stroke-width="0.8" stroke-linejoin="round" font-style="normal" fill="#000" textLength="24.00" lengthAdjust="spacingAndGlyphs" >pH</text>
<text x="299.21" y="998.60" font-family='"Liberation Sans", sans-serif' font-size="18.6" font-weight="normal" stroke="#000" stroke-width="0.8" stroke-linejoin="round" font-style="normal" fill="#000" textLength="10.12" lengthAdjust="spacingAndGlyphs" >2</text>
<line x1="328.0" y1="994.7" x2="360.5" y2="994.7" stroke="#1C6CC8" stroke-width="2.5" stroke-linecap="round"/>
<text x="365.99" y="998.60" font-family='"Liberation Sans", sans-serif' font-size="18.6" font-weight="normal" stroke="#000" stroke-width="0.8" stroke-linejoin="round" font-style="normal" fill="#000" textLength="24.00" lengthAdjust="spacingAndGlyphs" >pH</text>
<text x="397.02" y="998.60" font-family='"Liberation Sans", sans-serif' font-size="18.6" font-weight="normal" stroke="#000" stroke-width="0.8" stroke-linejoin="round" font-style="normal" fill="#000" textLength="9.81" lengthAdjust="spacingAndGlyphs" >3</text>
<line x1="426.3" y1="994.7" x2="460.2" y2="994.7" stroke="#FC7B2B" stroke-width="2.5" stroke-linecap="round"/>
<text x="463.89" y="998.60" font-family='"Liberation Sans", sans-serif' font-size="18.6" font-weight="normal" stroke="#000" stroke-width="0.8" stroke-linejoin="round" font-style="normal" fill="#000" textLength="24.00" lengthAdjust="spacingAndGlyphs" >pH</text>
<text x="495.60" y="998.60" font-family='"Liberation Sans", sans-serif' font-size="18.6" font-weight="normal" stroke="#000" stroke-width="0.8" stroke-linejoin="round" font-style="normal" fill="#000" textLength="9.23" lengthAdjust="spacingAndGlyphs" >4</text>
<line x1="523.9000000000001" y1="994.7" x2="557.8" y2="994.7" stroke="#3DA936" stroke-width="2.5" stroke-linecap="round"/>
<text x="562.19" y="998.60" font-family='"Liberation Sans", sans-serif' font-size="18.6" font-weight="normal" stroke="#000" stroke-width="0.8" stroke-linejoin="round" font-style="normal" fill="#000" textLength="24.00" lengthAdjust="spacingAndGlyphs" >pH</text>
<text x="593.62" y="998.60" font-family='"Liberation Sans", sans-serif' font-size="18.6" font-weight="normal" stroke="#000" stroke-width="0.8" stroke-linejoin="round" font-style="normal" fill="#000" textLength="9.71" lengthAdjust="spacingAndGlyphs" >5</text>
<rect x="902.1" y="672" width="35.7" height="199.29999999999995" fill="#1D70C8"/>
<rect x="967.1" y="634" width="35.7" height="237.29999999999995" fill="#1D70C8"/>
<rect x="1032.1" y="632.3" width="35.7" height="239.0" fill="#1D70C8"/>
<rect x="1097.1" y="650.6" width="35.7" height="220.69999999999993" fill="#1D70C8"/>
<line x1="888.5" y1="871.8" x2="1148" y2="871.8" stroke="#222" stroke-width="1.4" />
<text x="901.30" y="657.30" font-family='"Liberation Sans", sans-serif' font-size="18.6" font-weight="normal" stroke="#000" stroke-width="0.8" stroke-linejoin="round" font-style="normal" fill="#000" textLength="37.33" lengthAdjust="spacingAndGlyphs" >84%</text>
<text x="960.78" y="619.30" font-family='"Liberation Sans", sans-serif' font-size="18.6" font-weight="normal" stroke="#000" stroke-width="0.8" stroke-linejoin="round" font-style="normal" fill="#000" textLength="48.50" lengthAdjust="spacingAndGlyphs" >100%</text>
<text x="1026.38" y="617.50" font-family='"Liberation Sans", sans-serif' font-size="18.6" font-weight="normal" stroke="#000" stroke-width="0.8" stroke-linejoin="round" font-style="normal" fill="#000" textLength="48.50" lengthAdjust="spacingAndGlyphs" >100%</text>
<text x="1096.59" y="636.20" font-family='"Liberation Sans", sans-serif' font-size="18.6" font-weight="normal" stroke="#000" stroke-width="0.8" stroke-linejoin="round" font-style="normal" fill="#000" textLength="37.74" lengthAdjust="spacingAndGlyphs" >92%</text>
<text x="900.19" y="904.90" font-family='"Liberation Sans", sans-serif' font-size="18.6" font-weight="normal" stroke="#000" stroke-width="0.8" stroke-linejoin="round" font-style="normal" fill="#000" textLength="24.00" lengthAdjust="spacingAndGlyphs" >pH</text>
<text x="930.71" y="904.90" font-family='"Liberation Sans", sans-serif' font-size="18.6" font-weight="normal" stroke="#000" stroke-width="0.8" stroke-linejoin="round" font-style="normal" fill="#000" textLength="10.12" lengthAdjust="spacingAndGlyphs" >2</text>
<text x="965.29" y="904.90" font-family='"Liberation Sans", sans-serif' font-size="18.6" font-weight="normal" stroke="#000" stroke-width="0.8" stroke-linejoin="round" font-style="normal" fill="#000" textLength="24.00" lengthAdjust="spacingAndGlyphs" >pH</text>
<text x="996.02" y="904.90" font-family='"Liberation Sans", sans-serif' font-size="18.6" font-weight="normal" stroke="#000" stroke-width="0.8" stroke-linejoin="round" font-style="normal" fill="#000" textLength="9.81" lengthAdjust="spacingAndGlyphs" >3</text>
<text x="1030.09" y="904.90" font-family='"Liberation Sans", sans-serif' font-size="18.6" font-weight="normal" stroke="#000" stroke-width="0.8" stroke-linejoin="round" font-style="normal" fill="#000" textLength="24.00" lengthAdjust="spacingAndGlyphs" >pH</text>
<text x="1061.90" y="904.90" font-family='"Liberation Sans", sans-serif' font-size="18.6" font-weight="normal" stroke="#000" stroke-width="0.8" stroke-linejoin="round" font-style="normal" fill="#000" textLength="9.23" lengthAdjust="spacingAndGlyphs" >4</text>
<text x="1095.69" y="904.90" font-family='"Liberation Sans", sans-serif' font-size="18.6" font-weight="normal" stroke="#000" stroke-width="0.8" stroke-linejoin="round" font-style="normal" fill="#000" textLength="24.00" lengthAdjust="spacingAndGlyphs" >pH</text>
<text x="1127.02" y="904.90" font-family='"Liberation Sans", sans-serif' font-size="18.6" font-weight="normal" stroke="#000" stroke-width="0.8" stroke-linejoin="round" font-style="normal" fill="#000" textLength="9.71" lengthAdjust="spacingAndGlyphs" >5</text>
<text transform="translate(853.00,832.69) rotate(-90)" x="0" y="0" font-family='"Liberation Sans", sans-serif' font-size="18.6" font-weight="normal" stroke="#000" stroke-width="0.8" stroke-linejoin="round" font-style="normal" fill="#000" textLength="207.15" lengthAdjust="spacingAndGlyphs">Relative Absorbance at</text>
<text transform="translate(879.20,814.23) rotate(-90)" x="0" y="0" font-family='"Liberation Sans", sans-serif' font-size="18.6" font-weight="normal" stroke="#000" stroke-width="0.8" stroke-linejoin="round" font-style="normal" fill="#000" textLength="170.38" lengthAdjust="spacingAndGlyphs">510 nm after 3 min</text>
<rect x="884.7" y="923.9" width="262" height="83" fill="#ecebea"/><rect x="884.7" y="923.9" width="262" height="12" fill="#e3e2e0"/><path d="M885.3,936.0 L945.8,936.0 L945.8,1003.0 Q945.8,1006.0 942.8,1006.0 L888.3,1006.0 Q885.3,1006.0 885.3,1003.0 Z" fill="#e9dcdc"/><path d="M885.3,936.0 Q915.55,940.0 945.8,936.0 L945.8,943.0 Q915.55,947.5 885.3,943.0 Z" fill="#c99aa3"/><path d="M888.3,939.5 Q915.55,943.5 942.8,939.5" fill="none" stroke="#ecdcdc" stroke-width="1.3" opacity="0.8"/><path d="M885.3,944.5 Q915.55,948.5 945.8,944.5" fill="none" stroke="#f4eeee" stroke-width="1.2"/><rect x="886.3" y="997" width="58.5" height="8" fill="#efe8e8" opacity="0.7"/><path d="M888.3,1005.2 L942.8,1005.2" stroke="#c9c1c1" stroke-width="0.8"/><path d="M946.8,937.0 L1010.5,937.0 L1010.5,1003.0 Q1010.5,1006.0 1007.5,1006.0 L949.8,1006.0 Q946.8,1006.0 946.8,1003.0 Z" fill="#e8dada"/><path d="M946.8,937.0 Q978.65,941.0 1010.5,937.0 L1010.5,944.0 Q978.65,948.5 946.8,944.0 Z" fill="#c99aa3"/><path d="M949.8,940.5 Q978.65,944.5 1007.5,940.5" fill="none" stroke="#ecdcdc" stroke-width="1.3" opacity="0.8"/><path d="M946.8,945.5 Q978.65,949.5 1010.5,945.5" fill="none" stroke="#f4eeee" stroke-width="1.2"/><rect x="947.8" y="997" width="61.700000000000045" height="8" fill="#efe8e8" opacity="0.7"/><path d="M949.8,1005.2 L1007.5,1005.2" stroke="#c9c1c1" stroke-width="0.8"/><path d="M1015.9,937.0 L1078.2,937.0 L1078.2,1003.0 Q1078.2,1006.0 1075.2,1006.0 L1018.9,1006.0 Q1015.9,1006.0 1015.9,1003.0 Z" fill="#e7d9d9"/><path d="M1015.9,937.0 Q1047.05,941.0 1078.2,937.0 L1078.2,944.0 Q1047.05,948.5 1015.9,944.0 Z" fill="#c8a0a2"/><path d="M1018.9,940.5 Q1047.05,944.5 1075.2,940.5" fill="none" stroke="#ecdcdc" stroke-width="1.3" opacity="0.8"/><path d="M1015.9,945.5 Q1047.05,949.5 1078.2,945.5" fill="none" stroke="#f4eeee" stroke-width="1.2"/><rect x="1016.9" y="997" width="60.30000000000007" height="8" fill="#efe8e8" opacity="0.7"/><path d="M1018.9,1005.2 L1075.2,1005.2" stroke="#c9c1c1" stroke-width="0.8"/><path d="M1083.0,935.5 L1144.6,935.5 L1144.6,1003.0 Q1144.6,1006.0 1141.6,1006.0 L1086.0,1006.0 Q1083.0,1006.0 1083.0,1003.0 Z" fill="#e9dedb"/><path d="M1083.0,935.5 Q1113.8,939.5 1144.6,935.5 L1144.6,942.5 Q1113.8,947.0 1083.0,942.5 Z" fill="#c9a597"/><path d="M1086.0,939.0 Q1113.8,943.0 1141.6,939.0" fill="none" stroke="#ecdcdc" stroke-width="1.3" opacity="0.8"/><path d="M1083.0,944.0 Q1113.8,948.0 1144.6,944.0" fill="none" stroke="#f4eeee" stroke-width="1.2"/><rect x="1084.0" y="997" width="59.59999999999991" height="8" fill="#efe8e8" opacity="0.7"/><path d="M1086.0,1005.2 L1141.6,1005.2" stroke="#c9c1c1" stroke-width="0.8"/><rect x="945.8" y="923.9" width="1" height="82" fill="#d8d0d0"/><rect x="1010.5" y="923.9" width="5.4" height="82" fill="#eeecec"/><rect x="1078.2" y="923.9" width="4.8" height="82" fill="#eeecec"/>
</svg>
</body></html>
